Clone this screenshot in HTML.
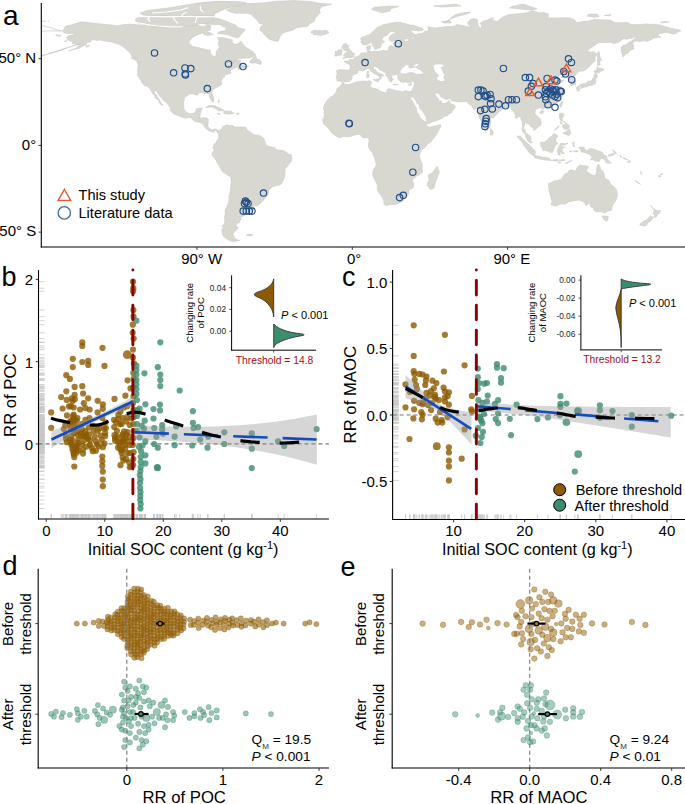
<!DOCTYPE html>
<html><head><meta charset="utf-8"><style>
html,body{margin:0;padding:0;background:#fff;}
svg{display:block;}
text{font-family:"Liberation Sans", sans-serif;}
</style></head><body>
<svg width="685" height="804" viewBox="0 0 685 804">
<rect width="685" height="804" fill="#fff"/>
<defs><clipPath id="mapclip"><rect x="41.5" y="0" width="643.5" height="246.5"/></clipPath></defs>
<g clip-path="url(#mapclip)">
<path d="M62.2,31.7 L65.7,26.0 L70.9,25.1 L81.2,21.8 L89.9,22.7 L96.8,23.6 L108.9,24.8 L117.5,25.8 L122.7,24.8 L129.6,24.1 L138.2,24.8 L145.1,25.6 L153.8,26.2 L162.4,27.2 L169.3,26.2 L177.9,27.9 L183.1,26.2 L186.6,28.4 L188.3,21.5 L190.9,20.6 L196.9,25.0 L203.8,26.7 L207.3,24.4 L210.7,25.8 L210.2,30.2 L203.8,31.0 L201.2,33.6 L196.1,35.4 L191.7,38.3 L189.1,41.4 L189.1,43.5 L192.6,46.6 L199.5,47.8 L205.5,49.6 L210.2,49.9 L210.7,53.6 L213.3,56.5 L215.9,56.2 L216.3,51.0 L219.7,47.5 L218.0,44.0 L219.0,40.9 L217.3,37.4 L221.9,37.6 L228.0,38.8 L232.3,39.7 L232.3,43.2 L235.8,44.5 L238.4,43.5 L240.8,40.9 L243.5,44.9 L246.1,47.5 L250.4,50.1 L253.4,52.3 L256.0,54.9 L253.9,56.3 L249.6,58.1 L243.5,58.2 L237.5,58.8 L233.2,61.9 L230.1,63.8 L234.9,60.7 L237.5,60.1 L241.3,60.7 L240.1,62.2 L240.4,63.9 L242.7,65.7 L246.1,66.2 L248.7,65.9 L247.0,67.1 L242.7,68.1 L238.7,69.7 L238.0,68.1 L240.9,66.9 L236.6,67.2 L234.0,68.6 L231.1,69.7 L230.1,71.7 L231.4,73.0 L228.9,73.7 L224.5,75.0 L224.5,76.9 L222.8,78.2 L221.3,80.4 L221.3,82.1 L221.9,84.2 L220.2,85.3 L217.8,86.7 L215.6,87.9 L212.8,89.6 L211.8,92.5 L213.1,96.0 L214.0,99.0 L213.5,101.7 L212.1,101.7 L211.1,100.0 L209.5,97.0 L209.5,95.1 L208.0,93.6 L206.4,93.4 L204.7,93.9 L203.0,92.7 L199.5,92.7 L197.6,93.1 L198.3,95.0 L196.1,95.0 L193.5,94.1 L190.0,93.9 L187.8,95.3 L184.5,97.4 L184.1,100.3 L183.6,103.8 L183.6,107.3 L184.5,109.9 L186.0,112.1 L188.6,113.3 L191.7,113.5 L194.3,113.3 L195.9,111.3 L196.2,109.0 L200.0,108.1 L202.1,108.1 L201.2,111.1 L200.4,113.5 L199.9,117.3 L198.8,118.0 L201.2,118.0 L205.5,117.7 L208.5,119.4 L208.0,123.7 L207.8,126.3 L209.9,128.9 L212.5,130.0 L215.0,128.8 L218.0,130.3 L218.8,131.0 L217.8,132.9 L216.9,131.4 L215.0,130.0 L213.7,132.4 L211.6,131.5 L209.0,131.0 L206.1,128.4 L204.3,126.7 L204.2,125.8 L201.6,123.2 L198.6,122.2 L194.5,121.3 L191.7,118.4 L189.1,117.3 L185.7,118.2 L182.2,117.2 L177.9,115.4 L173.6,113.7 L170.2,110.4 L170.5,108.0 L168.6,105.0 L165.8,102.1 L163.4,100.7 L161.0,97.2 L158.6,95.1 L156.9,91.3 L154.1,90.3 L154.6,93.1 L156.7,95.3 L157.6,97.4 L159.8,100.3 L161.5,103.5 L163.2,105.2 L161.9,105.2 L158.9,102.6 L158.6,100.3 L155.1,98.1 L155.3,96.2 L152.7,93.8 L150.8,90.6 L150.0,88.7 L147.9,86.5 L144.1,85.4 L141.8,82.5 L140.8,80.2 L138.6,77.1 L137.5,75.4 L137.9,72.6 L137.4,70.9 L138.2,65.3 L137.0,61.7 L139.9,61.3 L139.1,59.6 L135.6,58.2 L132.2,57.0 L131.3,54.4 L127.9,51.0 L126.1,49.2 L122.7,46.6 L118.4,44.0 L115.8,43.2 L110.6,41.8 L105.4,41.2 L100.2,40.0 L96.8,40.4 L92.5,39.3 L90.2,42.3 L87.3,42.3 L86.4,44.4 L82.1,46.6 L78.6,48.4 L73.5,49.6 L68.3,51.0 L70.9,49.9 L75.2,48.7 L78.6,45.8 L81.2,43.7 L77.8,44.0 L72.6,43.8 L72.6,41.6 L68.6,40.4 L66.9,38.8 L66.4,37.4 L68.1,35.9 L73.5,34.8 L74.7,33.4 L70.9,33.4 L67.4,33.6 L65.0,33.1Z" fill="#d9d8d0" stroke="#c4c4c0" stroke-width="0.5" stroke-linejoin="round"/>
<path d="M226.3,9.7 L236.6,6.4 L245.3,3.6 L262.5,2.9 L276.3,1.2 L295.3,0.5 L310.9,1.6 L319.5,3.3 L331.6,4.2 L321.2,6.8 L319.5,10.2 L320.4,12.8 L317.8,15.4 L315.2,18.0 L314.3,21.5 L310.0,23.6 L307.4,26.5 L297.1,27.4 L292.7,30.3 L286.7,31.7 L282.4,33.4 L279.8,36.9 L278.1,41.2 L274.6,41.1 L268.6,39.0 L265.1,35.4 L262.5,31.9 L259.8,30.2 L260.8,26.7 L264.2,24.4 L259.1,23.2 L257.3,20.6 L254.8,18.0 L251.3,14.6 L247.0,13.3 L234.9,13.2 L228.9,11.4Z" fill="#d9d8d0" stroke="#c4c4c0" stroke-width="0.5" stroke-linejoin="round"/>
<path d="M205.5,18.0 L214.2,17.5 L221.1,19.2 L229.7,22.7 L235.8,25.0 L237.5,27.6 L245.3,29.6 L242.7,32.8 L240.1,35.4 L238.4,38.0 L234.0,37.1 L228.0,34.8 L222.8,34.0 L217.6,33.8 L218.5,31.9 L226.3,30.2 L225.4,27.6 L219.4,24.4 L212.5,24.4 L206.4,24.1 L200.4,23.2 L197.3,21.0 L200.4,18.0Z" fill="#d9d8d0" stroke="#c4c4c0" stroke-width="0.5" stroke-linejoin="round"/>
<path d="M146.8,21.5 L150.3,18.9 L158.9,19.1 L167.6,18.0 L171.9,19.8 L177.1,23.2 L174.5,26.2 L167.6,26.7 L157.2,26.9 L150.3,25.5 L147.7,23.4Z" fill="#d9d8d0" stroke="#c4c4c0" stroke-width="0.5" stroke-linejoin="round"/>
<path d="M136.5,20.8 L139.1,17.2 L146.8,16.5 L150.3,18.0 L146.8,20.6 L143.4,21.8 L136.5,21.5Z" fill="#d9d8d0" stroke="#c4c4c0" stroke-width="0.5" stroke-linejoin="round"/>
<path d="M196.9,12.0 L205.5,13.2 L215.9,13.3 L222.8,9.4 L228.0,7.6 L238.4,5.5 L245.3,3.3 L231.4,1.7 L214.2,1.6 L196.9,3.3 L193.5,5.0 L196.9,6.8 L202.1,8.5 L196.9,9.4Z" fill="#d9d8d0" stroke="#c4c4c0" stroke-width="0.5" stroke-linejoin="round"/>
<path d="M193.5,12.8 L200.4,12.8 L209.0,12.8 L214.2,13.2 L214.2,16.3 L205.5,16.3 L193.5,15.8 L190.0,14.6Z" fill="#d9d8d0" stroke="#c4c4c0" stroke-width="0.5" stroke-linejoin="round"/>
<path d="M188.3,5.9 L193.5,4.5 L202.1,6.8 L198.6,10.2 L193.5,9.4 L186.6,7.6Z" fill="#d9d8d0" stroke="#c4c4c0" stroke-width="0.5" stroke-linejoin="round"/>
<path d="M150.3,13.7 L158.9,12.8 L169.3,14.6 L169.3,15.8 L158.9,16.3 L150.3,15.4Z" fill="#d9d8d0" stroke="#c4c4c0" stroke-width="0.5" stroke-linejoin="round"/>
<path d="M177.9,17.2 L184.8,17.5 L184.8,21.5 L177.9,20.6Z" fill="#d9d8d0" stroke="#c4c4c0" stroke-width="0.5" stroke-linejoin="round"/>
<path d="M188.3,17.2 L195.2,17.2 L195.2,20.1 L190.0,20.1Z" fill="#d9d8d0" stroke="#c4c4c0" stroke-width="0.5" stroke-linejoin="round"/>
<path d="M177.9,12.8 L184.8,12.7 L184.8,15.4 L179.7,15.1Z" fill="#d9d8d0" stroke="#c4c4c0" stroke-width="0.5" stroke-linejoin="round"/>
<path d="M202.1,31.9 L207.3,31.5 L213.3,34.5 L207.3,35.4 L203.8,34.5Z" fill="#d9d8d0" stroke="#c4c4c0" stroke-width="0.5" stroke-linejoin="round"/>
<path d="M310.9,31.9 L314.3,30.3 L321.2,30.7 L326.4,30.2 L329.0,32.4 L326.4,34.0 L320.4,35.5 L316.0,34.8 L313.1,34.7 L314.3,33.4 L310.9,32.9Z" fill="#d9d8d0" stroke="#c4c4c0" stroke-width="0.5" stroke-linejoin="round"/>
<path d="M249.9,62.9 L255.6,62.9 L260.8,64.5 L261.3,62.6 L259.9,60.1 L256.5,59.1 L256.0,56.0 L253.4,57.5 L249.7,61.3Z" fill="#d9d8d0" stroke="#c4c4c0" stroke-width="0.5" stroke-linejoin="round"/>
<path d="M205.7,107.4 L209.0,105.5 L214.2,105.4 L218.5,107.6 L221.9,109.0 L224.2,110.4 L218.5,110.9 L217.6,109.5 L211.6,106.9 L207.3,107.4Z" fill="#d9d8d0" stroke="#c4c4c0" stroke-width="0.5" stroke-linejoin="round"/>
<path d="M223.8,111.1 L226.6,110.9 L231.4,111.3 L234.2,113.2 L229.7,114.2 L223.8,113.5Z" fill="#d9d8d0" stroke="#c4c4c0" stroke-width="0.5" stroke-linejoin="round"/>
<path d="M217.1,113.5 L220.6,113.9 L219.7,114.4 L217.3,113.9Z" fill="#d9d8d0" stroke="#c4c4c0" stroke-width="0.5" stroke-linejoin="round"/>
<path d="M130.8,57.4 L136.5,58.2 L139.2,61.5 L136.8,61.2 L133.0,59.1Z" fill="#d9d8d0" stroke="#c4c4c0" stroke-width="0.5" stroke-linejoin="round"/>
<path d="M218.8,130.7 L221.8,128.8 L222.5,126.7 L224.2,126.0 L227.5,124.8 L229.0,125.6 L231.1,125.5 L233.2,125.6 L234.6,127.0 L238.4,127.0 L241.8,127.0 L245.3,127.0 L247.5,130.5 L249.9,131.5 L252.2,133.6 L253.9,135.0 L257.3,135.2 L259.9,135.7 L262.5,137.6 L263.9,138.5 L265.1,142.1 L266.0,144.9 L268.6,146.3 L274.6,147.8 L276.3,149.7 L279.8,150.3 L283.2,150.4 L285.8,152.0 L288.4,153.9 L291.2,154.8 L292.0,158.4 L291.5,161.0 L289.3,163.6 L287.6,166.2 L285.0,168.8 L284.8,175.6 L283.8,179.2 L281.7,183.4 L279.8,185.1 L275.5,185.8 L272.0,187.2 L268.6,190.3 L268.4,194.4 L266.1,197.0 L263.7,200.0 L262.0,201.5 L260.1,203.8 L257.7,205.7 L255.1,205.9 L252.3,205.0 L253.5,206.9 L254.4,208.5 L252.9,211.6 L249.6,212.5 L245.1,212.8 L244.7,215.6 L242.1,216.6 L239.9,216.5 L241.3,218.7 L240.3,219.9 L239.6,222.5 L237.0,223.6 L235.6,225.8 L237.5,227.0 L238.5,228.1 L235.2,231.2 L233.2,232.9 L233.0,234.8 L234.2,236.0 L233.9,236.6 L234.4,238.1 L237.5,240.0 L239.7,240.5 L236.6,240.9 L233.9,241.8 L230.6,240.9 L228.0,239.7 L223.7,236.6 L222.3,233.8 L221.9,229.8 L223.7,226.9 L221.9,226.2 L224.0,224.3 L224.9,220.8 L224.5,217.8 L225.2,213.9 L225.2,210.0 L226.8,206.9 L228.7,202.6 L228.9,198.3 L229.2,195.3 L230.1,192.2 L230.8,186.5 L231.1,180.9 L230.9,177.1 L229.0,175.9 L225.9,174.0 L222.5,171.7 L220.6,168.8 L219.0,165.8 L217.1,162.4 L215.0,158.6 L213.1,156.5 L212.1,155.5 L211.9,152.9 L213.7,151.3 L214.5,149.9 L212.6,148.2 L213.5,146.1 L214.0,144.0 L215.9,143.1 L216.6,141.2 L218.7,138.5 L218.7,134.0 L217.6,132.7 L218.0,131.7Z" fill="#d9d8d0" stroke="#c4c4c0" stroke-width="0.5" stroke-linejoin="round"/>
<path d="M342.1,83.4 L340.4,86.3 L337.5,87.9 L335.7,92.7 L333.3,95.5 L329.9,97.4 L327.3,100.0 L325.0,103.8 L323.1,108.5 L324.3,110.7 L323.8,112.3 L324.5,114.0 L323.8,117.7 L322.6,119.6 L323.1,121.5 L323.5,124.1 L325.5,125.6 L326.9,127.0 L329.3,129.3 L330.7,131.7 L332.6,133.4 L335.9,135.9 L339.2,137.8 L343.7,136.6 L347.3,136.7 L350.6,136.4 L354.0,135.2 L357.0,134.5 L359.9,134.5 L362.0,136.4 L362.8,137.9 L364.4,137.8 L367.0,137.6 L368.7,138.8 L369.2,140.5 L368.5,143.5 L368.4,146.3 L369.6,149.7 L372.2,152.2 L373.4,155.5 L374.7,158.4 L375.4,161.0 L376.0,163.8 L375.8,166.2 L373.9,168.8 L372.7,173.1 L372.7,175.7 L374.4,179.2 L376.3,183.0 L377.3,185.1 L377.3,189.4 L378.5,192.2 L380.8,195.0 L382.5,198.1 L383.9,200.9 L383.9,204.0 L384.2,204.5 L386.3,205.7 L388.6,205.0 L391.3,204.3 L395.1,204.7 L396.7,204.1 L399.8,202.9 L402.4,201.2 L404.6,199.1 L406.3,196.4 L408.2,194.8 L409.1,190.8 L408.6,190.1 L412.7,188.0 L413.6,187.0 L413.4,183.2 L412.2,179.9 L415.0,177.6 L417.0,175.7 L420.3,174.2 L422.4,172.1 L422.2,167.1 L422.1,163.6 L420.2,159.6 L420.0,157.2 L419.3,156.5 L420.0,153.5 L421.7,150.3 L423.9,148.3 L425.8,146.4 L427.9,143.7 L430.9,141.9 L432.6,139.5 L434.8,137.1 L436.9,134.0 L438.3,131.0 L439.5,128.4 L440.7,127.0 L440.9,124.8 L439.0,124.8 L436.6,125.8 L434.3,126.0 L430.9,126.9 L428.6,127.2 L427.2,125.5 L426.2,125.1 L427.1,123.9 L425.8,122.0 L424.3,121.0 L422.9,120.1 L420.7,118.5 L419.6,116.6 L418.8,114.2 L417.0,112.8 L416.5,109.7 L416.4,108.1 L415.7,106.9 L413.8,104.0 L413.1,102.4 L411.9,100.3 L410.7,98.3 L410.1,97.2 L408.8,94.1 L408.4,93.6 L408.6,92.5 L408.9,93.6 L410.3,96.4 L411.5,97.2 L412.6,94.3 L411.3,91.2 L409.6,91.5 L408.1,91.3 L405.8,90.6 L404.1,91.2 L402.4,91.9 L399.8,91.2 L395.6,90.6 L392.4,89.6 L389.4,88.6 L387.0,89.8 L386.8,91.7 L385.3,92.9 L383.7,92.2 L381.7,91.5 L379.6,91.0 L378.5,89.4 L375.1,88.6 L372.2,88.0 L371.1,87.0 L369.6,86.1 L370.9,84.7 L371.5,81.6 L369.9,80.9 L369.0,80.8 L366.8,81.5 L363.2,81.1 L359.2,81.5 L355.8,82.0 L352.3,83.4 L350.1,84.2 L348.5,84.6 L346.1,84.4 L343.3,83.4Z" fill="#d9d8d0" stroke="#c4c4c0" stroke-width="0.5" stroke-linejoin="round"/>
<path d="M437.4,166.2 L439.3,172.3 L437.8,175.7 L436.0,180.9 L433.8,188.4 L430.3,189.6 L427.7,186.1 L427.1,183.4 L429.0,179.9 L428.3,174.9 L432.6,172.6 L435.2,168.8Z" fill="#d9d8d0" stroke="#c4c4c0" stroke-width="0.5" stroke-linejoin="round"/>
<path d="M342.6,83.0 L341.3,81.6 L339.5,80.9 L336.9,81.3 L337.1,79.0 L335.9,78.2 L336.8,75.7 L337.1,72.6 L336.2,70.9 L338.5,69.7 L342.3,69.8 L346.3,70.0 L349.2,70.2 L350.2,68.1 L350.2,65.7 L348.5,63.8 L344.7,62.6 L344.2,61.2 L347.1,60.8 L349.5,61.2 L349.0,59.3 L350.2,59.8 L352.6,59.6 L354.9,58.6 L355.1,57.2 L356.6,56.8 L358.9,56.2 L360.1,54.4 L360.8,53.2 L363.5,52.7 L366.5,52.7 L367.5,51.8 L367.1,49.4 L366.3,47.3 L367.1,46.4 L370.6,45.4 L370.1,47.5 L370.6,48.2 L369.2,50.1 L371.3,51.8 L373.9,51.1 L376.3,51.6 L380.8,51.0 L384.1,50.4 L386.1,51.1 L388.6,50.1 L388.7,47.7 L389.6,45.9 L391.3,45.4 L393.4,46.6 L394.4,45.2 L392.7,43.2 L394.8,42.3 L400.6,42.3 L404.6,41.6 L402.5,41.1 L398.1,40.7 L391.8,41.6 L389.1,40.0 L389.4,37.1 L390.8,35.4 L394.9,32.9 L396.2,32.6 L394.8,31.4 L390.8,31.4 L388.9,33.1 L387.2,35.2 L384.8,35.9 L382.9,37.4 L382.0,39.2 L382.2,40.4 L384.8,41.4 L383.7,42.5 L381.3,43.8 L380.8,46.6 L379.8,48.2 L377.7,48.0 L376.8,49.4 L374.6,49.2 L374.6,47.5 L372.8,45.8 L372.2,43.5 L370.4,41.8 L369.9,43.2 L366.5,44.7 L363.7,44.9 L362.0,43.8 L360.9,42.3 L361.3,40.6 L360.8,38.8 L361.6,37.4 L364.7,36.4 L367.0,35.4 L369.9,34.5 L371.8,32.6 L374.1,31.0 L375.6,28.8 L378.2,26.9 L380.8,26.2 L383.4,24.6 L386.0,24.1 L389.4,23.6 L392.9,22.9 L396.3,22.2 L400.6,22.4 L403.2,23.2 L405.8,23.6 L409.4,25.0 L414.5,25.6 L417.9,26.9 L422.4,28.2 L423.4,29.8 L421.4,30.7 L418.6,31.0 L415.3,30.5 L410.1,30.0 L412.4,32.8 L413.6,33.8 L416.2,34.8 L417.9,33.8 L421.0,33.4 L422.2,33.6 L424.5,31.4 L428.3,31.0 L428.6,27.9 L427.4,26.7 L431.7,27.6 L435.2,27.9 L443.8,27.0 L446.4,26.3 L450.7,26.7 L454.2,26.2 L456.8,24.4 L462.8,25.5 L468.0,26.7 L470.6,27.0 L470.0,25.8 L467.6,24.1 L468.0,22.0 L470.9,19.2 L474.0,18.4 L476.6,19.2 L478.0,20.3 L477.1,22.4 L478.0,23.4 L477.6,25.8 L479.2,26.7 L480.8,28.4 L481.8,25.8 L480.1,23.2 L483.5,21.0 L487.8,19.9 L491.6,17.9 L493.9,18.0 L491.3,20.1 L497.3,21.5 L501.6,17.7 L507.7,14.9 L516.3,13.9 L522.9,13.2 L526.3,12.8 L532.4,10.7 L535.3,11.4 L537.9,12.8 L543.9,12.5 L548.3,14.0 L548.3,17.7 L556.0,18.0 L564.7,17.7 L570.7,18.0 L574.7,19.8 L576.1,22.4 L579.0,22.5 L581.9,21.5 L587.1,21.3 L592.3,20.1 L595.7,19.2 L600.1,19.8 L610.4,20.1 L615.6,22.7 L623.4,22.4 L628.5,22.7 L631.1,24.8 L635.4,24.6 L641.5,24.4 L646.7,23.9 L650.1,24.3 L656.2,24.4 L660.7,25.1 L663.1,26.0 L666.5,26.9 L670.8,28.2 L676.0,29.3 L678.6,29.8 L680.9,30.8 L677.7,31.9 L676.0,33.8 L672.6,34.0 L669.1,33.1 L665.7,32.2 L663.1,32.8 L660.8,33.4 L658.8,33.1 L657.9,35.9 L661.3,37.4 L658.8,37.1 L653.6,38.3 L651.0,39.7 L646.7,41.4 L644.1,40.6 L638.9,41.8 L637.2,40.9 L634.6,41.6 L633.7,42.6 L632.0,44.5 L634.1,45.4 L632.9,47.8 L634.1,48.4 L631.6,49.7 L628.5,51.5 L628.0,53.2 L626.0,53.7 L624.2,55.8 L622.8,57.0 L622.3,54.1 L620.9,50.1 L621.5,47.0 L623.2,45.2 L625.6,44.9 L628.5,42.6 L631.6,40.9 L634.6,38.8 L635.8,37.4 L634.1,37.1 L632.0,38.5 L629.1,38.3 L627.7,39.3 L623.4,38.8 L618.7,42.3 L615.6,43.2 L613.5,43.5 L610.4,42.3 L607.0,42.6 L603.5,42.6 L599.2,42.6 L596.4,43.8 L594.9,45.2 L591.1,47.5 L588.5,50.1 L585.7,50.6 L589.2,51.8 L591.6,52.2 L593.1,51.5 L596.4,53.7 L596.4,54.9 L594.9,57.9 L594.9,61.3 L591.8,63.6 L589.7,66.0 L586.2,69.5 L582.3,71.2 L579.9,70.9 L578.0,72.1 L576.2,74.3 L576.1,74.7 L573.6,76.4 L572.4,77.3 L573.6,78.9 L575.4,80.8 L575.7,83.0 L575.4,84.4 L573.3,84.9 L570.7,85.8 L570.4,84.6 L570.9,82.7 L570.0,80.8 L570.2,79.9 L568.5,80.1 L567.8,78.5 L568.6,76.9 L566.9,76.3 L564.5,76.8 L562.1,78.0 L561.4,77.3 L563.3,75.4 L562.2,74.5 L560.5,75.0 L558.4,76.6 L556.9,77.6 L555.3,78.2 L556.2,79.4 L557.6,80.4 L558.4,80.9 L560.0,80.4 L561.0,79.9 L563.8,80.6 L562.9,81.5 L560.9,82.1 L558.8,83.7 L558.1,85.1 L560.0,86.0 L561.0,88.7 L562.8,90.5 L562.8,91.9 L560.3,92.9 L563.1,93.6 L562.4,96.4 L561.2,97.0 L560.2,99.0 L558.8,99.8 L558.6,101.6 L557.1,102.8 L555.7,103.6 L553.4,105.5 L551.5,105.9 L549.5,106.9 L548.3,106.6 L546.5,107.6 L543.6,108.3 L542.6,110.2 L541.9,108.3 L539.6,107.8 L537.7,108.5 L536.5,109.5 L535.1,111.1 L534.8,113.2 L536.3,115.2 L538.4,117.2 L540.3,118.9 L541.0,122.2 L540.8,125.1 L539.5,126.3 L537.6,127.4 L536.0,128.9 L533.8,130.5 L533.2,129.5 L533.8,128.2 L532.4,127.2 L531.0,127.0 L530.1,125.6 L529.4,124.3 L527.9,123.6 L526.5,123.4 L526.5,122.2 L525.1,122.2 L525.0,124.1 L523.6,127.4 L523.6,129.5 L524.8,129.5 L525.6,132.7 L526.7,133.4 L528.1,134.7 L529.4,135.0 L530.6,136.7 L530.8,138.5 L530.8,140.5 L531.7,141.6 L532.2,143.0 L531.0,143.1 L528.7,141.6 L527.4,140.7 L526.7,139.2 L525.8,136.9 L525.3,134.3 L524.1,132.7 L522.4,131.4 L522.0,129.8 L522.7,127.0 L522.4,124.6 L522.4,122.5 L521.2,119.8 L520.8,117.5 L520.1,116.1 L518.6,116.8 L517.0,118.2 L514.9,117.7 L515.6,115.4 L515.1,113.9 L513.7,111.8 L511.8,109.5 L511.1,108.7 L510.8,106.4 L509.4,106.4 L508.2,107.6 L507.2,107.3 L506.0,107.4 L505.1,108.0 L503.4,107.8 L501.6,110.2 L499.2,111.6 L497.5,113.7 L494.2,116.6 L494.2,117.5 L492.5,117.8 L490.9,117.8 L490.6,119.2 L490.8,122.4 L490.2,124.6 L490.1,127.4 L489.0,127.6 L488.5,128.9 L487.5,130.0 L486.1,131.5 L484.5,130.0 L483.5,127.6 L483.0,125.8 L482.5,125.0 L481.6,123.4 L481.1,121.1 L479.2,117.7 L478.5,114.4 L478.0,112.1 L478.0,110.0 L477.6,108.3 L478.0,107.3 L477.1,106.8 L475.2,109.4 L474.0,109.0 L471.8,107.1 L472.5,106.4 L470.6,105.0 L468.7,104.0 L466.9,101.4 L463.7,101.7 L458.5,101.9 L455.2,101.4 L453.3,101.0 L451.4,100.9 L450.4,98.4 L448.5,98.8 L446.7,99.5 L444.7,99.0 L442.9,97.6 L441.2,97.0 L440.0,95.5 L438.8,93.2 L437.9,93.4 L436.7,92.9 L435.2,93.4 L435.2,94.8 L436.6,96.9 L437.4,97.7 L438.8,99.1 L439.0,101.0 L440.0,102.4 L441.0,100.2 L441.4,101.7 L441.4,103.5 L443.1,103.5 L445.5,103.6 L447.9,101.4 L449.2,100.2 L449.7,102.2 L451.4,104.0 L453.6,104.5 L455.0,106.2 L455.5,106.8 L454.0,108.8 L453.3,110.0 L452.1,110.4 L451.9,112.5 L450.0,113.2 L447.8,114.9 L447.8,115.6 L445.9,115.9 L442.8,117.0 L442.4,118.4 L437.9,119.9 L436.4,121.1 L435.0,121.1 L433.4,121.8 L431.0,122.4 L430.0,123.4 L428.3,123.6 L427.4,123.6 L426.9,122.5 L426.5,121.0 L426.2,118.9 L426.0,117.2 L425.8,116.3 L424.5,114.6 L422.9,111.6 L421.7,110.4 L419.8,108.5 L419.6,106.2 L418.8,104.3 L417.0,103.3 L416.5,101.9 L414.8,99.3 L413.8,97.9 L412.0,96.7 L412.6,94.3 L411.5,91.3 L412.0,90.8 L412.7,88.6 L413.6,86.7 L414.3,84.1 L414.1,82.5 L414.8,82.0 L412.2,81.6 L410.1,82.8 L408.4,82.8 L405.1,81.8 L403.6,82.8 L401.9,81.8 L400.0,81.8 L400.0,80.8 L397.7,79.2 L398.6,77.6 L397.5,76.9 L398.2,75.4 L399.4,75.4 L402.0,75.2 L402.7,74.0 L397.2,74.7 L395.5,74.5 L393.6,75.6 L391.8,75.0 L391.3,76.1 L392.5,77.5 L391.8,78.7 L393.7,79.2 L392.2,79.9 L391.7,82.1 L390.6,81.5 L389.8,81.6 L388.7,79.9 L389.1,78.9 L388.0,78.0 L387.2,76.8 L385.8,75.4 L386.0,73.1 L384.2,71.9 L382.5,70.9 L379.9,70.0 L378.5,68.8 L377.0,67.1 L376.0,67.2 L374.9,66.2 L373.5,66.7 L373.4,68.1 L374.1,69.0 L375.8,70.0 L376.5,71.4 L378.4,72.8 L379.9,73.5 L382.5,74.7 L384.2,75.9 L383.2,76.1 L381.5,75.4 L381.0,76.8 L382.0,77.8 L381.0,78.2 L380.1,79.5 L379.4,79.7 L379.8,78.3 L379.4,76.1 L378.2,75.7 L376.6,74.7 L374.6,73.8 L373.2,72.8 L371.6,71.7 L370.4,71.1 L369.9,69.3 L367.7,68.5 L365.4,69.5 L363.5,70.7 L360.2,70.2 L357.7,70.7 L357.8,71.9 L357.8,72.8 L355.9,74.0 L353.7,74.3 L352.3,76.3 L351.8,77.3 L352.5,78.3 L351.3,79.2 L351.1,80.2 L349.9,80.6 L348.7,81.8 L346.4,81.8 L344.7,81.8 L343.7,82.5Z" fill="#d9d8d0" stroke="#c4c4c0" stroke-width="0.5" stroke-linejoin="round"/>
<path d="M342.5,58.6 L347.1,57.7 L352.3,57.4 L354.7,56.7 L353.2,55.6 L355.2,54.1 L352.6,52.7 L351.4,51.0 L349.7,49.2 L348.8,48.4 L347.8,47.8 L349.2,45.8 L346.3,45.4 L347.1,43.8 L343.7,43.8 L342.3,45.8 L342.8,47.8 L341.6,47.8 L343.7,49.6 L344.2,50.4 L346.8,50.3 L346.3,51.3 L347.1,52.0 L346.9,53.0 L344.4,53.0 L345.0,53.7 L345.2,54.8 L343.1,55.6 L345.4,56.0 L346.8,56.3 L345.0,56.7Z" fill="#d9d8d0" stroke="#c4c4c0" stroke-width="0.5" stroke-linejoin="round"/>
<path d="M341.9,54.9 L341.6,52.0 L342.6,51.0 L341.6,49.7 L339.7,49.6 L338.0,49.9 L337.5,51.3 L335.0,51.5 L335.2,53.0 L335.9,54.2 L334.3,55.5 L335.7,56.2 L338.5,55.6 L341.3,55.1Z" fill="#d9d8d0" stroke="#c4c4c0" stroke-width="0.5" stroke-linejoin="round"/>
<path d="M578.3,86.5 L580.9,84.1 L586.2,83.5 L588.3,80.8 L589.3,81.6 L591.4,80.6 L594.0,76.9 L594.0,75.2 L594.5,73.8 L596.6,73.7 L597.5,76.9 L595.7,79.0 L595.6,81.5 L595.4,83.5 L593.7,84.7 L591.9,85.3 L588.8,85.4 L587.1,87.2 L585.6,86.7 L585.4,85.4 L581.9,86.0 L578.5,86.7Z" fill="#d9d8d0" stroke="#c4c4c0" stroke-width="0.5" stroke-linejoin="round"/>
<path d="M594.0,71.7 L594.9,70.4 L596.6,70.4 L597.1,66.9 L599.2,68.3 L603.2,68.6 L603.5,70.4 L600.9,71.1 L599.7,72.6 L595.7,73.0Z" fill="#d9d8d0" stroke="#c4c4c0" stroke-width="0.5" stroke-linejoin="round"/>
<path d="M576.2,87.7 L577.1,86.7 L578.5,86.7 L580.0,88.2 L579.2,90.8 L577.6,91.5 L577.1,89.8 L576.1,88.7Z" fill="#d9d8d0" stroke="#c4c4c0" stroke-width="0.5" stroke-linejoin="round"/>
<path d="M580.7,87.5 L581.9,86.3 L584.7,86.1 L584.7,87.2 L582.4,87.7 L581.2,88.6Z" fill="#d9d8d0" stroke="#c4c4c0" stroke-width="0.5" stroke-linejoin="round"/>
<path d="M597.5,65.7 L600.1,64.8 L599.7,60.0 L601.6,60.5 L599.5,55.6 L599.5,52.7 L598.7,51.3 L598.0,52.7 L596.9,54.6 L597.8,57.0 L597.3,60.8 L597.6,63.6Z" fill="#d9d8d0" stroke="#c4c4c0" stroke-width="0.5" stroke-linejoin="round"/>
<path d="M559.7,105.5 L561.2,101.7 L562.8,102.1 L562.1,104.7 L560.9,107.4Z" fill="#d9d8d0" stroke="#c4c4c0" stroke-width="0.5" stroke-linejoin="round"/>
<path d="M539.8,112.1 L541.9,110.6 L543.9,111.4 L542.4,113.7 L540.0,113.3Z" fill="#d9d8d0" stroke="#c4c4c0" stroke-width="0.5" stroke-linejoin="round"/>
<path d="M490.1,131.5 L490.6,128.4 L492.5,130.7 L493.5,132.7 L492.7,134.7 L490.4,135.0Z" fill="#d9d8d0" stroke="#c4c4c0" stroke-width="0.5" stroke-linejoin="round"/>
<path d="M516.8,135.9 L520.6,136.4 L525.5,141.6 L531.3,146.8 L532.7,148.5 L535.3,150.9 L535.0,155.5 L532.9,155.6 L529.3,152.7 L526.7,149.2 L523.6,145.1 L522.5,142.5 L520.1,140.0 L517.9,137.6Z" fill="#d9d8d0" stroke="#c4c4c0" stroke-width="0.5" stroke-linejoin="round"/>
<path d="M533.9,157.2 L535.5,155.6 L538.8,156.3 L543.1,157.2 L546.7,157.4 L550.0,158.7 L550.0,160.5 L542.2,159.6 L536.2,158.2Z" fill="#d9d8d0" stroke="#c4c4c0" stroke-width="0.5" stroke-linejoin="round"/>
<path d="M540.5,142.8 L541.5,141.9 L543.9,142.6 L547.4,139.9 L549.5,137.4 L551.7,136.2 L553.8,133.4 L555.5,134.3 L558.1,136.2 L556.5,137.4 L555.9,138.3 L556.0,141.4 L557.8,143.8 L555.2,145.2 L554.8,147.1 L553.4,149.7 L552.6,152.2 L550.2,152.5 L547.4,150.9 L544.8,150.6 L542.6,150.4 L542.4,148.0 L540.7,146.3 L540.5,144.5Z" fill="#d9d8d0" stroke="#c4c4c0" stroke-width="0.5" stroke-linejoin="round"/>
<path d="M558.6,154.9 L560.2,154.9 L560.3,150.6 L562.1,153.7 L564.3,153.4 L561.7,150.3 L563.8,147.1 L565.2,147.0 L561.2,146.8 L559.7,144.5 L561.2,143.1 L564.7,143.8 L567.8,142.8 L568.1,143.1 L565.5,144.7 L560.5,145.4 L559.1,145.6 L557.4,150.3 L558.3,154.9Z" fill="#d9d8d0" stroke="#c4c4c0" stroke-width="0.5" stroke-linejoin="round"/>
<path d="M578.5,147.5 L583.7,147.0 L586.2,151.1 L590.6,148.2 L595.7,149.9 L601.8,152.0 L604.0,154.9 L607.0,156.0 L606.6,158.2 L609.2,161.0 L611.3,163.2 L606.4,163.1 L604.4,159.3 L601.4,158.6 L599.7,160.1 L599.7,161.2 L598.3,161.5 L595.7,161.2 L592.3,159.4 L590.6,160.0 L591.9,157.5 L590.6,154.9 L586.8,153.2 L583.3,152.2 L581.6,152.3 L580.2,150.3 L582.8,149.6 L580.5,149.2Z" fill="#d9d8d0" stroke="#c4c4c0" stroke-width="0.5" stroke-linejoin="round"/>
<path d="M559.5,113.3 L560.5,113.3 L563.3,113.3 L563.8,115.9 L562.9,117.3 L562.2,118.0 L562.4,120.8 L566.4,123.6 L565.2,122.0 L563.8,121.3 L560.5,120.6 L559.5,117.7Z" fill="#d9d8d0" stroke="#c4c4c0" stroke-width="0.5" stroke-linejoin="round"/>
<path d="M562.9,133.3 L565.5,131.9 L566.9,130.7 L569.0,128.4 L570.9,132.7 L569.8,134.7 L568.6,135.7 L566.4,134.5 L563.1,133.4Z" fill="#d9d8d0" stroke="#c4c4c0" stroke-width="0.5" stroke-linejoin="round"/>
<path d="M562.9,125.0 L567.2,123.7 L569.8,126.3 L568.1,128.4 L564.7,129.5 L562.8,127.2Z" fill="#d9d8d0" stroke="#c4c4c0" stroke-width="0.5" stroke-linejoin="round"/>
<path d="M548.3,183.5 L549.1,190.5 L550.8,197.4 L552.1,201.7 L550.8,204.8 L556.0,206.1 L559.5,204.3 L565.5,204.1 L568.1,202.1 L573.3,200.9 L578.5,200.0 L583.7,201.7 L586.2,205.7 L589.7,202.6 L590.6,206.9 L593.1,207.6 L593.7,210.0 L596.6,211.9 L600.9,211.6 L604.9,213.0 L607.8,210.9 L611.3,210.4 L612.1,206.9 L613.5,203.5 L615.8,200.9 L617.5,194.8 L616.5,189.6 L613.0,186.0 L610.4,184.0 L609.2,180.6 L604.9,178.2 L604.0,174.0 L603.2,171.4 L600.6,169.7 L600.1,167.1 L598.3,163.9 L596.8,167.6 L596.6,172.3 L595.0,175.7 L592.3,175.2 L588.8,172.8 L586.2,171.0 L588.5,166.7 L587.1,166.0 L581.9,165.5 L580.2,165.0 L577.3,167.2 L575.9,171.0 L572.9,170.2 L569.8,169.8 L566.9,173.6 L564.7,174.0 L563.3,176.4 L561.2,179.2 L556.9,180.6 L553.8,181.1 L550.2,183.2Z" fill="#d9d8d0" stroke="#c4c4c0" stroke-width="0.5" stroke-linejoin="round"/>
<path d="M602.1,215.9 L608.3,216.3 L607.8,220.3 L605.9,221.0 L603.2,218.7Z" fill="#d9d8d0" stroke="#c4c4c0" stroke-width="0.5" stroke-linejoin="round"/>
<path d="M650.5,205.0 L653.6,209.2 L656.0,210.4 L660.5,210.7 L659.4,213.3 L657.7,213.9 L656.2,217.0 L654.8,217.5 L653.7,216.8 L654.8,215.1 L653.1,213.9 L653.9,211.4 L653.1,209.0Z" fill="#d9d8d0" stroke="#c4c4c0" stroke-width="0.5" stroke-linejoin="round"/>
<path d="M650.5,215.6 L653.2,217.7 L651.3,219.9 L650.5,221.3 L648.0,222.2 L646.8,224.9 L644.1,226.2 L639.8,225.1 L640.6,223.4 L643.0,221.7 L647.2,219.4 L649.3,217.1Z" fill="#d9d8d0" stroke="#c4c4c0" stroke-width="0.5" stroke-linejoin="round"/>
<path d="M441.2,21.5 L443.8,22.9 L448.1,22.9 L451.6,23.1 L449.0,19.8 L451.6,17.2 L455.9,14.6 L462.8,12.8 L470.6,12.1 L468.0,13.7 L457.6,16.3 L453.3,18.0 L449.8,19.2 L447.3,20.6 L443.8,21.5Z" fill="#d9d8d0" stroke="#c4c4c0" stroke-width="0.5" stroke-linejoin="round"/>
<path d="M371.3,9.4 L374.7,7.1 L381.7,6.8 L388.6,5.9 L398.9,6.4 L390.3,8.8 L390.3,11.1 L381.7,12.8 L376.5,11.1Z" fill="#d9d8d0" stroke="#c4c4c0" stroke-width="0.5" stroke-linejoin="round"/>
<path d="M509.4,8.0 L512.9,6.2 L516.3,5.4 L520.6,4.5 L525.0,4.5 L529.3,6.2 L533.6,7.6 L537.0,8.8 L532.7,10.2 L526.7,9.7 L523.2,9.4 L518.0,8.8Z" fill="#d9d8d0" stroke="#c4c4c0" stroke-width="0.5" stroke-linejoin="round"/>
<path d="M587.1,16.3 L594.0,17.2 L599.2,16.8 L597.5,14.2 L590.6,14.0 L588.0,14.6Z" fill="#d9d8d0" stroke="#c4c4c0" stroke-width="0.5" stroke-linejoin="round"/>
<path d="M604.4,15.4 L611.3,14.6 L609.5,15.9Z" fill="#d9d8d0" stroke="#c4c4c0" stroke-width="0.5" stroke-linejoin="round"/>
<path d="M660.7,22.2 L664.8,21.5 L669.1,22.0 L666.5,22.5 L661.3,22.7Z" fill="#d9d8d0" stroke="#c4c4c0" stroke-width="0.5" stroke-linejoin="round"/>
<path d="M433.4,5.9 L455.9,4.2 L461.1,5.9 L442.1,7.1Z" fill="#d9d8d0" stroke="#c4c4c0" stroke-width="0.5" stroke-linejoin="round"/>
<path d="M373.7,79.4 L379.2,79.0 L378.4,81.8 L373.9,80.2Z" fill="#d9d8d0" stroke="#c4c4c0" stroke-width="0.5" stroke-linejoin="round"/>
<path d="M366.8,77.6 L366.5,74.5 L368.7,74.0 L369.2,75.7 L368.9,77.5Z" fill="#d9d8d0" stroke="#c4c4c0" stroke-width="0.5" stroke-linejoin="round"/>
<path d="M367.1,73.7 L367.1,71.7 L368.5,70.9 L368.7,72.6Z" fill="#d9d8d0" stroke="#c4c4c0" stroke-width="0.5" stroke-linejoin="round"/>
<path d="M392.9,84.2 L397.7,84.2 L397.5,84.7 L394.6,84.9Z" fill="#d9d8d0" stroke="#c4c4c0" stroke-width="0.5" stroke-linejoin="round"/>
<path d="M408.1,84.7 L411.9,83.5 L411.0,85.4 L408.4,85.3Z" fill="#d9d8d0" stroke="#c4c4c0" stroke-width="0.5" stroke-linejoin="round"/>
<path d="M139.9,13.2 L146.8,10.6 L157.2,9.2 L171.0,7.6 L183.1,5.4 L193.5,3.8 L205.5,2.4 L222.8,1.4 L240.1,1.7 L246.1,2.9 L238.4,5.5 L228.0,7.6 L222.8,9.4 L217.6,11.4 L214.2,13.2 L214.2,15.9 L193.5,15.8 L179.7,15.6 L162.4,15.8 L150.3,16.1 L143.4,15.1Z" fill="#d9d8d0" stroke="#c4c4c0" stroke-width="0.5" stroke-linejoin="round"/>
<path d="M135.6,19.1 L138.2,16.8 L148.6,16.8 L162.4,17.5 L176.2,17.5 L188.3,17.5 L196.9,17.5 L205.5,17.9 L212.5,17.5 L214.2,19.8 L207.3,23.2 L200.4,23.2 L196.9,25.0 L188.3,26.7 L179.7,27.2 L165.8,26.7 L153.8,25.8 L145.1,24.4 L138.2,23.6 L135.6,21.0Z" fill="#d9d8d0" stroke="#c4c4c0" stroke-width="0.5" stroke-linejoin="round"/>
<path d="M550.8,159.8 L552.1,160.0 L551.9,160.7 L551.0,160.5Z" fill="#d9d8d0" stroke="#c4c4c0" stroke-width="0.5" stroke-linejoin="round"/>
<path d="M552.6,160.0 L553.8,159.8 L553.6,160.8 L552.7,160.8Z" fill="#d9d8d0" stroke="#c4c4c0" stroke-width="0.5" stroke-linejoin="round"/>
<path d="M554.0,159.8 L558.1,159.4 L558.1,160.7 L554.0,161.0Z" fill="#d9d8d0" stroke="#c4c4c0" stroke-width="0.5" stroke-linejoin="round"/>
<path d="M559.1,160.0 L564.7,159.4 L564.7,160.5 L559.1,160.8Z" fill="#d9d8d0" stroke="#c4c4c0" stroke-width="0.5" stroke-linejoin="round"/>
<path d="M565.5,163.2 L572.1,160.0 L571.6,160.7 L566.4,163.4Z" fill="#d9d8d0" stroke="#c4c4c0" stroke-width="0.5" stroke-linejoin="round"/>
<path d="M557.8,161.9 L560.9,162.6 L560.3,163.2 L557.8,162.4Z" fill="#d9d8d0" stroke="#c4c4c0" stroke-width="0.5" stroke-linejoin="round"/>
<path d="M572.4,142.8 L574.2,141.9 L573.6,144.5 L574.8,146.3 L573.3,146.8 L572.8,144.5Z" fill="#d9d8d0" stroke="#c4c4c0" stroke-width="0.5" stroke-linejoin="round"/>
<path d="M573.3,150.9 L578.1,150.8 L577.6,152.0 L573.6,151.6Z" fill="#d9d8d0" stroke="#c4c4c0" stroke-width="0.5" stroke-linejoin="round"/>
<path d="M569.8,150.9 L571.9,150.9 L571.6,152.0 L569.8,151.8Z" fill="#d9d8d0" stroke="#c4c4c0" stroke-width="0.5" stroke-linejoin="round"/>
<path d="M608.3,154.9 L611.3,154.1 L613.9,152.9 L615.1,152.9 L614.4,154.1 L612.1,155.8 L608.7,156.1Z" fill="#d9d8d0" stroke="#c4c4c0" stroke-width="0.5" stroke-linejoin="round"/>
<path d="M612.7,149.9 L615.6,152.0 L616.5,153.4 L615.8,153.4 L613.0,150.9Z" fill="#d9d8d0" stroke="#c4c4c0" stroke-width="0.5" stroke-linejoin="round"/>
<path d="M619.9,154.9 L621.6,156.7 L621.6,157.5 L619.9,156.1Z" fill="#d9d8d0" stroke="#c4c4c0" stroke-width="0.5" stroke-linejoin="round"/>
<path d="M623.4,157.5 L627.7,159.6 L627.7,160.1 L623.4,158.4Z" fill="#d9d8d0" stroke="#c4c4c0" stroke-width="0.5" stroke-linejoin="round"/>
<path d="M627.7,161.3 L629.9,161.9 L629.4,162.6 L627.8,162.2Z" fill="#d9d8d0" stroke="#c4c4c0" stroke-width="0.5" stroke-linejoin="round"/>
<path d="M629.4,160.1 L630.8,161.3 L630.3,161.9 L629.4,161.0Z" fill="#d9d8d0" stroke="#c4c4c0" stroke-width="0.5" stroke-linejoin="round"/>
<path d="M640.6,171.4 L641.1,172.3 L642.0,174.0 L641.5,174.3 L640.1,172.3Z" fill="#d9d8d0" stroke="#c4c4c0" stroke-width="0.5" stroke-linejoin="round"/>
<path d="M635.4,180.4 L640.6,184.0 L640.3,184.4 L635.4,181.1Z" fill="#d9d8d0" stroke="#c4c4c0" stroke-width="0.5" stroke-linejoin="round"/>
<path d="M658.4,175.7 L660.5,175.4 L660.7,176.9 L658.4,176.6Z" fill="#d9d8d0" stroke="#c4c4c0" stroke-width="0.5" stroke-linejoin="round"/>
<path d="M661.0,173.6 L663.1,174.0 L662.2,174.7 L660.5,174.5Z" fill="#d9d8d0" stroke="#c4c4c0" stroke-width="0.5" stroke-linejoin="round"/>
<path d="M554.6,130.8 L558.6,127.2 L559.0,125.6 L558.1,126.3 L554.6,130.0Z" fill="#d9d8d0" stroke="#c4c4c0" stroke-width="0.5" stroke-linejoin="round"/>
<path d="M560.0,122.0 L562.1,122.5 L561.6,124.1 L560.3,123.6Z" fill="#d9d8d0" stroke="#c4c4c0" stroke-width="0.5" stroke-linejoin="round"/>
<path d="M246.5,234.5 L252.2,234.3 L252.7,235.2 L250.4,235.9 L247.0,235.3Z" fill="#d9d8d0" stroke="#c4c4c0" stroke-width="0.5" stroke-linejoin="round"/>
<path d="M85.6,46.6 L89.0,44.9 L89.4,45.8 L86.4,47.3Z" fill="#d9d8d0" stroke="#c4c4c0" stroke-width="0.5" stroke-linejoin="round"/>
<path d="M218.5,102.9 L218.0,101.7 L219.0,99.5 L219.4,101.2Z" fill="#d9d8d0" stroke="#c4c4c0" stroke-width="0.5" stroke-linejoin="round"/>
<path d="M236.3,113.3 L239.0,113.3 L239.0,114.2 L236.3,114.2Z" fill="#d9d8d0" stroke="#c4c4c0" stroke-width="0.5" stroke-linejoin="round"/>
<path d="M55.7,34.8 L61.0,35.7 L59.7,36.4 L56.2,35.7Z" fill="#d9d8d0" stroke="#c4c4c0" stroke-width="0.5" stroke-linejoin="round"/>
<path d="M64.8,40.7 L66.9,40.6 L66.6,41.8 L64.7,41.6Z" fill="#d9d8d0" stroke="#c4c4c0" stroke-width="0.5" stroke-linejoin="round"/>
<path d="M399.8,71.7 L400.6,70.0 L401.7,68.6 L403.6,66.9 L405.5,64.8 L407.5,64.8 L410.3,65.7 L408.4,66.7 L410.1,68.3 L412.7,67.4 L415.3,66.9 L417.9,68.6 L420.5,70.0 L423.9,73.3 L423.8,73.8 L420.5,74.3 L416.2,74.2 L412.7,72.6 L409.3,72.6 L405.8,74.0 L402.4,74.0 L400.6,73.3Z" fill="#fff" stroke="#c4c4c0" stroke-width="0.5"/>
<path d="M412.7,66.7 L413.6,65.2 L416.7,63.8 L420.0,63.6 L417.9,65.3 L417.0,66.7Z" fill="#fff" stroke="#c4c4c0" stroke-width="0.5"/>
<path d="M433.4,67.8 L433.1,65.7 L435.2,64.3 L438.6,63.9 L441.2,63.9 L443.8,64.5 L444.1,66.5 L441.2,67.4 L441.2,68.6 L443.3,71.6 L443.3,73.5 L445.2,74.7 L443.8,77.3 L445.4,80.8 L441.2,81.6 L438.3,80.6 L436.7,78.7 L437.4,75.7 L439.1,75.6 L437.4,74.3 L436.0,73.0 L434.3,71.1 L434.3,70.0Z" fill="#fff" stroke="#c4c4c0" stroke-width="0.5"/>
<path d="M404.1,39.3 L406.7,38.8 L408.9,39.3 L408.9,40.6 L405.8,41.4 L404.1,40.6Z" fill="#fff" stroke="#c4c4c0" stroke-width="0.5"/>
<path d="M411.9,37.1 L414.8,37.4 L413.6,39.3 L412.2,38.8Z" fill="#fff" stroke="#c4c4c0" stroke-width="0.5"/>
<polyline points="134.8,16.6 162.4,16.6 188.3,16.6 210.7,16.8 215.9,17.0" fill="none" stroke="#fff" stroke-width="1.1"/>
<polyline points="134.8,22.5 143.4,23.7 150.3,25.1 158.9,26.0 171.0,26.9 183.1,26.7" fill="none" stroke="#fff" stroke-width="1.1"/>
<polyline points="172.7,16.8 175.3,20.6 177.9,23.7" fill="none" stroke="#fff" stroke-width="1.1"/>
<polyline points="196.9,16.8 196.1,20.3 195.2,23.2" fill="none" stroke="#fff" stroke-width="1.1"/>
<polyline points="188.3,7.6 179.7,10.2 165.8,12.0 152.0,13.0" fill="none" stroke="#fff" stroke-width="1.1"/>
<polyline points="200.4,5.9 200.4,9.7 203.8,12.0" fill="none" stroke="#fff" stroke-width="1.1"/>
<polyline points="181.4,16.5 183.1,14.0 186.6,12.3" fill="none" stroke="#fff" stroke-width="1.1"/>
<polyline points="150.3,16.1 147.7,18.9 150.3,21.5" fill="none" stroke="#fff" stroke-width="1.1"/>
<polyline points="80,43.6 74,45.5 68,47.5 62,49.6 56,51.6 50,53.3 44,55.2 41.5,55.8" fill="none" stroke="#cbcbc6" stroke-width="1.2" stroke-linecap="round"/>
<path d="M41.9,25.3 L50,27.6 L59,30.4 L61.6,31 L50,30.8 L41.9,31.2" fill="none" stroke="#cbcbc6" stroke-width="0.8"/>
<path d="M42,21 L46,21.3 M48,21.2 L49,21.3" fill="none" stroke="#d0d0cc" stroke-width="1"/>
</g>
<circle cx="154.5" cy="52.9" r="3.2" fill="none" stroke="#1f4e8a" stroke-width="1.15"/>
<circle cx="173.6" cy="72.8" r="3.2" fill="none" stroke="#1f4e8a" stroke-width="1.15"/>
<circle cx="185.0" cy="67.9" r="3.2" fill="none" stroke="#1f4e8a" stroke-width="1.15"/>
<circle cx="190.8" cy="68.6" r="3.2" fill="none" stroke="#1f4e8a" stroke-width="1.15"/>
<circle cx="185.2" cy="73.9" r="3.2" fill="none" stroke="#1f4e8a" stroke-width="1.15"/>
<circle cx="185.5" cy="74.9" r="3.2" fill="none" stroke="#1f4e8a" stroke-width="1.15"/>
<circle cx="228.5" cy="63.9" r="3.2" fill="none" stroke="#1f4e8a" stroke-width="1.15"/>
<circle cx="243.0" cy="66.5" r="3.2" fill="none" stroke="#1f4e8a" stroke-width="1.15"/>
<circle cx="207.3" cy="88.6" r="3.2" fill="none" stroke="#1f4e8a" stroke-width="1.15"/>
<circle cx="398.3" cy="43.7" r="3.2" fill="none" stroke="#1f4e8a" stroke-width="1.15"/>
<circle cx="365.1" cy="62.6" r="3.2" fill="none" stroke="#1f4e8a" stroke-width="1.15"/>
<circle cx="349.3" cy="123.7" r="3.2" fill="none" stroke="#1f4e8a" stroke-width="1.15"/>
<circle cx="349.0" cy="123.3" r="3.2" fill="none" stroke="#1f4e8a" stroke-width="1.15"/>
<circle cx="478.3" cy="90.1" r="3.2" fill="none" stroke="#1f4e8a" stroke-width="1.15"/>
<circle cx="480.9" cy="90.1" r="3.2" fill="none" stroke="#1f4e8a" stroke-width="1.15"/>
<circle cx="483.1" cy="90.9" r="3.2" fill="none" stroke="#1f4e8a" stroke-width="1.15"/>
<circle cx="478.3" cy="96.6" r="3.2" fill="none" stroke="#1f4e8a" stroke-width="1.15"/>
<circle cx="484.4" cy="95.8" r="3.2" fill="none" stroke="#1f4e8a" stroke-width="1.15"/>
<circle cx="487.1" cy="95.3" r="3.2" fill="none" stroke="#1f4e8a" stroke-width="1.15"/>
<circle cx="490.1" cy="94.4" r="3.2" fill="none" stroke="#1f4e8a" stroke-width="1.15"/>
<circle cx="485.8" cy="96.6" r="3.2" fill="none" stroke="#1f4e8a" stroke-width="1.15"/>
<circle cx="491" cy="98.8" r="3.2" fill="none" stroke="#1f4e8a" stroke-width="1.15"/>
<circle cx="490.6" cy="103.6" r="3.2" fill="none" stroke="#1f4e8a" stroke-width="1.15"/>
<circle cx="480.5" cy="110.6" r="3.2" fill="none" stroke="#1f4e8a" stroke-width="1.15"/>
<circle cx="484.9" cy="109.3" r="3.2" fill="none" stroke="#1f4e8a" stroke-width="1.15"/>
<circle cx="492.3" cy="108.9" r="3.2" fill="none" stroke="#1f4e8a" stroke-width="1.15"/>
<circle cx="498.9" cy="104.1" r="3.2" fill="none" stroke="#1f4e8a" stroke-width="1.15"/>
<circle cx="505.5" cy="105.8" r="3.2" fill="none" stroke="#1f4e8a" stroke-width="1.15"/>
<circle cx="508.5" cy="99.7" r="3.2" fill="none" stroke="#1f4e8a" stroke-width="1.15"/>
<circle cx="512" cy="99.7" r="3.2" fill="none" stroke="#1f4e8a" stroke-width="1.15"/>
<circle cx="516.4" cy="99.7" r="3.2" fill="none" stroke="#1f4e8a" stroke-width="1.15"/>
<circle cx="486.2" cy="118.5" r="3.2" fill="none" stroke="#1f4e8a" stroke-width="1.15"/>
<circle cx="485.8" cy="121.2" r="3.2" fill="none" stroke="#1f4e8a" stroke-width="1.15"/>
<circle cx="485.3" cy="123.8" r="3.2" fill="none" stroke="#1f4e8a" stroke-width="1.15"/>
<circle cx="484.9" cy="126.4" r="3.2" fill="none" stroke="#1f4e8a" stroke-width="1.15"/>
<circle cx="525.3" cy="77.5" r="3.2" fill="none" stroke="#1f4e8a" stroke-width="1.15"/>
<circle cx="529.6" cy="77.5" r="3.2" fill="none" stroke="#1f4e8a" stroke-width="1.15"/>
<circle cx="533.1" cy="83.6" r="3.2" fill="none" stroke="#1f4e8a" stroke-width="1.15"/>
<circle cx="531.4" cy="86.3" r="3.2" fill="none" stroke="#1f4e8a" stroke-width="1.15"/>
<circle cx="528.3" cy="91.1" r="3.2" fill="none" stroke="#1f4e8a" stroke-width="1.15"/>
<circle cx="538.4" cy="95" r="3.2" fill="none" stroke="#1f4e8a" stroke-width="1.15"/>
<circle cx="547.1" cy="78.4" r="3.2" fill="none" stroke="#1f4e8a" stroke-width="1.15"/>
<circle cx="555" cy="80.1" r="3.2" fill="none" stroke="#1f4e8a" stroke-width="1.15"/>
<circle cx="556.8" cy="81" r="3.2" fill="none" stroke="#1f4e8a" stroke-width="1.15"/>
<circle cx="546.3" cy="86.3" r="3.2" fill="none" stroke="#1f4e8a" stroke-width="1.15"/>
<circle cx="545.4" cy="89.8" r="3.2" fill="none" stroke="#1f4e8a" stroke-width="1.15"/>
<circle cx="546.3" cy="93.3" r="3.2" fill="none" stroke="#1f4e8a" stroke-width="1.15"/>
<circle cx="545.4" cy="96.8" r="3.2" fill="none" stroke="#1f4e8a" stroke-width="1.15"/>
<circle cx="545.8" cy="99.8" r="3.2" fill="none" stroke="#1f4e8a" stroke-width="1.15"/>
<circle cx="550.6" cy="88.9" r="3.2" fill="none" stroke="#1f4e8a" stroke-width="1.15"/>
<circle cx="553.3" cy="91.5" r="3.2" fill="none" stroke="#1f4e8a" stroke-width="1.15"/>
<circle cx="552.4" cy="95" r="3.2" fill="none" stroke="#1f4e8a" stroke-width="1.15"/>
<circle cx="556.8" cy="94.2" r="3.2" fill="none" stroke="#1f4e8a" stroke-width="1.15"/>
<circle cx="560.3" cy="91.1" r="3.2" fill="none" stroke="#1f4e8a" stroke-width="1.15"/>
<circle cx="561.2" cy="91.5" r="3.2" fill="none" stroke="#1f4e8a" stroke-width="1.15"/>
<circle cx="557.7" cy="97.7" r="3.2" fill="none" stroke="#1f4e8a" stroke-width="1.15"/>
<circle cx="555.9" cy="89.8" r="3.2" fill="none" stroke="#1f4e8a" stroke-width="1.15"/>
<circle cx="548" cy="104.7" r="3.2" fill="none" stroke="#1f4e8a" stroke-width="1.15"/>
<circle cx="555" cy="107.3" r="3.2" fill="none" stroke="#1f4e8a" stroke-width="1.15"/>
<circle cx="563.8" cy="71.4" r="3.2" fill="none" stroke="#1f4e8a" stroke-width="1.15"/>
<circle cx="565.5" cy="74" r="3.2" fill="none" stroke="#1f4e8a" stroke-width="1.15"/>
<circle cx="571.7" cy="79.7" r="3.2" fill="none" stroke="#1f4e8a" stroke-width="1.15"/>
<circle cx="568.5" cy="58.8" r="3.2" fill="none" stroke="#1f4e8a" stroke-width="1.15"/>
<circle cx="571.4" cy="62.4" r="3.2" fill="none" stroke="#1f4e8a" stroke-width="1.15"/>
<circle cx="553" cy="90" r="3.2" fill="none" stroke="#1f4e8a" stroke-width="1.15"/>
<circle cx="550" cy="93" r="3.2" fill="none" stroke="#1f4e8a" stroke-width="1.15"/>
<circle cx="555" cy="96.5" r="3.2" fill="none" stroke="#1f4e8a" stroke-width="1.15"/>
<circle cx="548" cy="91.5" r="3.2" fill="none" stroke="#1f4e8a" stroke-width="1.15"/>
<circle cx="503.4" cy="68.4" r="3.2" fill="none" stroke="#1f4e8a" stroke-width="1.15"/>
<circle cx="263.5" cy="193" r="3.2" fill="none" stroke="#1f4e8a" stroke-width="1.15"/>
<circle cx="245.4" cy="201" r="3.2" fill="none" stroke="#1f4e8a" stroke-width="1.15"/>
<circle cx="246.3" cy="202.3" r="3.2" fill="none" stroke="#1f4e8a" stroke-width="1.15"/>
<circle cx="244.5" cy="203.6" r="3.2" fill="none" stroke="#1f4e8a" stroke-width="1.15"/>
<circle cx="248" cy="203.6" r="3.2" fill="none" stroke="#1f4e8a" stroke-width="1.15"/>
<circle cx="243.2" cy="211.1" r="3.2" fill="none" stroke="#1f4e8a" stroke-width="1.15"/>
<circle cx="246.3" cy="211.1" r="3.2" fill="none" stroke="#1f4e8a" stroke-width="1.15"/>
<circle cx="249.3" cy="211.1" r="3.2" fill="none" stroke="#1f4e8a" stroke-width="1.15"/>
<circle cx="252" cy="211.1" r="3.2" fill="none" stroke="#1f4e8a" stroke-width="1.15"/>
<circle cx="415.6" cy="147.4" r="3.2" fill="none" stroke="#1f4e8a" stroke-width="1.15"/>
<circle cx="412.8" cy="172.2" r="3.2" fill="none" stroke="#1f4e8a" stroke-width="1.15"/>
<circle cx="403.3" cy="195.3" r="3.2" fill="none" stroke="#1f4e8a" stroke-width="1.15"/>
<circle cx="399.6" cy="197.6" r="3.2" fill="none" stroke="#1f4e8a" stroke-width="1.15"/>
<path d="M538.40,78.23 L542.80,85.85 L534.00,85.85Z" fill="none" stroke="#ee5a24" stroke-width="1.5" stroke-linejoin="miter"/>
<path d="M530.10,87.83 L534.50,95.45 L525.70,95.45Z" fill="none" stroke="#ee5a24" stroke-width="1.5" stroke-linejoin="miter"/>
<path d="M551.10,76.03 L555.50,83.65 L546.70,83.65Z" fill="none" stroke="#ee5a24" stroke-width="1.5" stroke-linejoin="miter"/>
<path d="M566.40,64.23 L570.80,71.85 L562.00,71.85Z" fill="none" stroke="#ee5a24" stroke-width="1.5" stroke-linejoin="miter"/>
<line x1="41.30" y1="3.00" x2="41.30" y2="247.50" stroke="#000" stroke-width="1.1" />
<line x1="40.80" y1="247.00" x2="685.00" y2="247.00" stroke="#000" stroke-width="1.1" />
<line x1="38.60" y1="58.70" x2="41.30" y2="58.70" stroke="#333" stroke-width="1" />
<line x1="38.60" y1="145.40" x2="41.30" y2="145.40" stroke="#333" stroke-width="1" />
<line x1="38.60" y1="232.10" x2="41.30" y2="232.10" stroke="#333" stroke-width="1" />
<line x1="196.90" y1="247.00" x2="196.90" y2="249.80" stroke="#333" stroke-width="1" />
<line x1="352.30" y1="247.00" x2="352.30" y2="249.80" stroke="#333" stroke-width="1" />
<line x1="507.60" y1="247.00" x2="507.60" y2="249.80" stroke="#333" stroke-width="1" />
<text x="36.2" y="62.9" font-size="15" text-anchor="end" fill="#000" >50° N</text>
<text x="36.2" y="149.6" font-size="15" text-anchor="end" fill="#000" >0°</text>
<text x="36.2" y="236.3" font-size="15" text-anchor="end" fill="#000" >50° S</text>
<text x="181.2" y="263.6" font-size="15" text-anchor="start" fill="#000" >90° W</text>
<text x="347.0" y="263.6" font-size="15" text-anchor="start" fill="#000" >0°</text>
<text x="493.4" y="263.6" font-size="15" text-anchor="start" fill="#000" >90° E</text>
<text x="3.0" y="24.6" font-size="28" text-anchor="start" fill="#000" >a</text>
<path d="M64.40,189.50 L70.65,200.33 L58.15,200.33Z" fill="none" stroke="#ee5a24" stroke-width="1.4" stroke-linejoin="miter"/>
<circle cx="64.3" cy="212.9" r="6.2" fill="none" stroke="#3d6a9f" stroke-width="1.3"/>
<text x="78.5" y="200.4" font-size="14.6" text-anchor="start" fill="#000" >This study</text>
<text x="78.5" y="218.2" font-size="14.6" text-anchor="start" fill="#000" >Literature data</text>
<line x1="39.00" y1="342.30" x2="44.50" y2="342.30" stroke="#c8c8c8" stroke-width="0.8" />
<line x1="39.00" y1="345.90" x2="44.50" y2="345.90" stroke="#c8c8c8" stroke-width="0.8" />
<line x1="39.00" y1="347.80" x2="44.50" y2="347.80" stroke="#c8c8c8" stroke-width="0.8" />
<line x1="39.00" y1="358.80" x2="44.50" y2="358.80" stroke="#c8c8c8" stroke-width="0.8" />
<line x1="39.00" y1="362.00" x2="44.50" y2="362.00" stroke="#c8c8c8" stroke-width="0.8" />
<line x1="39.00" y1="360.80" x2="44.50" y2="360.80" stroke="#c8c8c8" stroke-width="0.8" />
<line x1="39.00" y1="364.90" x2="44.50" y2="364.90" stroke="#c8c8c8" stroke-width="0.8" />
<line x1="39.00" y1="367.10" x2="44.50" y2="367.10" stroke="#c8c8c8" stroke-width="0.8" />
<line x1="39.00" y1="365.90" x2="44.50" y2="365.90" stroke="#c8c8c8" stroke-width="0.8" />
<line x1="39.00" y1="375.20" x2="44.50" y2="375.20" stroke="#c8c8c8" stroke-width="0.8" />
<line x1="39.00" y1="378.90" x2="44.50" y2="378.90" stroke="#c8c8c8" stroke-width="0.8" />
<line x1="39.00" y1="380.30" x2="44.50" y2="380.30" stroke="#c8c8c8" stroke-width="0.8" />
<line x1="39.00" y1="386.90" x2="44.50" y2="386.90" stroke="#c8c8c8" stroke-width="0.8" />
<line x1="39.00" y1="386.20" x2="44.50" y2="386.20" stroke="#c8c8c8" stroke-width="0.8" />
<line x1="39.00" y1="391.30" x2="44.50" y2="391.30" stroke="#c8c8c8" stroke-width="0.8" />
<line x1="39.00" y1="393.50" x2="44.50" y2="393.50" stroke="#c8c8c8" stroke-width="0.8" />
<line x1="39.00" y1="388.40" x2="44.50" y2="388.40" stroke="#c8c8c8" stroke-width="0.8" />
<line x1="39.00" y1="397.10" x2="44.50" y2="397.10" stroke="#c8c8c8" stroke-width="0.8" />
<line x1="39.00" y1="394.90" x2="44.50" y2="394.90" stroke="#c8c8c8" stroke-width="0.8" />
<line x1="39.00" y1="398.30" x2="44.50" y2="398.30" stroke="#c8c8c8" stroke-width="0.8" />
<line x1="39.00" y1="398.90" x2="44.50" y2="398.90" stroke="#c8c8c8" stroke-width="0.8" />
<line x1="39.00" y1="395.70" x2="44.50" y2="395.70" stroke="#c8c8c8" stroke-width="0.8" />
<line x1="39.00" y1="400.80" x2="44.50" y2="400.80" stroke="#c8c8c8" stroke-width="0.8" />
<line x1="39.00" y1="404.40" x2="44.50" y2="404.40" stroke="#c8c8c8" stroke-width="0.8" />
<line x1="39.00" y1="412.40" x2="44.50" y2="412.40" stroke="#c8c8c8" stroke-width="0.8" />
<line x1="39.00" y1="427.80" x2="44.50" y2="427.80" stroke="#c8c8c8" stroke-width="0.8" />
<line x1="39.00" y1="408.50" x2="44.50" y2="408.50" stroke="#c8c8c8" stroke-width="0.8" />
<line x1="39.00" y1="415.40" x2="44.50" y2="415.40" stroke="#c8c8c8" stroke-width="0.8" />
<line x1="39.00" y1="403.20" x2="44.50" y2="403.20" stroke="#c8c8c8" stroke-width="0.8" />
<line x1="39.00" y1="409.50" x2="44.50" y2="409.50" stroke="#c8c8c8" stroke-width="0.8" />
<line x1="39.00" y1="409.50" x2="44.50" y2="409.50" stroke="#c8c8c8" stroke-width="0.8" />
<line x1="39.00" y1="412.40" x2="44.50" y2="412.40" stroke="#c8c8c8" stroke-width="0.8" />
<line x1="39.00" y1="408.80" x2="44.50" y2="408.80" stroke="#c8c8c8" stroke-width="0.8" />
<line x1="39.00" y1="399.90" x2="44.50" y2="399.90" stroke="#c8c8c8" stroke-width="0.8" />
<line x1="39.00" y1="401.10" x2="44.50" y2="401.10" stroke="#c8c8c8" stroke-width="0.8" />
<line x1="39.00" y1="399.30" x2="44.50" y2="399.30" stroke="#c8c8c8" stroke-width="0.8" />
<line x1="39.00" y1="406.40" x2="44.50" y2="406.40" stroke="#c8c8c8" stroke-width="0.8" />
<line x1="39.00" y1="407.50" x2="44.50" y2="407.50" stroke="#c8c8c8" stroke-width="0.8" />
<line x1="39.00" y1="408.10" x2="44.50" y2="408.10" stroke="#c8c8c8" stroke-width="0.8" />
<line x1="39.00" y1="411.60" x2="44.50" y2="411.60" stroke="#c8c8c8" stroke-width="0.8" />
<line x1="39.00" y1="407.50" x2="44.50" y2="407.50" stroke="#c8c8c8" stroke-width="0.8" />
<line x1="39.00" y1="414.50" x2="44.50" y2="414.50" stroke="#c8c8c8" stroke-width="0.8" />
<line x1="39.00" y1="419.20" x2="44.50" y2="419.20" stroke="#c8c8c8" stroke-width="0.8" />
<line x1="39.00" y1="419.80" x2="44.50" y2="419.80" stroke="#c8c8c8" stroke-width="0.8" />
<line x1="39.00" y1="418.00" x2="44.50" y2="418.00" stroke="#c8c8c8" stroke-width="0.8" />
<line x1="39.00" y1="418.00" x2="44.50" y2="418.00" stroke="#c8c8c8" stroke-width="0.8" />
<line x1="39.00" y1="419.80" x2="44.50" y2="419.80" stroke="#c8c8c8" stroke-width="0.8" />
<line x1="39.00" y1="419.20" x2="44.50" y2="419.20" stroke="#c8c8c8" stroke-width="0.8" />
<line x1="39.00" y1="418.00" x2="44.50" y2="418.00" stroke="#c8c8c8" stroke-width="0.8" />
<line x1="39.00" y1="416.90" x2="44.50" y2="416.90" stroke="#c8c8c8" stroke-width="0.8" />
<line x1="39.00" y1="429.10" x2="44.50" y2="429.10" stroke="#c8c8c8" stroke-width="0.8" />
<line x1="39.00" y1="425.00" x2="44.50" y2="425.00" stroke="#c8c8c8" stroke-width="0.8" />
<line x1="39.00" y1="425.00" x2="44.50" y2="425.00" stroke="#c8c8c8" stroke-width="0.8" />
<line x1="39.00" y1="423.90" x2="44.50" y2="423.90" stroke="#c8c8c8" stroke-width="0.8" />
<line x1="39.00" y1="429.70" x2="44.50" y2="429.70" stroke="#c8c8c8" stroke-width="0.8" />
<line x1="39.00" y1="429.70" x2="44.50" y2="429.70" stroke="#c8c8c8" stroke-width="0.8" />
<line x1="39.00" y1="427.40" x2="44.50" y2="427.40" stroke="#c8c8c8" stroke-width="0.8" />
<line x1="39.00" y1="430.90" x2="44.50" y2="430.90" stroke="#c8c8c8" stroke-width="0.8" />
<line x1="39.00" y1="428.50" x2="44.50" y2="428.50" stroke="#c8c8c8" stroke-width="0.8" />
<line x1="39.00" y1="428.50" x2="44.50" y2="428.50" stroke="#c8c8c8" stroke-width="0.8" />
<line x1="39.00" y1="430.90" x2="44.50" y2="430.90" stroke="#c8c8c8" stroke-width="0.8" />
<line x1="39.00" y1="423.90" x2="44.50" y2="423.90" stroke="#c8c8c8" stroke-width="0.8" />
<line x1="39.00" y1="421.50" x2="44.50" y2="421.50" stroke="#c8c8c8" stroke-width="0.8" />
<line x1="39.00" y1="425.00" x2="44.50" y2="425.00" stroke="#c8c8c8" stroke-width="0.8" />
<line x1="39.00" y1="435.50" x2="44.50" y2="435.50" stroke="#c8c8c8" stroke-width="0.8" />
<line x1="39.00" y1="434.40" x2="44.50" y2="434.40" stroke="#c8c8c8" stroke-width="0.8" />
<line x1="39.00" y1="435.50" x2="44.50" y2="435.50" stroke="#c8c8c8" stroke-width="0.8" />
<line x1="39.00" y1="434.40" x2="44.50" y2="434.40" stroke="#c8c8c8" stroke-width="0.8" />
<line x1="39.00" y1="436.70" x2="44.50" y2="436.70" stroke="#c8c8c8" stroke-width="0.8" />
<line x1="39.00" y1="435.50" x2="44.50" y2="435.50" stroke="#c8c8c8" stroke-width="0.8" />
<line x1="39.00" y1="436.10" x2="44.50" y2="436.10" stroke="#c8c8c8" stroke-width="0.8" />
<line x1="39.00" y1="436.70" x2="44.50" y2="436.70" stroke="#c8c8c8" stroke-width="0.8" />
<line x1="39.00" y1="434.40" x2="44.50" y2="434.40" stroke="#c8c8c8" stroke-width="0.8" />
<line x1="39.00" y1="432.00" x2="44.50" y2="432.00" stroke="#c8c8c8" stroke-width="0.8" />
<line x1="39.00" y1="436.70" x2="44.50" y2="436.70" stroke="#c8c8c8" stroke-width="0.8" />
<line x1="39.00" y1="440.20" x2="44.50" y2="440.20" stroke="#c8c8c8" stroke-width="0.8" />
<line x1="39.00" y1="439.60" x2="44.50" y2="439.60" stroke="#c8c8c8" stroke-width="0.8" />
<line x1="39.00" y1="440.20" x2="44.50" y2="440.20" stroke="#c8c8c8" stroke-width="0.8" />
<line x1="39.00" y1="440.20" x2="44.50" y2="440.20" stroke="#c8c8c8" stroke-width="0.8" />
<line x1="39.00" y1="441.40" x2="44.50" y2="441.40" stroke="#c8c8c8" stroke-width="0.8" />
<line x1="39.00" y1="440.20" x2="44.50" y2="440.20" stroke="#c8c8c8" stroke-width="0.8" />
<line x1="39.00" y1="441.40" x2="44.50" y2="441.40" stroke="#c8c8c8" stroke-width="0.8" />
<line x1="39.00" y1="440.20" x2="44.50" y2="440.20" stroke="#c8c8c8" stroke-width="0.8" />
<line x1="39.00" y1="441.40" x2="44.50" y2="441.40" stroke="#c8c8c8" stroke-width="0.8" />
<line x1="39.00" y1="444.90" x2="44.50" y2="444.90" stroke="#c8c8c8" stroke-width="0.8" />
<line x1="39.00" y1="444.30" x2="44.50" y2="444.30" stroke="#c8c8c8" stroke-width="0.8" />
<line x1="39.00" y1="444.90" x2="44.50" y2="444.90" stroke="#c8c8c8" stroke-width="0.8" />
<line x1="39.00" y1="444.30" x2="44.50" y2="444.30" stroke="#c8c8c8" stroke-width="0.8" />
<line x1="39.00" y1="447.20" x2="44.50" y2="447.20" stroke="#c8c8c8" stroke-width="0.8" />
<line x1="39.00" y1="445.50" x2="44.50" y2="445.50" stroke="#c8c8c8" stroke-width="0.8" />
<line x1="39.00" y1="444.90" x2="44.50" y2="444.90" stroke="#c8c8c8" stroke-width="0.8" />
<line x1="39.00" y1="444.90" x2="44.50" y2="444.90" stroke="#c8c8c8" stroke-width="0.8" />
<line x1="39.00" y1="449.60" x2="44.50" y2="449.60" stroke="#c8c8c8" stroke-width="0.8" />
<line x1="39.00" y1="449.60" x2="44.50" y2="449.60" stroke="#c8c8c8" stroke-width="0.8" />
<line x1="39.00" y1="447.80" x2="44.50" y2="447.80" stroke="#c8c8c8" stroke-width="0.8" />
<line x1="39.00" y1="450.70" x2="44.50" y2="450.70" stroke="#c8c8c8" stroke-width="0.8" />
<line x1="39.00" y1="449.60" x2="44.50" y2="449.60" stroke="#c8c8c8" stroke-width="0.8" />
<line x1="39.00" y1="448.40" x2="44.50" y2="448.40" stroke="#c8c8c8" stroke-width="0.8" />
<line x1="39.00" y1="454.20" x2="44.50" y2="454.20" stroke="#c8c8c8" stroke-width="0.8" />
<line x1="39.00" y1="453.60" x2="44.50" y2="453.60" stroke="#c8c8c8" stroke-width="0.8" />
<line x1="39.00" y1="453.10" x2="44.50" y2="453.10" stroke="#c8c8c8" stroke-width="0.8" />
<line x1="39.00" y1="453.10" x2="44.50" y2="453.10" stroke="#c8c8c8" stroke-width="0.8" />
<line x1="39.00" y1="457.20" x2="44.50" y2="457.20" stroke="#c8c8c8" stroke-width="0.8" />
<line x1="39.00" y1="456.60" x2="44.50" y2="456.60" stroke="#c8c8c8" stroke-width="0.8" />
<line x1="39.00" y1="458.90" x2="44.50" y2="458.90" stroke="#c8c8c8" stroke-width="0.8" />
<line x1="39.00" y1="462.40" x2="44.50" y2="462.40" stroke="#c8c8c8" stroke-width="0.8" />
<line x1="39.00" y1="461.20" x2="44.50" y2="461.20" stroke="#c8c8c8" stroke-width="0.8" />
<line x1="39.00" y1="466.50" x2="44.50" y2="466.50" stroke="#c8c8c8" stroke-width="0.8" />
<line x1="39.00" y1="465.90" x2="44.50" y2="465.90" stroke="#c8c8c8" stroke-width="0.8" />
<line x1="39.00" y1="452.60" x2="44.50" y2="452.60" stroke="#c8c8c8" stroke-width="0.8" />
<line x1="39.00" y1="471.60" x2="44.50" y2="471.60" stroke="#c8c8c8" stroke-width="0.8" />
<line x1="39.00" y1="479.60" x2="44.50" y2="479.60" stroke="#c8c8c8" stroke-width="0.8" />
<line x1="39.00" y1="486.20" x2="44.50" y2="486.20" stroke="#c8c8c8" stroke-width="0.8" />
<line x1="39.00" y1="467.20" x2="44.50" y2="467.20" stroke="#c8c8c8" stroke-width="0.8" />
<line x1="39.00" y1="281.70" x2="44.50" y2="281.70" stroke="#c8c8c8" stroke-width="0.8" />
<line x1="39.00" y1="288.20" x2="44.50" y2="288.20" stroke="#c8c8c8" stroke-width="0.8" />
<line x1="39.00" y1="291.20" x2="44.50" y2="291.20" stroke="#c8c8c8" stroke-width="0.8" />
<line x1="39.00" y1="310.10" x2="44.50" y2="310.10" stroke="#c8c8c8" stroke-width="0.8" />
<line x1="39.00" y1="316.70" x2="44.50" y2="316.70" stroke="#c8c8c8" stroke-width="0.8" />
<line x1="39.00" y1="324.70" x2="44.50" y2="324.70" stroke="#c8c8c8" stroke-width="0.8" />
<line x1="39.00" y1="332.80" x2="44.50" y2="332.80" stroke="#c8c8c8" stroke-width="0.8" />
<line x1="39.00" y1="338.60" x2="44.50" y2="338.60" stroke="#c8c8c8" stroke-width="0.8" />
<line x1="39.00" y1="349.60" x2="44.50" y2="349.60" stroke="#c8c8c8" stroke-width="0.8" />
<line x1="39.00" y1="357.60" x2="44.50" y2="357.60" stroke="#c8c8c8" stroke-width="0.8" />
<line x1="39.00" y1="363.40" x2="44.50" y2="363.40" stroke="#c8c8c8" stroke-width="0.8" />
<line x1="39.00" y1="373.00" x2="44.50" y2="373.00" stroke="#c8c8c8" stroke-width="0.8" />
<line x1="39.00" y1="378.80" x2="44.50" y2="378.80" stroke="#c8c8c8" stroke-width="0.8" />
<line x1="39.00" y1="387.60" x2="44.50" y2="387.60" stroke="#c8c8c8" stroke-width="0.8" />
<line x1="39.00" y1="396.40" x2="44.50" y2="396.40" stroke="#c8c8c8" stroke-width="0.8" />
<line x1="39.00" y1="403.00" x2="44.50" y2="403.00" stroke="#c8c8c8" stroke-width="0.8" />
<line x1="39.00" y1="410.00" x2="44.50" y2="410.00" stroke="#c8c8c8" stroke-width="0.8" />
<line x1="39.00" y1="417.00" x2="44.50" y2="417.00" stroke="#c8c8c8" stroke-width="0.8" />
<line x1="39.00" y1="424.00" x2="44.50" y2="424.00" stroke="#c8c8c8" stroke-width="0.8" />
<line x1="39.00" y1="431.00" x2="44.50" y2="431.00" stroke="#c8c8c8" stroke-width="0.8" />
<line x1="39.00" y1="438.00" x2="44.50" y2="438.00" stroke="#c8c8c8" stroke-width="0.8" />
<line x1="39.00" y1="445.00" x2="44.50" y2="445.00" stroke="#c8c8c8" stroke-width="0.8" />
<line x1="39.00" y1="452.00" x2="44.50" y2="452.00" stroke="#c8c8c8" stroke-width="0.8" />
<line x1="39.00" y1="459.00" x2="44.50" y2="459.00" stroke="#c8c8c8" stroke-width="0.8" />
<line x1="39.00" y1="465.00" x2="44.50" y2="465.00" stroke="#c8c8c8" stroke-width="0.8" />
<line x1="39.00" y1="439.81" x2="44.50" y2="439.81" stroke="#c8c8c8" stroke-width="0.8" />
<line x1="39.00" y1="433.07" x2="44.50" y2="433.07" stroke="#c8c8c8" stroke-width="0.8" />
<line x1="39.00" y1="418.17" x2="44.50" y2="418.17" stroke="#c8c8c8" stroke-width="0.8" />
<line x1="39.00" y1="420.45" x2="44.50" y2="420.45" stroke="#c8c8c8" stroke-width="0.8" />
<line x1="39.00" y1="406.25" x2="44.50" y2="406.25" stroke="#c8c8c8" stroke-width="0.8" />
<line x1="39.00" y1="423.33" x2="44.50" y2="423.33" stroke="#c8c8c8" stroke-width="0.8" />
<line x1="39.00" y1="416.14" x2="44.50" y2="416.14" stroke="#c8c8c8" stroke-width="0.8" />
<line x1="39.00" y1="426.88" x2="44.50" y2="426.88" stroke="#c8c8c8" stroke-width="0.8" />
<line x1="39.00" y1="431.37" x2="44.50" y2="431.37" stroke="#c8c8c8" stroke-width="0.8" />
<line x1="39.00" y1="442.38" x2="44.50" y2="442.38" stroke="#c8c8c8" stroke-width="0.8" />
<line x1="39.00" y1="443.52" x2="44.50" y2="443.52" stroke="#c8c8c8" stroke-width="0.8" />
<line x1="39.00" y1="438.56" x2="44.50" y2="438.56" stroke="#c8c8c8" stroke-width="0.8" />
<line x1="39.00" y1="442.20" x2="44.50" y2="442.20" stroke="#c8c8c8" stroke-width="0.8" />
<line x1="39.00" y1="422.30" x2="44.50" y2="422.30" stroke="#c8c8c8" stroke-width="0.8" />
<line x1="39.00" y1="430.67" x2="44.50" y2="430.67" stroke="#c8c8c8" stroke-width="0.8" />
<line x1="39.00" y1="427.64" x2="44.50" y2="427.64" stroke="#c8c8c8" stroke-width="0.8" />
<line x1="39.00" y1="435.98" x2="44.50" y2="435.98" stroke="#c8c8c8" stroke-width="0.8" />
<line x1="39.00" y1="438.68" x2="44.50" y2="438.68" stroke="#c8c8c8" stroke-width="0.8" />
<line x1="39.00" y1="442.90" x2="44.50" y2="442.90" stroke="#c8c8c8" stroke-width="0.8" />
<line x1="39.00" y1="433.14" x2="44.50" y2="433.14" stroke="#c8c8c8" stroke-width="0.8" />
<line x1="39.00" y1="428.05" x2="44.50" y2="428.05" stroke="#c8c8c8" stroke-width="0.8" />
<line x1="39.00" y1="425.13" x2="44.50" y2="425.13" stroke="#c8c8c8" stroke-width="0.8" />
<line x1="39.00" y1="435.87" x2="44.50" y2="435.87" stroke="#c8c8c8" stroke-width="0.8" />
<line x1="39.00" y1="421.10" x2="44.50" y2="421.10" stroke="#c8c8c8" stroke-width="0.8" />
<line x1="39.00" y1="431.97" x2="44.50" y2="431.97" stroke="#c8c8c8" stroke-width="0.8" />
<line x1="39.00" y1="436.74" x2="44.50" y2="436.74" stroke="#c8c8c8" stroke-width="0.8" />
<line x1="39.00" y1="431.21" x2="44.50" y2="431.21" stroke="#c8c8c8" stroke-width="0.8" />
<line x1="39.00" y1="426.18" x2="44.50" y2="426.18" stroke="#c8c8c8" stroke-width="0.8" />
<line x1="39.00" y1="445.42" x2="44.50" y2="445.42" stroke="#c8c8c8" stroke-width="0.8" />
<line x1="39.00" y1="434.26" x2="44.50" y2="434.26" stroke="#c8c8c8" stroke-width="0.8" />
<line x1="39.00" y1="427.01" x2="44.50" y2="427.01" stroke="#c8c8c8" stroke-width="0.8" />
<line x1="39.00" y1="438.51" x2="44.50" y2="438.51" stroke="#c8c8c8" stroke-width="0.8" />
<line x1="39.00" y1="438.25" x2="44.50" y2="438.25" stroke="#c8c8c8" stroke-width="0.8" />
<line x1="39.00" y1="441.00" x2="44.50" y2="441.00" stroke="#c8c8c8" stroke-width="0.8" />
<line x1="39.00" y1="442.47" x2="44.50" y2="442.47" stroke="#c8c8c8" stroke-width="0.8" />
<line x1="39.00" y1="406.18" x2="44.50" y2="406.18" stroke="#c8c8c8" stroke-width="0.8" />
<line x1="39.00" y1="440.83" x2="44.50" y2="440.83" stroke="#c8c8c8" stroke-width="0.8" />
<line x1="39.00" y1="418.31" x2="44.50" y2="418.31" stroke="#c8c8c8" stroke-width="0.8" />
<line x1="39.00" y1="436.41" x2="44.50" y2="436.41" stroke="#c8c8c8" stroke-width="0.8" />
<line x1="39.00" y1="424.29" x2="44.50" y2="424.29" stroke="#c8c8c8" stroke-width="0.8" />
<line x1="39.00" y1="435.17" x2="44.50" y2="435.17" stroke="#c8c8c8" stroke-width="0.8" />
<line x1="39.00" y1="447.60" x2="44.50" y2="447.60" stroke="#c8c8c8" stroke-width="0.8" />
<line x1="39.00" y1="414.93" x2="44.50" y2="414.93" stroke="#c8c8c8" stroke-width="0.8" />
<line x1="39.00" y1="422.06" x2="44.50" y2="422.06" stroke="#c8c8c8" stroke-width="0.8" />
<line x1="39.00" y1="450.34" x2="44.50" y2="450.34" stroke="#c8c8c8" stroke-width="0.8" />
<line x1="39.00" y1="447.36" x2="44.50" y2="447.36" stroke="#c8c8c8" stroke-width="0.8" />
<line x1="39.00" y1="451.19" x2="44.50" y2="451.19" stroke="#c8c8c8" stroke-width="0.8" />
<line x1="39.00" y1="446.58" x2="44.50" y2="446.58" stroke="#c8c8c8" stroke-width="0.8" />
<line x1="39.00" y1="448.71" x2="44.50" y2="448.71" stroke="#c8c8c8" stroke-width="0.8" />
<line x1="39.00" y1="450.65" x2="44.50" y2="450.65" stroke="#c8c8c8" stroke-width="0.8" />
<line x1="39.00" y1="446.29" x2="44.50" y2="446.29" stroke="#c8c8c8" stroke-width="0.8" />
<line x1="39.00" y1="447.22" x2="44.50" y2="447.22" stroke="#c8c8c8" stroke-width="0.8" />
<line x1="39.00" y1="419.47" x2="44.50" y2="419.47" stroke="#c8c8c8" stroke-width="0.8" />
<line x1="39.00" y1="398.29" x2="44.50" y2="398.29" stroke="#c8c8c8" stroke-width="0.8" />
<line x1="39.00" y1="452.56" x2="44.50" y2="452.56" stroke="#c8c8c8" stroke-width="0.8" />
<line x1="39.00" y1="466.37" x2="44.50" y2="466.37" stroke="#c8c8c8" stroke-width="0.8" />
<line x1="39.00" y1="457.28" x2="44.50" y2="457.28" stroke="#c8c8c8" stroke-width="0.8" />
<line x1="39.00" y1="453.15" x2="44.50" y2="453.15" stroke="#c8c8c8" stroke-width="0.8" />
<line x1="39.00" y1="434.45" x2="44.50" y2="434.45" stroke="#c8c8c8" stroke-width="0.8" />
<line x1="39.00" y1="431.37" x2="44.50" y2="431.37" stroke="#c8c8c8" stroke-width="0.8" />
<line x1="39.00" y1="460.51" x2="44.50" y2="460.51" stroke="#c8c8c8" stroke-width="0.8" />
<line x1="39.00" y1="465.18" x2="44.50" y2="465.18" stroke="#c8c8c8" stroke-width="0.8" />
<line x1="39.00" y1="320.70" x2="44.50" y2="320.70" stroke="#c8c8c8" stroke-width="0.8" />
<line x1="39.00" y1="342.30" x2="44.50" y2="342.30" stroke="#c8c8c8" stroke-width="0.8" />
<line x1="39.00" y1="367.20" x2="44.50" y2="367.20" stroke="#c8c8c8" stroke-width="0.8" />
<line x1="39.00" y1="373.30" x2="44.50" y2="373.30" stroke="#c8c8c8" stroke-width="0.8" />
<line x1="39.00" y1="374.50" x2="44.50" y2="374.50" stroke="#c8c8c8" stroke-width="0.8" />
<line x1="39.00" y1="380.00" x2="44.50" y2="380.00" stroke="#c8c8c8" stroke-width="0.8" />
<line x1="39.00" y1="386.10" x2="44.50" y2="386.10" stroke="#c8c8c8" stroke-width="0.8" />
<line x1="39.00" y1="390.50" x2="44.50" y2="390.50" stroke="#c8c8c8" stroke-width="0.8" />
<line x1="39.00" y1="365.70" x2="44.50" y2="365.70" stroke="#c8c8c8" stroke-width="0.8" />
<line x1="39.00" y1="370.00" x2="44.50" y2="370.00" stroke="#c8c8c8" stroke-width="0.8" />
<line x1="39.00" y1="374.50" x2="44.50" y2="374.50" stroke="#c8c8c8" stroke-width="0.8" />
<line x1="39.00" y1="380.00" x2="44.50" y2="380.00" stroke="#c8c8c8" stroke-width="0.8" />
<line x1="39.00" y1="384.50" x2="44.50" y2="384.50" stroke="#c8c8c8" stroke-width="0.8" />
<line x1="39.00" y1="389.00" x2="44.50" y2="389.00" stroke="#c8c8c8" stroke-width="0.8" />
<line x1="39.00" y1="394.10" x2="44.50" y2="394.10" stroke="#c8c8c8" stroke-width="0.8" />
<line x1="39.00" y1="404.30" x2="44.50" y2="404.30" stroke="#c8c8c8" stroke-width="0.8" />
<line x1="39.00" y1="408.70" x2="44.50" y2="408.70" stroke="#c8c8c8" stroke-width="0.8" />
<line x1="39.00" y1="409.00" x2="44.50" y2="409.00" stroke="#c8c8c8" stroke-width="0.8" />
<line x1="39.00" y1="404.60" x2="44.50" y2="404.60" stroke="#c8c8c8" stroke-width="0.8" />
<line x1="39.00" y1="410.40" x2="44.50" y2="410.40" stroke="#c8c8c8" stroke-width="0.8" />
<line x1="39.00" y1="411.20" x2="44.50" y2="411.20" stroke="#c8c8c8" stroke-width="0.8" />
<line x1="39.00" y1="420.70" x2="44.50" y2="420.70" stroke="#c8c8c8" stroke-width="0.8" />
<line x1="39.00" y1="418.50" x2="44.50" y2="418.50" stroke="#c8c8c8" stroke-width="0.8" />
<line x1="39.00" y1="425.00" x2="44.50" y2="425.00" stroke="#c8c8c8" stroke-width="0.8" />
<line x1="39.00" y1="425.80" x2="44.50" y2="425.80" stroke="#c8c8c8" stroke-width="0.8" />
<line x1="39.00" y1="428.70" x2="44.50" y2="428.70" stroke="#c8c8c8" stroke-width="0.8" />
<line x1="39.00" y1="428.00" x2="44.50" y2="428.00" stroke="#c8c8c8" stroke-width="0.8" />
<line x1="39.00" y1="429.40" x2="44.50" y2="429.40" stroke="#c8c8c8" stroke-width="0.8" />
<line x1="39.00" y1="433.80" x2="44.50" y2="433.80" stroke="#c8c8c8" stroke-width="0.8" />
<line x1="39.00" y1="426.50" x2="44.50" y2="426.50" stroke="#c8c8c8" stroke-width="0.8" />
<line x1="39.00" y1="422.80" x2="44.50" y2="422.80" stroke="#c8c8c8" stroke-width="0.8" />
<line x1="39.00" y1="428.00" x2="44.50" y2="428.00" stroke="#c8c8c8" stroke-width="0.8" />
<line x1="39.00" y1="427.20" x2="44.50" y2="427.20" stroke="#c8c8c8" stroke-width="0.8" />
<line x1="39.00" y1="437.40" x2="44.50" y2="437.40" stroke="#c8c8c8" stroke-width="0.8" />
<line x1="39.00" y1="436.70" x2="44.50" y2="436.70" stroke="#c8c8c8" stroke-width="0.8" />
<line x1="39.00" y1="436.70" x2="44.50" y2="436.70" stroke="#c8c8c8" stroke-width="0.8" />
<line x1="39.00" y1="439.60" x2="44.50" y2="439.60" stroke="#c8c8c8" stroke-width="0.8" />
<line x1="39.00" y1="441.10" x2="44.50" y2="441.10" stroke="#c8c8c8" stroke-width="0.8" />
<line x1="39.00" y1="445.50" x2="44.50" y2="445.50" stroke="#c8c8c8" stroke-width="0.8" />
<line x1="39.00" y1="444.00" x2="44.50" y2="444.00" stroke="#c8c8c8" stroke-width="0.8" />
<line x1="39.00" y1="447.70" x2="44.50" y2="447.70" stroke="#c8c8c8" stroke-width="0.8" />
<line x1="39.00" y1="445.20" x2="44.50" y2="445.20" stroke="#c8c8c8" stroke-width="0.8" />
<line x1="39.00" y1="445.50" x2="44.50" y2="445.50" stroke="#c8c8c8" stroke-width="0.8" />
<line x1="39.00" y1="447.70" x2="44.50" y2="447.70" stroke="#c8c8c8" stroke-width="0.8" />
<line x1="39.00" y1="451.30" x2="44.50" y2="451.30" stroke="#c8c8c8" stroke-width="0.8" />
<line x1="39.00" y1="432.30" x2="44.50" y2="432.30" stroke="#c8c8c8" stroke-width="0.8" />
<line x1="39.00" y1="444.00" x2="44.50" y2="444.00" stroke="#c8c8c8" stroke-width="0.8" />
<line x1="39.00" y1="436.70" x2="44.50" y2="436.70" stroke="#c8c8c8" stroke-width="0.8" />
<line x1="39.00" y1="455.30" x2="44.50" y2="455.30" stroke="#c8c8c8" stroke-width="0.8" />
<line x1="39.00" y1="463.40" x2="44.50" y2="463.40" stroke="#c8c8c8" stroke-width="0.8" />
<line x1="39.00" y1="467.70" x2="44.50" y2="467.70" stroke="#c8c8c8" stroke-width="0.8" />
<line x1="39.00" y1="433.40" x2="44.50" y2="433.40" stroke="#c8c8c8" stroke-width="0.8" />
<line x1="39.00" y1="448.70" x2="44.50" y2="448.70" stroke="#c8c8c8" stroke-width="0.8" />
<line x1="39.00" y1="468.10" x2="44.50" y2="468.10" stroke="#c8c8c8" stroke-width="0.8" />
<line x1="39.00" y1="441.30" x2="44.50" y2="441.30" stroke="#c8c8c8" stroke-width="0.8" />
<line x1="39.00" y1="446.00" x2="44.50" y2="446.00" stroke="#c8c8c8" stroke-width="0.8" />
<line x1="39.00" y1="429.10" x2="44.50" y2="429.10" stroke="#c8c8c8" stroke-width="0.8" />
<line x1="39.00" y1="400.00" x2="44.50" y2="400.00" stroke="#c8c8c8" stroke-width="0.8" />
<line x1="39.00" y1="410.00" x2="44.50" y2="410.00" stroke="#c8c8c8" stroke-width="0.8" />
<line x1="39.00" y1="416.00" x2="44.50" y2="416.00" stroke="#c8c8c8" stroke-width="0.8" />
<line x1="39.00" y1="424.00" x2="44.50" y2="424.00" stroke="#c8c8c8" stroke-width="0.8" />
<line x1="39.00" y1="431.00" x2="44.50" y2="431.00" stroke="#c8c8c8" stroke-width="0.8" />
<line x1="39.00" y1="447.00" x2="44.50" y2="447.00" stroke="#c8c8c8" stroke-width="0.8" />
<line x1="39.00" y1="457.00" x2="44.50" y2="457.00" stroke="#c8c8c8" stroke-width="0.8" />
<line x1="39.00" y1="462.00" x2="44.50" y2="462.00" stroke="#c8c8c8" stroke-width="0.8" />
<line x1="39.00" y1="467.00" x2="44.50" y2="467.00" stroke="#c8c8c8" stroke-width="0.8" />
<line x1="39.00" y1="471.00" x2="44.50" y2="471.00" stroke="#c8c8c8" stroke-width="0.8" />
<line x1="39.00" y1="475.00" x2="44.50" y2="475.00" stroke="#c8c8c8" stroke-width="0.8" />
<line x1="39.00" y1="479.00" x2="44.50" y2="479.00" stroke="#c8c8c8" stroke-width="0.8" />
<line x1="39.00" y1="483.00" x2="44.50" y2="483.00" stroke="#c8c8c8" stroke-width="0.8" />
<line x1="39.00" y1="488.00" x2="44.50" y2="488.00" stroke="#c8c8c8" stroke-width="0.8" />
<line x1="39.00" y1="492.00" x2="44.50" y2="492.00" stroke="#c8c8c8" stroke-width="0.8" />
<line x1="39.00" y1="496.00" x2="44.50" y2="496.00" stroke="#c8c8c8" stroke-width="0.8" />
<line x1="39.00" y1="500.00" x2="44.50" y2="500.00" stroke="#c8c8c8" stroke-width="0.8" />
<line x1="39.00" y1="504.00" x2="44.50" y2="504.00" stroke="#c8c8c8" stroke-width="0.8" />
<line x1="39.00" y1="508.50" x2="44.50" y2="508.50" stroke="#c8c8c8" stroke-width="0.8" />
<line x1="39.00" y1="354.70" x2="44.50" y2="354.70" stroke="#c8c8c8" stroke-width="0.8" />
<line x1="39.00" y1="467.70" x2="44.50" y2="467.70" stroke="#c8c8c8" stroke-width="0.8" />
<line x1="82.30" y1="518.50" x2="82.30" y2="514.00" stroke="#c8c8c8" stroke-width="0.8" />
<line x1="82.30" y1="518.50" x2="82.30" y2="514.00" stroke="#c8c8c8" stroke-width="0.8" />
<line x1="102.50" y1="518.50" x2="102.50" y2="514.00" stroke="#c8c8c8" stroke-width="0.8" />
<line x1="72.80" y1="518.50" x2="72.80" y2="514.00" stroke="#c8c8c8" stroke-width="0.8" />
<line x1="82.30" y1="518.50" x2="82.30" y2="514.00" stroke="#c8c8c8" stroke-width="0.8" />
<line x1="88.20" y1="518.50" x2="88.20" y2="514.00" stroke="#c8c8c8" stroke-width="0.8" />
<line x1="88.20" y1="518.50" x2="88.20" y2="514.00" stroke="#c8c8c8" stroke-width="0.8" />
<line x1="72.80" y1="518.50" x2="72.80" y2="514.00" stroke="#c8c8c8" stroke-width="0.8" />
<line x1="104.50" y1="518.50" x2="104.50" y2="514.00" stroke="#c8c8c8" stroke-width="0.8" />
<line x1="66.30" y1="518.50" x2="66.30" y2="514.00" stroke="#c8c8c8" stroke-width="0.8" />
<line x1="69.90" y1="518.50" x2="69.90" y2="514.00" stroke="#c8c8c8" stroke-width="0.8" />
<line x1="127.60" y1="518.50" x2="127.60" y2="514.00" stroke="#c8c8c8" stroke-width="0.8" />
<line x1="74.60" y1="518.50" x2="74.60" y2="514.00" stroke="#c8c8c8" stroke-width="0.8" />
<line x1="82.30" y1="518.50" x2="82.30" y2="514.00" stroke="#c8c8c8" stroke-width="0.8" />
<line x1="66.30" y1="518.50" x2="66.30" y2="514.00" stroke="#c8c8c8" stroke-width="0.8" />
<line x1="83.10" y1="518.50" x2="83.10" y2="514.00" stroke="#c8c8c8" stroke-width="0.8" />
<line x1="130.50" y1="518.50" x2="130.50" y2="514.00" stroke="#c8c8c8" stroke-width="0.8" />
<line x1="61.20" y1="518.50" x2="61.20" y2="514.00" stroke="#c8c8c8" stroke-width="0.8" />
<line x1="74.60" y1="518.50" x2="74.60" y2="514.00" stroke="#c8c8c8" stroke-width="0.8" />
<line x1="88.20" y1="518.50" x2="88.20" y2="514.00" stroke="#c8c8c8" stroke-width="0.8" />
<line x1="114.50" y1="518.50" x2="114.50" y2="514.00" stroke="#c8c8c8" stroke-width="0.8" />
<line x1="125.40" y1="518.50" x2="125.40" y2="514.00" stroke="#c8c8c8" stroke-width="0.8" />
<line x1="97.70" y1="518.50" x2="97.70" y2="514.00" stroke="#c8c8c8" stroke-width="0.8" />
<line x1="102.80" y1="518.50" x2="102.80" y2="514.00" stroke="#c8c8c8" stroke-width="0.8" />
<line x1="51.20" y1="518.50" x2="51.20" y2="514.00" stroke="#c8c8c8" stroke-width="0.8" />
<line x1="51.20" y1="518.50" x2="51.20" y2="514.00" stroke="#c8c8c8" stroke-width="0.8" />
<line x1="62.60" y1="518.50" x2="62.60" y2="514.00" stroke="#c8c8c8" stroke-width="0.8" />
<line x1="67.00" y1="518.50" x2="67.00" y2="514.00" stroke="#c8c8c8" stroke-width="0.8" />
<line x1="83.80" y1="518.50" x2="83.80" y2="514.00" stroke="#c8c8c8" stroke-width="0.8" />
<line x1="80.10" y1="518.50" x2="80.10" y2="514.00" stroke="#c8c8c8" stroke-width="0.8" />
<line x1="89.60" y1="518.50" x2="89.60" y2="514.00" stroke="#c8c8c8" stroke-width="0.8" />
<line x1="97.70" y1="518.50" x2="97.70" y2="514.00" stroke="#c8c8c8" stroke-width="0.8" />
<line x1="102.80" y1="518.50" x2="102.80" y2="514.00" stroke="#c8c8c8" stroke-width="0.8" />
<line x1="66.70" y1="518.50" x2="66.70" y2="514.00" stroke="#c8c8c8" stroke-width="0.8" />
<line x1="72.50" y1="518.50" x2="72.50" y2="514.00" stroke="#c8c8c8" stroke-width="0.8" />
<line x1="74.90" y1="518.50" x2="74.90" y2="514.00" stroke="#c8c8c8" stroke-width="0.8" />
<line x1="69.00" y1="518.50" x2="69.00" y2="514.00" stroke="#c8c8c8" stroke-width="0.8" />
<line x1="73.70" y1="518.50" x2="73.70" y2="514.00" stroke="#c8c8c8" stroke-width="0.8" />
<line x1="85.40" y1="518.50" x2="85.40" y2="514.00" stroke="#c8c8c8" stroke-width="0.8" />
<line x1="120.40" y1="518.50" x2="120.40" y2="514.00" stroke="#c8c8c8" stroke-width="0.8" />
<line x1="123.90" y1="518.50" x2="123.90" y2="514.00" stroke="#c8c8c8" stroke-width="0.8" />
<line x1="73.70" y1="518.50" x2="73.70" y2="514.00" stroke="#c8c8c8" stroke-width="0.8" />
<line x1="74.30" y1="518.50" x2="74.30" y2="514.00" stroke="#c8c8c8" stroke-width="0.8" />
<line x1="85.40" y1="518.50" x2="85.40" y2="514.00" stroke="#c8c8c8" stroke-width="0.8" />
<line x1="89.50" y1="518.50" x2="89.50" y2="514.00" stroke="#c8c8c8" stroke-width="0.8" />
<line x1="102.30" y1="518.50" x2="102.30" y2="514.00" stroke="#c8c8c8" stroke-width="0.8" />
<line x1="114.00" y1="518.50" x2="114.00" y2="514.00" stroke="#c8c8c8" stroke-width="0.8" />
<line x1="118.10" y1="518.50" x2="118.10" y2="514.00" stroke="#c8c8c8" stroke-width="0.8" />
<line x1="122.70" y1="518.50" x2="122.70" y2="514.00" stroke="#c8c8c8" stroke-width="0.8" />
<line x1="127.40" y1="518.50" x2="127.40" y2="514.00" stroke="#c8c8c8" stroke-width="0.8" />
<line x1="63.80" y1="518.50" x2="63.80" y2="514.00" stroke="#c8c8c8" stroke-width="0.8" />
<line x1="70.20" y1="518.50" x2="70.20" y2="514.00" stroke="#c8c8c8" stroke-width="0.8" />
<line x1="76.00" y1="518.50" x2="76.00" y2="514.00" stroke="#c8c8c8" stroke-width="0.8" />
<line x1="81.90" y1="518.50" x2="81.90" y2="514.00" stroke="#c8c8c8" stroke-width="0.8" />
<line x1="73.70" y1="518.50" x2="73.70" y2="514.00" stroke="#c8c8c8" stroke-width="0.8" />
<line x1="81.90" y1="518.50" x2="81.90" y2="514.00" stroke="#c8c8c8" stroke-width="0.8" />
<line x1="88.90" y1="518.50" x2="88.90" y2="514.00" stroke="#c8c8c8" stroke-width="0.8" />
<line x1="93.50" y1="518.50" x2="93.50" y2="514.00" stroke="#c8c8c8" stroke-width="0.8" />
<line x1="99.40" y1="518.50" x2="99.40" y2="514.00" stroke="#c8c8c8" stroke-width="0.8" />
<line x1="104.00" y1="518.50" x2="104.00" y2="514.00" stroke="#c8c8c8" stroke-width="0.8" />
<line x1="116.90" y1="518.50" x2="116.90" y2="514.00" stroke="#c8c8c8" stroke-width="0.8" />
<line x1="121.60" y1="518.50" x2="121.60" y2="514.00" stroke="#c8c8c8" stroke-width="0.8" />
<line x1="126.20" y1="518.50" x2="126.20" y2="514.00" stroke="#c8c8c8" stroke-width="0.8" />
<line x1="129.70" y1="518.50" x2="129.70" y2="514.00" stroke="#c8c8c8" stroke-width="0.8" />
<line x1="71.40" y1="518.50" x2="71.40" y2="514.00" stroke="#c8c8c8" stroke-width="0.8" />
<line x1="77.20" y1="518.50" x2="77.20" y2="514.00" stroke="#c8c8c8" stroke-width="0.8" />
<line x1="83.00" y1="518.50" x2="83.00" y2="514.00" stroke="#c8c8c8" stroke-width="0.8" />
<line x1="88.90" y1="518.50" x2="88.90" y2="514.00" stroke="#c8c8c8" stroke-width="0.8" />
<line x1="94.70" y1="518.50" x2="94.70" y2="514.00" stroke="#c8c8c8" stroke-width="0.8" />
<line x1="100.50" y1="518.50" x2="100.50" y2="514.00" stroke="#c8c8c8" stroke-width="0.8" />
<line x1="105.20" y1="518.50" x2="105.20" y2="514.00" stroke="#c8c8c8" stroke-width="0.8" />
<line x1="116.90" y1="518.50" x2="116.90" y2="514.00" stroke="#c8c8c8" stroke-width="0.8" />
<line x1="122.70" y1="518.50" x2="122.70" y2="514.00" stroke="#c8c8c8" stroke-width="0.8" />
<line x1="127.40" y1="518.50" x2="127.40" y2="514.00" stroke="#c8c8c8" stroke-width="0.8" />
<line x1="129.70" y1="518.50" x2="129.70" y2="514.00" stroke="#c8c8c8" stroke-width="0.8" />
<line x1="72.50" y1="518.50" x2="72.50" y2="514.00" stroke="#c8c8c8" stroke-width="0.8" />
<line x1="78.40" y1="518.50" x2="78.40" y2="514.00" stroke="#c8c8c8" stroke-width="0.8" />
<line x1="84.20" y1="518.50" x2="84.20" y2="514.00" stroke="#c8c8c8" stroke-width="0.8" />
<line x1="90.00" y1="518.50" x2="90.00" y2="514.00" stroke="#c8c8c8" stroke-width="0.8" />
<line x1="95.90" y1="518.50" x2="95.90" y2="514.00" stroke="#c8c8c8" stroke-width="0.8" />
<line x1="101.70" y1="518.50" x2="101.70" y2="514.00" stroke="#c8c8c8" stroke-width="0.8" />
<line x1="118.10" y1="518.50" x2="118.10" y2="514.00" stroke="#c8c8c8" stroke-width="0.8" />
<line x1="123.90" y1="518.50" x2="123.90" y2="514.00" stroke="#c8c8c8" stroke-width="0.8" />
<line x1="128.60" y1="518.50" x2="128.60" y2="514.00" stroke="#c8c8c8" stroke-width="0.8" />
<line x1="71.40" y1="518.50" x2="71.40" y2="514.00" stroke="#c8c8c8" stroke-width="0.8" />
<line x1="81.90" y1="518.50" x2="81.90" y2="514.00" stroke="#c8c8c8" stroke-width="0.8" />
<line x1="90.00" y1="518.50" x2="90.00" y2="514.00" stroke="#c8c8c8" stroke-width="0.8" />
<line x1="97.00" y1="518.50" x2="97.00" y2="514.00" stroke="#c8c8c8" stroke-width="0.8" />
<line x1="102.90" y1="518.50" x2="102.90" y2="514.00" stroke="#c8c8c8" stroke-width="0.8" />
<line x1="119.80" y1="518.50" x2="119.80" y2="514.00" stroke="#c8c8c8" stroke-width="0.8" />
<line x1="125.10" y1="518.50" x2="125.10" y2="514.00" stroke="#c8c8c8" stroke-width="0.8" />
<line x1="129.70" y1="518.50" x2="129.70" y2="514.00" stroke="#c8c8c8" stroke-width="0.8" />
<line x1="72.50" y1="518.50" x2="72.50" y2="514.00" stroke="#c8c8c8" stroke-width="0.8" />
<line x1="83.00" y1="518.50" x2="83.00" y2="514.00" stroke="#c8c8c8" stroke-width="0.8" />
<line x1="91.80" y1="518.50" x2="91.80" y2="514.00" stroke="#c8c8c8" stroke-width="0.8" />
<line x1="95.90" y1="518.50" x2="95.90" y2="514.00" stroke="#c8c8c8" stroke-width="0.8" />
<line x1="120.40" y1="518.50" x2="120.40" y2="514.00" stroke="#c8c8c8" stroke-width="0.8" />
<line x1="125.10" y1="518.50" x2="125.10" y2="514.00" stroke="#c8c8c8" stroke-width="0.8" />
<line x1="73.70" y1="518.50" x2="73.70" y2="514.00" stroke="#c8c8c8" stroke-width="0.8" />
<line x1="83.00" y1="518.50" x2="83.00" y2="514.00" stroke="#c8c8c8" stroke-width="0.8" />
<line x1="121.60" y1="518.50" x2="121.60" y2="514.00" stroke="#c8c8c8" stroke-width="0.8" />
<line x1="127.40" y1="518.50" x2="127.40" y2="514.00" stroke="#c8c8c8" stroke-width="0.8" />
<line x1="74.30" y1="518.50" x2="74.30" y2="514.00" stroke="#c8c8c8" stroke-width="0.8" />
<line x1="102.30" y1="518.50" x2="102.30" y2="514.00" stroke="#c8c8c8" stroke-width="0.8" />
<line x1="126.20" y1="518.50" x2="126.20" y2="514.00" stroke="#c8c8c8" stroke-width="0.8" />
<line x1="129.20" y1="518.50" x2="129.20" y2="514.00" stroke="#c8c8c8" stroke-width="0.8" />
<line x1="102.30" y1="518.50" x2="102.30" y2="514.00" stroke="#c8c8c8" stroke-width="0.8" />
<line x1="74.30" y1="518.50" x2="74.30" y2="514.00" stroke="#c8c8c8" stroke-width="0.8" />
<line x1="102.30" y1="518.50" x2="102.30" y2="514.00" stroke="#c8c8c8" stroke-width="0.8" />
<line x1="73.60" y1="518.50" x2="73.60" y2="514.00" stroke="#c8c8c8" stroke-width="0.8" />
<line x1="102.80" y1="518.50" x2="102.80" y2="514.00" stroke="#c8c8c8" stroke-width="0.8" />
<line x1="102.80" y1="518.50" x2="102.80" y2="514.00" stroke="#c8c8c8" stroke-width="0.8" />
<line x1="102.80" y1="518.50" x2="102.80" y2="514.00" stroke="#c8c8c8" stroke-width="0.8" />
<line x1="129.80" y1="518.50" x2="129.80" y2="514.00" stroke="#c8c8c8" stroke-width="0.8" />
<line x1="132.99" y1="518.50" x2="132.99" y2="514.00" stroke="#c8c8c8" stroke-width="0.8" />
<line x1="133.35" y1="518.50" x2="133.35" y2="514.00" stroke="#c8c8c8" stroke-width="0.8" />
<line x1="133.14" y1="518.50" x2="133.14" y2="514.00" stroke="#c8c8c8" stroke-width="0.8" />
<line x1="133.42" y1="518.50" x2="133.42" y2="514.00" stroke="#c8c8c8" stroke-width="0.8" />
<line x1="133.45" y1="518.50" x2="133.45" y2="514.00" stroke="#c8c8c8" stroke-width="0.8" />
<line x1="132.78" y1="518.50" x2="132.78" y2="514.00" stroke="#c8c8c8" stroke-width="0.8" />
<line x1="132.72" y1="518.50" x2="132.72" y2="514.00" stroke="#c8c8c8" stroke-width="0.8" />
<line x1="133.70" y1="518.50" x2="133.70" y2="514.00" stroke="#c8c8c8" stroke-width="0.8" />
<line x1="133.01" y1="518.50" x2="133.01" y2="514.00" stroke="#c8c8c8" stroke-width="0.8" />
<line x1="132.98" y1="518.50" x2="132.98" y2="514.00" stroke="#c8c8c8" stroke-width="0.8" />
<line x1="133.89" y1="518.50" x2="133.89" y2="514.00" stroke="#c8c8c8" stroke-width="0.8" />
<line x1="133.26" y1="518.50" x2="133.26" y2="514.00" stroke="#c8c8c8" stroke-width="0.8" />
<line x1="133.70" y1="518.50" x2="133.70" y2="514.00" stroke="#c8c8c8" stroke-width="0.8" />
<line x1="133.27" y1="518.50" x2="133.27" y2="514.00" stroke="#c8c8c8" stroke-width="0.8" />
<line x1="133.47" y1="518.50" x2="133.47" y2="514.00" stroke="#c8c8c8" stroke-width="0.8" />
<line x1="132.88" y1="518.50" x2="132.88" y2="514.00" stroke="#c8c8c8" stroke-width="0.8" />
<line x1="133.46" y1="518.50" x2="133.46" y2="514.00" stroke="#c8c8c8" stroke-width="0.8" />
<line x1="133.74" y1="518.50" x2="133.74" y2="514.00" stroke="#c8c8c8" stroke-width="0.8" />
<line x1="133.33" y1="518.50" x2="133.33" y2="514.00" stroke="#c8c8c8" stroke-width="0.8" />
<line x1="133.59" y1="518.50" x2="133.59" y2="514.00" stroke="#c8c8c8" stroke-width="0.8" />
<line x1="133.51" y1="518.50" x2="133.51" y2="514.00" stroke="#c8c8c8" stroke-width="0.8" />
<line x1="132.78" y1="518.50" x2="132.78" y2="514.00" stroke="#c8c8c8" stroke-width="0.8" />
<line x1="133.61" y1="518.50" x2="133.61" y2="514.00" stroke="#c8c8c8" stroke-width="0.8" />
<line x1="133.41" y1="518.50" x2="133.41" y2="514.00" stroke="#c8c8c8" stroke-width="0.8" />
<line x1="133.06" y1="518.50" x2="133.06" y2="514.00" stroke="#c8c8c8" stroke-width="0.8" />
<line x1="70.25" y1="518.50" x2="70.25" y2="514.00" stroke="#c8c8c8" stroke-width="0.8" />
<line x1="73.78" y1="518.50" x2="73.78" y2="514.00" stroke="#c8c8c8" stroke-width="0.8" />
<line x1="77.37" y1="518.50" x2="77.37" y2="514.00" stroke="#c8c8c8" stroke-width="0.8" />
<line x1="76.41" y1="518.50" x2="76.41" y2="514.00" stroke="#c8c8c8" stroke-width="0.8" />
<line x1="70.78" y1="518.50" x2="70.78" y2="514.00" stroke="#c8c8c8" stroke-width="0.8" />
<line x1="72.41" y1="518.50" x2="72.41" y2="514.00" stroke="#c8c8c8" stroke-width="0.8" />
<line x1="73.09" y1="518.50" x2="73.09" y2="514.00" stroke="#c8c8c8" stroke-width="0.8" />
<line x1="74.68" y1="518.50" x2="74.68" y2="514.00" stroke="#c8c8c8" stroke-width="0.8" />
<line x1="77.23" y1="518.50" x2="77.23" y2="514.00" stroke="#c8c8c8" stroke-width="0.8" />
<line x1="70.85" y1="518.50" x2="70.85" y2="514.00" stroke="#c8c8c8" stroke-width="0.8" />
<line x1="104.51" y1="518.50" x2="104.51" y2="514.00" stroke="#c8c8c8" stroke-width="0.8" />
<line x1="87.90" y1="518.50" x2="87.90" y2="514.00" stroke="#c8c8c8" stroke-width="0.8" />
<line x1="66.67" y1="518.50" x2="66.67" y2="514.00" stroke="#c8c8c8" stroke-width="0.8" />
<line x1="105.57" y1="518.50" x2="105.57" y2="514.00" stroke="#c8c8c8" stroke-width="0.8" />
<line x1="97.63" y1="518.50" x2="97.63" y2="514.00" stroke="#c8c8c8" stroke-width="0.8" />
<line x1="70.33" y1="518.50" x2="70.33" y2="514.00" stroke="#c8c8c8" stroke-width="0.8" />
<line x1="65.86" y1="518.50" x2="65.86" y2="514.00" stroke="#c8c8c8" stroke-width="0.8" />
<line x1="65.89" y1="518.50" x2="65.89" y2="514.00" stroke="#c8c8c8" stroke-width="0.8" />
<line x1="77.90" y1="518.50" x2="77.90" y2="514.00" stroke="#c8c8c8" stroke-width="0.8" />
<line x1="105.19" y1="518.50" x2="105.19" y2="514.00" stroke="#c8c8c8" stroke-width="0.8" />
<line x1="105.94" y1="518.50" x2="105.94" y2="514.00" stroke="#c8c8c8" stroke-width="0.8" />
<line x1="65.32" y1="518.50" x2="65.32" y2="514.00" stroke="#c8c8c8" stroke-width="0.8" />
<line x1="81.13" y1="518.50" x2="81.13" y2="514.00" stroke="#c8c8c8" stroke-width="0.8" />
<line x1="70.56" y1="518.50" x2="70.56" y2="514.00" stroke="#c8c8c8" stroke-width="0.8" />
<line x1="79.87" y1="518.50" x2="79.87" y2="514.00" stroke="#c8c8c8" stroke-width="0.8" />
<line x1="85.84" y1="518.50" x2="85.84" y2="514.00" stroke="#c8c8c8" stroke-width="0.8" />
<line x1="85.30" y1="518.50" x2="85.30" y2="514.00" stroke="#c8c8c8" stroke-width="0.8" />
<line x1="94.25" y1="518.50" x2="94.25" y2="514.00" stroke="#c8c8c8" stroke-width="0.8" />
<line x1="76.65" y1="518.50" x2="76.65" y2="514.00" stroke="#c8c8c8" stroke-width="0.8" />
<line x1="85.89" y1="518.50" x2="85.89" y2="514.00" stroke="#c8c8c8" stroke-width="0.8" />
<line x1="114.21" y1="518.50" x2="114.21" y2="514.00" stroke="#c8c8c8" stroke-width="0.8" />
<line x1="125.08" y1="518.50" x2="125.08" y2="514.00" stroke="#c8c8c8" stroke-width="0.8" />
<line x1="115.08" y1="518.50" x2="115.08" y2="514.00" stroke="#c8c8c8" stroke-width="0.8" />
<line x1="122.39" y1="518.50" x2="122.39" y2="514.00" stroke="#c8c8c8" stroke-width="0.8" />
<line x1="120.35" y1="518.50" x2="120.35" y2="514.00" stroke="#c8c8c8" stroke-width="0.8" />
<line x1="127.28" y1="518.50" x2="127.28" y2="514.00" stroke="#c8c8c8" stroke-width="0.8" />
<line x1="115.09" y1="518.50" x2="115.09" y2="514.00" stroke="#c8c8c8" stroke-width="0.8" />
<line x1="131.34" y1="518.50" x2="131.34" y2="514.00" stroke="#c8c8c8" stroke-width="0.8" />
<line x1="122.21" y1="518.50" x2="122.21" y2="514.00" stroke="#c8c8c8" stroke-width="0.8" />
<line x1="119.76" y1="518.50" x2="119.76" y2="514.00" stroke="#c8c8c8" stroke-width="0.8" />
<line x1="114.48" y1="518.50" x2="114.48" y2="514.00" stroke="#c8c8c8" stroke-width="0.8" />
<line x1="118.01" y1="518.50" x2="118.01" y2="514.00" stroke="#c8c8c8" stroke-width="0.8" />
<line x1="118.30" y1="518.50" x2="118.30" y2="514.00" stroke="#c8c8c8" stroke-width="0.8" />
<line x1="115.83" y1="518.50" x2="115.83" y2="514.00" stroke="#c8c8c8" stroke-width="0.8" />
<line x1="121.89" y1="518.50" x2="121.89" y2="514.00" stroke="#c8c8c8" stroke-width="0.8" />
<line x1="77.42" y1="518.50" x2="77.42" y2="514.00" stroke="#c8c8c8" stroke-width="0.8" />
<line x1="92.81" y1="518.50" x2="92.81" y2="514.00" stroke="#c8c8c8" stroke-width="0.8" />
<line x1="86.44" y1="518.50" x2="86.44" y2="514.00" stroke="#c8c8c8" stroke-width="0.8" />
<line x1="75.87" y1="518.50" x2="75.87" y2="514.00" stroke="#c8c8c8" stroke-width="0.8" />
<line x1="78.11" y1="518.50" x2="78.11" y2="514.00" stroke="#c8c8c8" stroke-width="0.8" />
<line x1="98.83" y1="518.50" x2="98.83" y2="514.00" stroke="#c8c8c8" stroke-width="0.8" />
<line x1="72.75" y1="518.50" x2="72.75" y2="514.00" stroke="#c8c8c8" stroke-width="0.8" />
<line x1="72.63" y1="518.50" x2="72.63" y2="514.00" stroke="#c8c8c8" stroke-width="0.8" />
<line x1="71.94" y1="518.50" x2="71.94" y2="514.00" stroke="#c8c8c8" stroke-width="0.8" />
<line x1="76.66" y1="518.50" x2="76.66" y2="514.00" stroke="#c8c8c8" stroke-width="0.8" />
<line x1="131.40" y1="518.50" x2="131.40" y2="514.00" stroke="#c8c8c8" stroke-width="0.8" />
<line x1="122.67" y1="518.50" x2="122.67" y2="514.00" stroke="#c8c8c8" stroke-width="0.8" />
<line x1="130.04" y1="518.50" x2="130.04" y2="514.00" stroke="#c8c8c8" stroke-width="0.8" />
<line x1="126.23" y1="518.50" x2="126.23" y2="514.00" stroke="#c8c8c8" stroke-width="0.8" />
<line x1="124.09" y1="518.50" x2="124.09" y2="514.00" stroke="#c8c8c8" stroke-width="0.8" />
<line x1="123.44" y1="518.50" x2="123.44" y2="514.00" stroke="#c8c8c8" stroke-width="0.8" />
<line x1="120.54" y1="518.50" x2="120.54" y2="514.00" stroke="#c8c8c8" stroke-width="0.8" />
<line x1="136.40" y1="518.50" x2="136.40" y2="514.00" stroke="#c8c8c8" stroke-width="0.8" />
<line x1="160.30" y1="518.50" x2="160.30" y2="514.00" stroke="#c8c8c8" stroke-width="0.8" />
<line x1="157.80" y1="518.50" x2="157.80" y2="514.00" stroke="#c8c8c8" stroke-width="0.8" />
<line x1="144.40" y1="518.50" x2="144.40" y2="514.00" stroke="#c8c8c8" stroke-width="0.8" />
<line x1="160.30" y1="518.50" x2="160.30" y2="514.00" stroke="#c8c8c8" stroke-width="0.8" />
<line x1="160.30" y1="518.50" x2="160.30" y2="514.00" stroke="#c8c8c8" stroke-width="0.8" />
<line x1="160.30" y1="518.50" x2="160.30" y2="514.00" stroke="#c8c8c8" stroke-width="0.8" />
<line x1="179.70" y1="518.50" x2="179.70" y2="514.00" stroke="#c8c8c8" stroke-width="0.8" />
<line x1="136.40" y1="518.50" x2="136.40" y2="514.00" stroke="#c8c8c8" stroke-width="0.8" />
<line x1="136.40" y1="518.50" x2="136.40" y2="514.00" stroke="#c8c8c8" stroke-width="0.8" />
<line x1="136.40" y1="518.50" x2="136.40" y2="514.00" stroke="#c8c8c8" stroke-width="0.8" />
<line x1="136.40" y1="518.50" x2="136.40" y2="514.00" stroke="#c8c8c8" stroke-width="0.8" />
<line x1="136.40" y1="518.50" x2="136.40" y2="514.00" stroke="#c8c8c8" stroke-width="0.8" />
<line x1="136.40" y1="518.50" x2="136.40" y2="514.00" stroke="#c8c8c8" stroke-width="0.8" />
<line x1="136.40" y1="518.50" x2="136.40" y2="514.00" stroke="#c8c8c8" stroke-width="0.8" />
<line x1="145.40" y1="518.50" x2="145.40" y2="514.00" stroke="#c8c8c8" stroke-width="0.8" />
<line x1="139.60" y1="518.50" x2="139.60" y2="514.00" stroke="#c8c8c8" stroke-width="0.8" />
<line x1="153.50" y1="518.50" x2="153.50" y2="514.00" stroke="#c8c8c8" stroke-width="0.8" />
<line x1="160.00" y1="518.50" x2="160.00" y2="514.00" stroke="#c8c8c8" stroke-width="0.8" />
<line x1="160.00" y1="518.50" x2="160.00" y2="514.00" stroke="#c8c8c8" stroke-width="0.8" />
<line x1="192.90" y1="518.50" x2="192.90" y2="514.00" stroke="#c8c8c8" stroke-width="0.8" />
<line x1="144.70" y1="518.50" x2="144.70" y2="514.00" stroke="#c8c8c8" stroke-width="0.8" />
<line x1="153.50" y1="518.50" x2="153.50" y2="514.00" stroke="#c8c8c8" stroke-width="0.8" />
<line x1="162.20" y1="518.50" x2="162.20" y2="514.00" stroke="#c8c8c8" stroke-width="0.8" />
<line x1="141.80" y1="518.50" x2="141.80" y2="514.00" stroke="#c8c8c8" stroke-width="0.8" />
<line x1="144.00" y1="518.50" x2="144.00" y2="514.00" stroke="#c8c8c8" stroke-width="0.8" />
<line x1="154.20" y1="518.50" x2="154.20" y2="514.00" stroke="#c8c8c8" stroke-width="0.8" />
<line x1="162.20" y1="518.50" x2="162.20" y2="514.00" stroke="#c8c8c8" stroke-width="0.8" />
<line x1="163.00" y1="518.50" x2="163.00" y2="514.00" stroke="#c8c8c8" stroke-width="0.8" />
<line x1="176.10" y1="518.50" x2="176.10" y2="514.00" stroke="#c8c8c8" stroke-width="0.8" />
<line x1="192.90" y1="518.50" x2="192.90" y2="514.00" stroke="#c8c8c8" stroke-width="0.8" />
<line x1="193.60" y1="518.50" x2="193.60" y2="514.00" stroke="#c8c8c8" stroke-width="0.8" />
<line x1="198.00" y1="518.50" x2="198.00" y2="514.00" stroke="#c8c8c8" stroke-width="0.8" />
<line x1="139.60" y1="518.50" x2="139.60" y2="514.00" stroke="#c8c8c8" stroke-width="0.8" />
<line x1="156.40" y1="518.50" x2="156.40" y2="514.00" stroke="#c8c8c8" stroke-width="0.8" />
<line x1="174.60" y1="518.50" x2="174.60" y2="514.00" stroke="#c8c8c8" stroke-width="0.8" />
<line x1="200.20" y1="518.50" x2="200.20" y2="514.00" stroke="#c8c8c8" stroke-width="0.8" />
<line x1="145.40" y1="518.50" x2="145.40" y2="514.00" stroke="#c8c8c8" stroke-width="0.8" />
<line x1="142.50" y1="518.50" x2="142.50" y2="514.00" stroke="#c8c8c8" stroke-width="0.8" />
<line x1="154.20" y1="518.50" x2="154.20" y2="514.00" stroke="#c8c8c8" stroke-width="0.8" />
<line x1="157.80" y1="518.50" x2="157.80" y2="514.00" stroke="#c8c8c8" stroke-width="0.8" />
<line x1="174.60" y1="518.50" x2="174.60" y2="514.00" stroke="#c8c8c8" stroke-width="0.8" />
<line x1="192.20" y1="518.50" x2="192.20" y2="514.00" stroke="#c8c8c8" stroke-width="0.8" />
<line x1="207.50" y1="518.50" x2="207.50" y2="514.00" stroke="#c8c8c8" stroke-width="0.8" />
<line x1="141.10" y1="518.50" x2="141.10" y2="514.00" stroke="#c8c8c8" stroke-width="0.8" />
<line x1="224.30" y1="518.50" x2="224.30" y2="514.00" stroke="#c8c8c8" stroke-width="0.8" />
<line x1="224.30" y1="518.50" x2="224.30" y2="514.00" stroke="#c8c8c8" stroke-width="0.8" />
<line x1="208.20" y1="518.50" x2="208.20" y2="514.00" stroke="#c8c8c8" stroke-width="0.8" />
<line x1="145.40" y1="518.50" x2="145.40" y2="514.00" stroke="#c8c8c8" stroke-width="0.8" />
<line x1="145.40" y1="518.50" x2="145.40" y2="514.00" stroke="#c8c8c8" stroke-width="0.8" />
<line x1="157.40" y1="518.50" x2="157.40" y2="514.00" stroke="#c8c8c8" stroke-width="0.8" />
<line x1="251.80" y1="518.50" x2="251.80" y2="514.00" stroke="#c8c8c8" stroke-width="0.8" />
<line x1="251.80" y1="518.50" x2="251.80" y2="514.00" stroke="#c8c8c8" stroke-width="0.8" />
<line x1="251.80" y1="518.50" x2="251.80" y2="514.00" stroke="#c8c8c8" stroke-width="0.8" />
<line x1="278.10" y1="518.50" x2="278.10" y2="514.00" stroke="#c8c8c8" stroke-width="0.8" />
<line x1="284.20" y1="518.50" x2="284.20" y2="514.00" stroke="#c8c8c8" stroke-width="0.8" />
<line x1="316.60" y1="518.50" x2="316.60" y2="514.00" stroke="#c8c8c8" stroke-width="0.8" />
<line x1="137.00" y1="518.50" x2="137.00" y2="514.00" stroke="#c8c8c8" stroke-width="0.8" />
<line x1="137.00" y1="518.50" x2="137.00" y2="514.00" stroke="#c8c8c8" stroke-width="0.8" />
<line x1="137.00" y1="518.50" x2="137.00" y2="514.00" stroke="#c8c8c8" stroke-width="0.8" />
<line x1="137.00" y1="518.50" x2="137.00" y2="514.00" stroke="#c8c8c8" stroke-width="0.8" />
<line x1="137.00" y1="518.50" x2="137.00" y2="514.00" stroke="#c8c8c8" stroke-width="0.8" />
<line x1="139.00" y1="518.50" x2="139.00" y2="514.00" stroke="#c8c8c8" stroke-width="0.8" />
<line x1="140.72" y1="518.50" x2="140.72" y2="514.00" stroke="#c8c8c8" stroke-width="0.8" />
<line x1="140.70" y1="518.50" x2="140.70" y2="514.00" stroke="#c8c8c8" stroke-width="0.8" />
<line x1="140.70" y1="518.50" x2="140.70" y2="514.00" stroke="#c8c8c8" stroke-width="0.8" />
<line x1="140.38" y1="518.50" x2="140.38" y2="514.00" stroke="#c8c8c8" stroke-width="0.8" />
<line x1="139.81" y1="518.50" x2="139.81" y2="514.00" stroke="#c8c8c8" stroke-width="0.8" />
<line x1="140.55" y1="518.50" x2="140.55" y2="514.00" stroke="#c8c8c8" stroke-width="0.8" />
<line x1="139.97" y1="518.50" x2="139.97" y2="514.00" stroke="#c8c8c8" stroke-width="0.8" />
<line x1="140.10" y1="518.50" x2="140.10" y2="514.00" stroke="#c8c8c8" stroke-width="0.8" />
<line x1="140.46" y1="518.50" x2="140.46" y2="514.00" stroke="#c8c8c8" stroke-width="0.8" />
<line x1="140.32" y1="518.50" x2="140.32" y2="514.00" stroke="#c8c8c8" stroke-width="0.8" />
<line x1="140.21" y1="518.50" x2="140.21" y2="514.00" stroke="#c8c8c8" stroke-width="0.8" />
<line x1="140.74" y1="518.50" x2="140.74" y2="514.00" stroke="#c8c8c8" stroke-width="0.8" />
<line x1="140.41" y1="518.50" x2="140.41" y2="514.00" stroke="#c8c8c8" stroke-width="0.8" />
<line x1="127.30" y1="518.50" x2="127.30" y2="514.00" stroke="#c8c8c8" stroke-width="0.8" />
<line x1="157.40" y1="518.50" x2="157.40" y2="514.00" stroke="#c8c8c8" stroke-width="0.8" />
<line x1="38.50" y1="443.90" x2="328.90" y2="443.90" stroke="#777" stroke-width="1.1" stroke-dasharray="4,3"/>
<circle cx="82.3" cy="342.3" r="3.1" fill="#8c5a00" fill-opacity="0.8"/>
<circle cx="82.3" cy="345.9" r="3.1" fill="#8c5a00" fill-opacity="0.8"/>
<circle cx="102.5" cy="347.8" r="3.1" fill="#8c5a00" fill-opacity="0.8"/>
<circle cx="72.8" cy="358.8" r="3.1" fill="#8c5a00" fill-opacity="0.8"/>
<circle cx="82.3" cy="362.0" r="3.1" fill="#8c5a00" fill-opacity="0.8"/>
<circle cx="88.2" cy="360.8" r="3.1" fill="#8c5a00" fill-opacity="0.8"/>
<circle cx="88.2" cy="364.9" r="3.1" fill="#8c5a00" fill-opacity="0.8"/>
<circle cx="72.8" cy="367.1" r="3.1" fill="#8c5a00" fill-opacity="0.8"/>
<circle cx="104.5" cy="365.9" r="3.1" fill="#8c5a00" fill-opacity="0.8"/>
<circle cx="66.3" cy="375.2" r="3.1" fill="#8c5a00" fill-opacity="0.8"/>
<circle cx="69.9" cy="378.9" r="3.1" fill="#8c5a00" fill-opacity="0.8"/>
<circle cx="127.6" cy="380.3" r="3.1" fill="#8c5a00" fill-opacity="0.8"/>
<circle cx="74.6" cy="386.9" r="3.1" fill="#8c5a00" fill-opacity="0.8"/>
<circle cx="82.3" cy="386.2" r="3.1" fill="#8c5a00" fill-opacity="0.8"/>
<circle cx="66.3" cy="391.3" r="3.1" fill="#8c5a00" fill-opacity="0.8"/>
<circle cx="83.1" cy="393.5" r="3.1" fill="#8c5a00" fill-opacity="0.8"/>
<circle cx="130.5" cy="388.4" r="3.1" fill="#8c5a00" fill-opacity="0.8"/>
<circle cx="61.2" cy="397.1" r="3.1" fill="#8c5a00" fill-opacity="0.8"/>
<circle cx="74.6" cy="394.9" r="3.1" fill="#8c5a00" fill-opacity="0.8"/>
<circle cx="88.2" cy="398.3" r="3.1" fill="#8c5a00" fill-opacity="0.8"/>
<circle cx="114.5" cy="398.9" r="3.1" fill="#8c5a00" fill-opacity="0.8"/>
<circle cx="125.4" cy="395.7" r="3.1" fill="#8c5a00" fill-opacity="0.8"/>
<circle cx="97.7" cy="400.8" r="3.1" fill="#8c5a00" fill-opacity="0.8"/>
<circle cx="102.8" cy="404.4" r="3.1" fill="#8c5a00" fill-opacity="0.8"/>
<circle cx="51.2" cy="412.4" r="3.1" fill="#8c5a00" fill-opacity="0.8"/>
<circle cx="51.2" cy="427.8" r="3.1" fill="#8c5a00" fill-opacity="0.8"/>
<circle cx="62.6" cy="408.5" r="3.1" fill="#8c5a00" fill-opacity="0.8"/>
<circle cx="67.0" cy="415.4" r="3.1" fill="#8c5a00" fill-opacity="0.8"/>
<circle cx="83.8" cy="403.2" r="3.1" fill="#8c5a00" fill-opacity="0.8"/>
<circle cx="80.1" cy="409.5" r="3.1" fill="#8c5a00" fill-opacity="0.8"/>
<circle cx="89.6" cy="409.5" r="3.1" fill="#8c5a00" fill-opacity="0.8"/>
<circle cx="97.7" cy="412.4" r="3.1" fill="#8c5a00" fill-opacity="0.8"/>
<circle cx="102.8" cy="408.8" r="3.1" fill="#8c5a00" fill-opacity="0.8"/>
<circle cx="66.7" cy="399.9" r="3.1" fill="#8c5a00" fill-opacity="0.8"/>
<circle cx="72.5" cy="401.1" r="3.1" fill="#8c5a00" fill-opacity="0.8"/>
<circle cx="74.9" cy="399.3" r="3.1" fill="#8c5a00" fill-opacity="0.8"/>
<circle cx="69.0" cy="406.4" r="3.1" fill="#8c5a00" fill-opacity="0.8"/>
<circle cx="73.7" cy="407.5" r="3.1" fill="#8c5a00" fill-opacity="0.8"/>
<circle cx="85.4" cy="408.1" r="3.1" fill="#8c5a00" fill-opacity="0.8"/>
<circle cx="120.4" cy="411.6" r="3.1" fill="#8c5a00" fill-opacity="0.8"/>
<circle cx="123.9" cy="407.5" r="3.1" fill="#8c5a00" fill-opacity="0.8"/>
<circle cx="73.7" cy="414.5" r="3.1" fill="#8c5a00" fill-opacity="0.8"/>
<circle cx="74.3" cy="419.2" r="3.1" fill="#8c5a00" fill-opacity="0.8"/>
<circle cx="85.4" cy="419.8" r="3.1" fill="#8c5a00" fill-opacity="0.8"/>
<circle cx="89.5" cy="418.0" r="3.1" fill="#8c5a00" fill-opacity="0.8"/>
<circle cx="102.3" cy="418.0" r="3.1" fill="#8c5a00" fill-opacity="0.8"/>
<circle cx="114.0" cy="419.8" r="3.1" fill="#8c5a00" fill-opacity="0.8"/>
<circle cx="118.1" cy="419.2" r="3.1" fill="#8c5a00" fill-opacity="0.8"/>
<circle cx="122.7" cy="418.0" r="3.1" fill="#8c5a00" fill-opacity="0.8"/>
<circle cx="127.4" cy="416.9" r="3.1" fill="#8c5a00" fill-opacity="0.8"/>
<circle cx="63.8" cy="429.1" r="3.1" fill="#8c5a00" fill-opacity="0.8"/>
<circle cx="70.2" cy="425.0" r="3.1" fill="#8c5a00" fill-opacity="0.8"/>
<circle cx="76.0" cy="425.0" r="3.1" fill="#8c5a00" fill-opacity="0.8"/>
<circle cx="81.9" cy="423.9" r="3.1" fill="#8c5a00" fill-opacity="0.8"/>
<circle cx="73.7" cy="429.7" r="3.1" fill="#8c5a00" fill-opacity="0.8"/>
<circle cx="81.9" cy="429.7" r="3.1" fill="#8c5a00" fill-opacity="0.8"/>
<circle cx="88.9" cy="427.4" r="3.1" fill="#8c5a00" fill-opacity="0.8"/>
<circle cx="93.5" cy="430.9" r="3.1" fill="#8c5a00" fill-opacity="0.8"/>
<circle cx="99.4" cy="428.5" r="3.1" fill="#8c5a00" fill-opacity="0.8"/>
<circle cx="104.0" cy="428.5" r="3.1" fill="#8c5a00" fill-opacity="0.8"/>
<circle cx="116.9" cy="430.9" r="3.1" fill="#8c5a00" fill-opacity="0.8"/>
<circle cx="121.6" cy="423.9" r="3.1" fill="#8c5a00" fill-opacity="0.8"/>
<circle cx="126.2" cy="421.5" r="3.1" fill="#8c5a00" fill-opacity="0.8"/>
<circle cx="129.7" cy="425.0" r="3.1" fill="#8c5a00" fill-opacity="0.8"/>
<circle cx="71.4" cy="435.5" r="3.1" fill="#8c5a00" fill-opacity="0.8"/>
<circle cx="77.2" cy="434.4" r="3.1" fill="#8c5a00" fill-opacity="0.8"/>
<circle cx="83.0" cy="435.5" r="3.1" fill="#8c5a00" fill-opacity="0.8"/>
<circle cx="88.9" cy="434.4" r="3.1" fill="#8c5a00" fill-opacity="0.8"/>
<circle cx="94.7" cy="436.7" r="3.1" fill="#8c5a00" fill-opacity="0.8"/>
<circle cx="100.5" cy="435.5" r="3.1" fill="#8c5a00" fill-opacity="0.8"/>
<circle cx="105.2" cy="436.1" r="3.1" fill="#8c5a00" fill-opacity="0.8"/>
<circle cx="116.9" cy="436.7" r="3.1" fill="#8c5a00" fill-opacity="0.8"/>
<circle cx="122.7" cy="434.4" r="3.1" fill="#8c5a00" fill-opacity="0.8"/>
<circle cx="127.4" cy="432.0" r="3.1" fill="#8c5a00" fill-opacity="0.8"/>
<circle cx="129.7" cy="436.7" r="3.1" fill="#8c5a00" fill-opacity="0.8"/>
<circle cx="72.5" cy="440.2" r="3.1" fill="#8c5a00" fill-opacity="0.8"/>
<circle cx="78.4" cy="439.6" r="3.1" fill="#8c5a00" fill-opacity="0.8"/>
<circle cx="84.2" cy="440.2" r="3.1" fill="#8c5a00" fill-opacity="0.8"/>
<circle cx="90.0" cy="440.2" r="3.1" fill="#8c5a00" fill-opacity="0.8"/>
<circle cx="95.9" cy="441.4" r="3.1" fill="#8c5a00" fill-opacity="0.8"/>
<circle cx="101.7" cy="440.2" r="3.1" fill="#8c5a00" fill-opacity="0.8"/>
<circle cx="118.1" cy="441.4" r="3.1" fill="#8c5a00" fill-opacity="0.8"/>
<circle cx="123.9" cy="440.2" r="3.1" fill="#8c5a00" fill-opacity="0.8"/>
<circle cx="128.6" cy="441.4" r="3.1" fill="#8c5a00" fill-opacity="0.8"/>
<circle cx="71.4" cy="444.9" r="3.1" fill="#8c5a00" fill-opacity="0.8"/>
<circle cx="81.9" cy="444.3" r="3.1" fill="#8c5a00" fill-opacity="0.8"/>
<circle cx="90.0" cy="444.9" r="3.1" fill="#8c5a00" fill-opacity="0.8"/>
<circle cx="97.0" cy="444.3" r="3.1" fill="#8c5a00" fill-opacity="0.8"/>
<circle cx="102.9" cy="447.2" r="3.1" fill="#8c5a00" fill-opacity="0.8"/>
<circle cx="119.8" cy="445.5" r="3.1" fill="#8c5a00" fill-opacity="0.8"/>
<circle cx="125.1" cy="444.9" r="3.1" fill="#8c5a00" fill-opacity="0.8"/>
<circle cx="129.7" cy="444.9" r="3.1" fill="#8c5a00" fill-opacity="0.8"/>
<circle cx="72.5" cy="449.6" r="3.1" fill="#8c5a00" fill-opacity="0.8"/>
<circle cx="83.0" cy="449.6" r="3.1" fill="#8c5a00" fill-opacity="0.8"/>
<circle cx="91.8" cy="447.8" r="3.1" fill="#8c5a00" fill-opacity="0.8"/>
<circle cx="95.9" cy="450.7" r="3.1" fill="#8c5a00" fill-opacity="0.8"/>
<circle cx="120.4" cy="449.6" r="3.1" fill="#8c5a00" fill-opacity="0.8"/>
<circle cx="125.1" cy="448.4" r="3.1" fill="#8c5a00" fill-opacity="0.8"/>
<circle cx="73.7" cy="454.2" r="3.1" fill="#8c5a00" fill-opacity="0.8"/>
<circle cx="83.0" cy="453.6" r="3.1" fill="#8c5a00" fill-opacity="0.8"/>
<circle cx="121.6" cy="453.1" r="3.1" fill="#8c5a00" fill-opacity="0.8"/>
<circle cx="127.4" cy="453.1" r="3.1" fill="#8c5a00" fill-opacity="0.8"/>
<circle cx="74.3" cy="457.2" r="3.1" fill="#8c5a00" fill-opacity="0.8"/>
<circle cx="102.3" cy="456.6" r="3.1" fill="#8c5a00" fill-opacity="0.8"/>
<circle cx="126.2" cy="458.9" r="3.1" fill="#8c5a00" fill-opacity="0.8"/>
<circle cx="129.2" cy="462.4" r="3.1" fill="#8c5a00" fill-opacity="0.8"/>
<circle cx="102.3" cy="461.2" r="3.1" fill="#8c5a00" fill-opacity="0.8"/>
<circle cx="74.3" cy="466.5" r="3.1" fill="#8c5a00" fill-opacity="0.8"/>
<circle cx="102.3" cy="465.9" r="3.1" fill="#8c5a00" fill-opacity="0.8"/>
<circle cx="73.6" cy="452.6" r="3.1" fill="#8c5a00" fill-opacity="0.8"/>
<circle cx="102.8" cy="471.6" r="3.1" fill="#8c5a00" fill-opacity="0.8"/>
<circle cx="102.8" cy="479.6" r="3.1" fill="#8c5a00" fill-opacity="0.8"/>
<circle cx="102.8" cy="486.2" r="3.1" fill="#8c5a00" fill-opacity="0.8"/>
<circle cx="129.8" cy="467.2" r="3.1" fill="#8c5a00" fill-opacity="0.8"/>
<circle cx="133.0" cy="281.7" r="3.1" fill="#8c5a00" fill-opacity="0.8"/>
<circle cx="133.4" cy="288.2" r="3.1" fill="#8c5a00" fill-opacity="0.8"/>
<circle cx="133.1" cy="291.2" r="3.1" fill="#8c5a00" fill-opacity="0.8"/>
<circle cx="133.4" cy="310.1" r="3.1" fill="#8c5a00" fill-opacity="0.8"/>
<circle cx="133.5" cy="316.7" r="3.1" fill="#8c5a00" fill-opacity="0.8"/>
<circle cx="132.8" cy="324.7" r="3.1" fill="#8c5a00" fill-opacity="0.8"/>
<circle cx="132.7" cy="332.8" r="3.1" fill="#8c5a00" fill-opacity="0.8"/>
<circle cx="133.7" cy="338.6" r="3.1" fill="#8c5a00" fill-opacity="0.8"/>
<circle cx="133.0" cy="349.6" r="3.1" fill="#8c5a00" fill-opacity="0.8"/>
<circle cx="133.0" cy="357.6" r="3.1" fill="#8c5a00" fill-opacity="0.8"/>
<circle cx="133.9" cy="363.4" r="3.1" fill="#8c5a00" fill-opacity="0.8"/>
<circle cx="133.3" cy="373.0" r="3.1" fill="#8c5a00" fill-opacity="0.8"/>
<circle cx="133.7" cy="378.8" r="3.1" fill="#8c5a00" fill-opacity="0.8"/>
<circle cx="133.3" cy="387.6" r="3.1" fill="#8c5a00" fill-opacity="0.8"/>
<circle cx="133.5" cy="396.4" r="3.1" fill="#8c5a00" fill-opacity="0.8"/>
<circle cx="132.9" cy="403.0" r="3.1" fill="#8c5a00" fill-opacity="0.8"/>
<circle cx="133.5" cy="410.0" r="3.1" fill="#8c5a00" fill-opacity="0.8"/>
<circle cx="133.7" cy="417.0" r="3.1" fill="#8c5a00" fill-opacity="0.8"/>
<circle cx="133.3" cy="424.0" r="3.1" fill="#8c5a00" fill-opacity="0.8"/>
<circle cx="133.6" cy="431.0" r="3.1" fill="#8c5a00" fill-opacity="0.8"/>
<circle cx="133.5" cy="438.0" r="3.1" fill="#8c5a00" fill-opacity="0.8"/>
<circle cx="132.8" cy="445.0" r="3.1" fill="#8c5a00" fill-opacity="0.8"/>
<circle cx="133.6" cy="452.0" r="3.1" fill="#8c5a00" fill-opacity="0.8"/>
<circle cx="133.4" cy="459.0" r="3.1" fill="#8c5a00" fill-opacity="0.8"/>
<circle cx="133.1" cy="465.0" r="3.1" fill="#8c5a00" fill-opacity="0.8"/>
<circle cx="70.2" cy="439.8" r="3.1" fill="#8c5a00" fill-opacity="0.8"/>
<circle cx="73.8" cy="433.1" r="3.1" fill="#8c5a00" fill-opacity="0.8"/>
<circle cx="77.4" cy="418.2" r="3.1" fill="#8c5a00" fill-opacity="0.8"/>
<circle cx="76.4" cy="420.5" r="3.1" fill="#8c5a00" fill-opacity="0.8"/>
<circle cx="70.8" cy="406.3" r="3.1" fill="#8c5a00" fill-opacity="0.8"/>
<circle cx="72.4" cy="423.3" r="3.1" fill="#8c5a00" fill-opacity="0.8"/>
<circle cx="73.1" cy="416.1" r="3.1" fill="#8c5a00" fill-opacity="0.8"/>
<circle cx="74.7" cy="426.9" r="3.1" fill="#8c5a00" fill-opacity="0.8"/>
<circle cx="77.2" cy="431.4" r="3.1" fill="#8c5a00" fill-opacity="0.8"/>
<circle cx="70.9" cy="442.4" r="3.1" fill="#8c5a00" fill-opacity="0.8"/>
<circle cx="104.5" cy="443.5" r="3.1" fill="#8c5a00" fill-opacity="0.8"/>
<circle cx="87.9" cy="438.6" r="3.1" fill="#8c5a00" fill-opacity="0.8"/>
<circle cx="66.7" cy="442.2" r="3.1" fill="#8c5a00" fill-opacity="0.8"/>
<circle cx="105.6" cy="422.3" r="3.1" fill="#8c5a00" fill-opacity="0.8"/>
<circle cx="97.6" cy="430.7" r="3.1" fill="#8c5a00" fill-opacity="0.8"/>
<circle cx="70.3" cy="427.6" r="3.1" fill="#8c5a00" fill-opacity="0.8"/>
<circle cx="65.9" cy="436.0" r="3.1" fill="#8c5a00" fill-opacity="0.8"/>
<circle cx="65.9" cy="438.7" r="3.1" fill="#8c5a00" fill-opacity="0.8"/>
<circle cx="77.9" cy="442.9" r="3.1" fill="#8c5a00" fill-opacity="0.8"/>
<circle cx="105.2" cy="433.1" r="3.1" fill="#8c5a00" fill-opacity="0.8"/>
<circle cx="105.9" cy="428.1" r="3.1" fill="#8c5a00" fill-opacity="0.8"/>
<circle cx="65.3" cy="425.1" r="3.1" fill="#8c5a00" fill-opacity="0.8"/>
<circle cx="81.1" cy="435.9" r="3.1" fill="#8c5a00" fill-opacity="0.8"/>
<circle cx="70.6" cy="421.1" r="3.1" fill="#8c5a00" fill-opacity="0.8"/>
<circle cx="79.9" cy="432.0" r="3.1" fill="#8c5a00" fill-opacity="0.8"/>
<circle cx="85.8" cy="436.7" r="3.1" fill="#8c5a00" fill-opacity="0.8"/>
<circle cx="85.3" cy="431.2" r="3.1" fill="#8c5a00" fill-opacity="0.8"/>
<circle cx="94.3" cy="426.2" r="3.1" fill="#8c5a00" fill-opacity="0.8"/>
<circle cx="76.6" cy="445.4" r="3.1" fill="#8c5a00" fill-opacity="0.8"/>
<circle cx="85.9" cy="434.3" r="3.1" fill="#8c5a00" fill-opacity="0.8"/>
<circle cx="114.2" cy="427.0" r="3.1" fill="#8c5a00" fill-opacity="0.8"/>
<circle cx="125.1" cy="438.5" r="3.1" fill="#8c5a00" fill-opacity="0.8"/>
<circle cx="115.1" cy="438.2" r="3.1" fill="#8c5a00" fill-opacity="0.8"/>
<circle cx="122.4" cy="441.0" r="3.1" fill="#8c5a00" fill-opacity="0.8"/>
<circle cx="120.3" cy="442.5" r="3.1" fill="#8c5a00" fill-opacity="0.8"/>
<circle cx="127.3" cy="406.2" r="3.1" fill="#8c5a00" fill-opacity="0.8"/>
<circle cx="115.1" cy="440.8" r="3.1" fill="#8c5a00" fill-opacity="0.8"/>
<circle cx="131.3" cy="418.3" r="3.1" fill="#8c5a00" fill-opacity="0.8"/>
<circle cx="122.2" cy="436.4" r="3.1" fill="#8c5a00" fill-opacity="0.8"/>
<circle cx="119.8" cy="424.3" r="3.1" fill="#8c5a00" fill-opacity="0.8"/>
<circle cx="114.5" cy="435.2" r="3.1" fill="#8c5a00" fill-opacity="0.8"/>
<circle cx="118.0" cy="447.6" r="3.1" fill="#8c5a00" fill-opacity="0.8"/>
<circle cx="118.3" cy="414.9" r="3.1" fill="#8c5a00" fill-opacity="0.8"/>
<circle cx="115.8" cy="422.1" r="3.1" fill="#8c5a00" fill-opacity="0.8"/>
<circle cx="121.9" cy="450.3" r="3.1" fill="#8c5a00" fill-opacity="0.8"/>
<circle cx="77.4" cy="447.4" r="3.1" fill="#8c5a00" fill-opacity="0.8"/>
<circle cx="92.8" cy="451.2" r="3.1" fill="#8c5a00" fill-opacity="0.8"/>
<circle cx="86.4" cy="446.6" r="3.1" fill="#8c5a00" fill-opacity="0.8"/>
<circle cx="75.9" cy="448.7" r="3.1" fill="#8c5a00" fill-opacity="0.8"/>
<circle cx="78.1" cy="450.6" r="3.1" fill="#8c5a00" fill-opacity="0.8"/>
<circle cx="98.8" cy="446.3" r="3.1" fill="#8c5a00" fill-opacity="0.8"/>
<circle cx="72.8" cy="447.2" r="3.1" fill="#8c5a00" fill-opacity="0.8"/>
<circle cx="72.6" cy="419.5" r="3.1" fill="#8c5a00" fill-opacity="0.8"/>
<circle cx="71.9" cy="398.3" r="3.1" fill="#8c5a00" fill-opacity="0.8"/>
<circle cx="76.7" cy="452.6" r="3.1" fill="#8c5a00" fill-opacity="0.8"/>
<circle cx="131.4" cy="466.4" r="3.1" fill="#8c5a00" fill-opacity="0.8"/>
<circle cx="122.7" cy="457.3" r="3.1" fill="#8c5a00" fill-opacity="0.8"/>
<circle cx="130.0" cy="453.1" r="3.1" fill="#8c5a00" fill-opacity="0.8"/>
<circle cx="126.2" cy="434.5" r="3.1" fill="#8c5a00" fill-opacity="0.8"/>
<circle cx="124.1" cy="431.4" r="3.1" fill="#8c5a00" fill-opacity="0.8"/>
<circle cx="123.4" cy="460.5" r="3.1" fill="#8c5a00" fill-opacity="0.8"/>
<circle cx="120.5" cy="465.2" r="3.1" fill="#8c5a00" fill-opacity="0.8"/>
<circle cx="136.4" cy="320.7" r="3.1" fill="#3c8c6e" fill-opacity="0.8"/>
<circle cx="160.3" cy="342.3" r="3.1" fill="#3c8c6e" fill-opacity="0.8"/>
<circle cx="157.8" cy="367.2" r="3.1" fill="#3c8c6e" fill-opacity="0.8"/>
<circle cx="144.4" cy="373.3" r="3.1" fill="#3c8c6e" fill-opacity="0.8"/>
<circle cx="160.3" cy="374.5" r="3.1" fill="#3c8c6e" fill-opacity="0.8"/>
<circle cx="160.3" cy="380.0" r="3.1" fill="#3c8c6e" fill-opacity="0.8"/>
<circle cx="160.3" cy="386.1" r="3.1" fill="#3c8c6e" fill-opacity="0.8"/>
<circle cx="179.7" cy="390.5" r="3.1" fill="#3c8c6e" fill-opacity="0.8"/>
<circle cx="136.4" cy="365.7" r="3.1" fill="#3c8c6e" fill-opacity="0.8"/>
<circle cx="136.4" cy="370.0" r="3.1" fill="#3c8c6e" fill-opacity="0.8"/>
<circle cx="136.4" cy="374.5" r="3.1" fill="#3c8c6e" fill-opacity="0.8"/>
<circle cx="136.4" cy="380.0" r="3.1" fill="#3c8c6e" fill-opacity="0.8"/>
<circle cx="136.4" cy="384.5" r="3.1" fill="#3c8c6e" fill-opacity="0.8"/>
<circle cx="136.4" cy="389.0" r="3.1" fill="#3c8c6e" fill-opacity="0.8"/>
<circle cx="136.4" cy="394.1" r="3.1" fill="#3c8c6e" fill-opacity="0.8"/>
<circle cx="145.4" cy="404.3" r="3.1" fill="#3c8c6e" fill-opacity="0.8"/>
<circle cx="139.6" cy="408.7" r="3.1" fill="#3c8c6e" fill-opacity="0.8"/>
<circle cx="153.5" cy="409.0" r="3.1" fill="#3c8c6e" fill-opacity="0.8"/>
<circle cx="160.0" cy="404.6" r="3.1" fill="#3c8c6e" fill-opacity="0.8"/>
<circle cx="160.0" cy="410.4" r="3.1" fill="#3c8c6e" fill-opacity="0.8"/>
<circle cx="192.9" cy="411.2" r="3.1" fill="#3c8c6e" fill-opacity="0.8"/>
<circle cx="144.7" cy="420.7" r="3.1" fill="#3c8c6e" fill-opacity="0.8"/>
<circle cx="153.5" cy="418.5" r="3.1" fill="#3c8c6e" fill-opacity="0.8"/>
<circle cx="162.2" cy="425.0" r="3.1" fill="#3c8c6e" fill-opacity="0.8"/>
<circle cx="141.8" cy="425.8" r="3.1" fill="#3c8c6e" fill-opacity="0.8"/>
<circle cx="144.0" cy="428.7" r="3.1" fill="#3c8c6e" fill-opacity="0.8"/>
<circle cx="154.2" cy="428.0" r="3.1" fill="#3c8c6e" fill-opacity="0.8"/>
<circle cx="162.2" cy="429.4" r="3.1" fill="#3c8c6e" fill-opacity="0.8"/>
<circle cx="163.0" cy="433.8" r="3.1" fill="#3c8c6e" fill-opacity="0.8"/>
<circle cx="176.1" cy="426.5" r="3.1" fill="#3c8c6e" fill-opacity="0.8"/>
<circle cx="192.9" cy="422.8" r="3.1" fill="#3c8c6e" fill-opacity="0.8"/>
<circle cx="193.6" cy="428.0" r="3.1" fill="#3c8c6e" fill-opacity="0.8"/>
<circle cx="198.0" cy="427.2" r="3.1" fill="#3c8c6e" fill-opacity="0.8"/>
<circle cx="139.6" cy="437.4" r="3.1" fill="#3c8c6e" fill-opacity="0.8"/>
<circle cx="156.4" cy="436.7" r="3.1" fill="#3c8c6e" fill-opacity="0.8"/>
<circle cx="174.6" cy="436.7" r="3.1" fill="#3c8c6e" fill-opacity="0.8"/>
<circle cx="200.2" cy="439.6" r="3.1" fill="#3c8c6e" fill-opacity="0.8"/>
<circle cx="145.4" cy="441.1" r="3.1" fill="#3c8c6e" fill-opacity="0.8"/>
<circle cx="142.5" cy="445.5" r="3.1" fill="#3c8c6e" fill-opacity="0.8"/>
<circle cx="154.2" cy="444.0" r="3.1" fill="#3c8c6e" fill-opacity="0.8"/>
<circle cx="157.8" cy="447.7" r="3.1" fill="#3c8c6e" fill-opacity="0.8"/>
<circle cx="174.6" cy="445.2" r="3.1" fill="#3c8c6e" fill-opacity="0.8"/>
<circle cx="192.2" cy="445.5" r="3.1" fill="#3c8c6e" fill-opacity="0.8"/>
<circle cx="207.5" cy="447.7" r="3.1" fill="#3c8c6e" fill-opacity="0.8"/>
<circle cx="141.1" cy="451.3" r="3.1" fill="#3c8c6e" fill-opacity="0.8"/>
<circle cx="224.3" cy="432.3" r="3.1" fill="#3c8c6e" fill-opacity="0.8"/>
<circle cx="224.3" cy="444.0" r="3.1" fill="#3c8c6e" fill-opacity="0.8"/>
<circle cx="208.2" cy="436.7" r="3.1" fill="#3c8c6e" fill-opacity="0.8"/>
<circle cx="145.4" cy="455.3" r="3.1" fill="#3c8c6e" fill-opacity="0.8"/>
<circle cx="145.4" cy="463.4" r="3.1" fill="#3c8c6e" fill-opacity="0.8"/>
<circle cx="157.4" cy="467.7" r="3.1" fill="#3c8c6e" fill-opacity="0.8"/>
<circle cx="251.8" cy="433.4" r="3.1" fill="#3c8c6e" fill-opacity="0.8"/>
<circle cx="251.8" cy="448.7" r="3.1" fill="#3c8c6e" fill-opacity="0.8"/>
<circle cx="251.8" cy="468.1" r="3.1" fill="#3c8c6e" fill-opacity="0.8"/>
<circle cx="278.1" cy="441.3" r="3.1" fill="#3c8c6e" fill-opacity="0.8"/>
<circle cx="284.2" cy="446.0" r="3.1" fill="#3c8c6e" fill-opacity="0.8"/>
<circle cx="316.6" cy="429.1" r="3.1" fill="#3c8c6e" fill-opacity="0.8"/>
<circle cx="137.0" cy="400.0" r="3.1" fill="#3c8c6e" fill-opacity="0.8"/>
<circle cx="137.0" cy="410.0" r="3.1" fill="#3c8c6e" fill-opacity="0.8"/>
<circle cx="137.0" cy="416.0" r="3.1" fill="#3c8c6e" fill-opacity="0.8"/>
<circle cx="137.0" cy="424.0" r="3.1" fill="#3c8c6e" fill-opacity="0.8"/>
<circle cx="137.0" cy="431.0" r="3.1" fill="#3c8c6e" fill-opacity="0.8"/>
<circle cx="139.0" cy="447.0" r="3.1" fill="#3c8c6e" fill-opacity="0.8"/>
<circle cx="140.7" cy="457.0" r="3.1" fill="#3c8c6e" fill-opacity="0.8"/>
<circle cx="140.7" cy="462.0" r="3.1" fill="#3c8c6e" fill-opacity="0.8"/>
<circle cx="140.7" cy="467.0" r="3.1" fill="#3c8c6e" fill-opacity="0.8"/>
<circle cx="140.4" cy="471.0" r="3.1" fill="#3c8c6e" fill-opacity="0.8"/>
<circle cx="139.8" cy="475.0" r="3.1" fill="#3c8c6e" fill-opacity="0.8"/>
<circle cx="140.5" cy="479.0" r="3.1" fill="#3c8c6e" fill-opacity="0.8"/>
<circle cx="140.0" cy="483.0" r="3.1" fill="#3c8c6e" fill-opacity="0.8"/>
<circle cx="140.1" cy="488.0" r="3.1" fill="#3c8c6e" fill-opacity="0.8"/>
<circle cx="140.5" cy="492.0" r="3.1" fill="#3c8c6e" fill-opacity="0.8"/>
<circle cx="140.3" cy="496.0" r="3.1" fill="#3c8c6e" fill-opacity="0.8"/>
<circle cx="140.2" cy="500.0" r="3.1" fill="#3c8c6e" fill-opacity="0.8"/>
<circle cx="140.7" cy="504.0" r="3.1" fill="#3c8c6e" fill-opacity="0.8"/>
<circle cx="140.4" cy="508.5" r="3.1" fill="#3c8c6e" fill-opacity="0.8"/>
<circle cx="127.3" cy="354.7" r="4.4" fill="#8c5a00" fill-opacity="0.8"/>
<circle cx="157.4" cy="467.7" r="3.6" fill="#3c8c6e" fill-opacity="0.8"/>
<path d="M51.4,430.7 L54.8,429.7 L58.2,428.7 L61.6,427.6 L65.0,426.6 L68.4,425.5 L71.8,424.4 L75.2,423.3 L78.6,422.2 L82.0,421.1 L85.4,419.9 L88.8,418.7 L92.2,417.4 L95.5,416.0 L98.9,414.5 L102.3,412.9 L105.7,411.3 L109.1,409.6 L112.5,407.8 L115.9,406.0 L119.3,404.2 L122.7,402.3 L126.1,400.5 L129.5,398.6 L132.9,396.7 L132.9,406.3 L129.5,407.6 L126.1,408.9 L122.7,410.2 L119.3,411.5 L115.9,412.8 L112.5,414.2 L109.1,415.6 L105.7,417.0 L102.3,418.6 L98.9,420.1 L95.5,421.8 L92.2,423.6 L88.8,425.5 L85.4,427.4 L82.0,429.4 L78.6,431.4 L75.2,433.5 L71.8,435.6 L68.4,437.7 L65.0,439.8 L61.6,441.9 L58.2,444.0 L54.8,446.1 L51.4,448.3Z M133.5,425.3 L138.1,425.5 L142.7,425.7 L147.2,425.8 L151.8,426.0 L156.4,426.1 L161.0,426.3 L165.6,426.4 L170.2,426.5 L174.7,426.6 L179.3,426.7 L183.9,426.7 L188.5,426.7 L193.1,426.7 L197.7,426.7 L202.2,426.7 L206.8,426.6 L211.4,426.5 L216.0,426.4 L220.6,426.2 L225.2,426.0 L229.7,425.8 L234.3,425.5 L238.9,425.3 L243.5,424.9 L248.1,424.6 L252.6,424.2 L257.2,423.8 L261.8,423.3 L266.4,422.8 L271.0,422.2 L275.6,421.7 L280.1,421.0 L284.7,420.4 L289.3,419.6 L293.9,418.9 L298.5,418.1 L303.1,417.2 L307.6,416.3 L312.2,415.4 L316.8,414.4 L316.8,464.8 L312.2,463.4 L307.6,462.1 L303.1,460.9 L298.5,459.7 L293.9,458.5 L289.3,457.4 L284.7,456.3 L280.1,455.2 L275.6,454.3 L271.0,453.3 L266.4,452.4 L261.8,451.5 L257.2,450.7 L252.6,449.9 L248.1,449.1 L243.5,448.4 L238.9,447.7 L234.3,447.1 L229.7,446.5 L225.2,445.9 L220.6,445.3 L216.0,444.8 L211.4,444.3 L206.8,443.9 L202.2,443.4 L197.7,443.0 L193.1,442.6 L188.5,442.3 L183.9,441.9 L179.3,441.6 L174.7,441.3 L170.2,441.0 L165.6,440.8 L161.0,440.5 L156.4,440.3 L151.8,440.1 L147.2,439.9 L142.7,439.7 L138.1,439.5 L133.5,439.3Z" fill="#999" fill-opacity="0.4"/>
<path d="M51.4,439.5 L132.9,401.5" fill="none" stroke="#144bbe" stroke-width="2.6"/>
<path d="M134.5,432.3 L316.6,439.5" fill="none" stroke="#144bbe" stroke-width="2.6" stroke-dasharray="34.4,15"/>
<path d="M51.0,418.2 C52.5,418.6 56.7,419.9 60.0,420.6 C63.3,421.4 67.4,422.1 70.7,422.7 C74.0,423.3 76.7,423.9 80.0,424.3 C83.3,424.7 87.6,424.9 90.4,425.0 C93.2,425.1 94.9,425.4 97.0,425.2 C99.1,425.0 101.1,424.5 103.0,423.8 C104.9,423.1 106.1,422.4 108.6,421.2 C111.1,420.0 114.7,417.8 118.0,416.5 C121.3,415.2 125.5,413.9 128.3,413.2 C131.1,412.5 133.1,412.4 135.0,412.3 C136.9,412.2 138.0,412.2 140.0,412.6 C142.0,413.0 144.2,413.8 147.0,414.6 C149.8,415.4 153.7,416.6 157.0,417.6 C160.3,418.6 163.5,419.7 166.6,420.7 C169.7,421.7 172.4,422.6 175.5,423.6 C178.6,424.6 181.7,425.4 184.9,426.5 C188.1,427.6 191.2,428.8 194.5,429.9 C197.8,431.0 201.4,432.2 204.6,433.1 C207.8,434.0 210.5,434.8 213.5,435.5 C216.5,436.2 219.6,436.8 222.8,437.4 C226.1,438.0 229.6,438.7 233.0,439.3 C236.4,439.9 239.8,440.6 243.0,441.0 C246.2,441.4 249.3,441.8 252.5,442.0 C255.7,442.2 258.9,442.4 262.3,442.5 C265.7,442.6 269.5,442.8 273.0,442.9 C276.5,443.0 280.1,443.1 283.3,443.0 C286.6,442.9 289.4,442.8 292.5,442.6 C295.6,442.4 300.2,442.1 301.7,442.0" fill="none" stroke="#000" stroke-width="3.2" stroke-dasharray="19.5,19.8"/>
<line x1="132.88" y1="270.00" x2="132.88" y2="519.00" stroke="#8b0000" stroke-width="2.9" stroke-dasharray="14.6,10.26" stroke-dashoffset="14.5" stroke-linecap="round"/>
<line x1="38.50" y1="270.00" x2="38.50" y2="519.50" stroke="#000" stroke-width="1.1" />
<line x1="38.00" y1="519.00" x2="328.90" y2="519.00" stroke="#000" stroke-width="1.1" />
<line x1="35.70" y1="443.90" x2="38.50" y2="443.90" stroke="#333" stroke-width="1" />
<text x="33.2" y="449.8" font-size="15" text-anchor="end" fill="#000" >0</text>
<line x1="35.70" y1="361.65" x2="38.50" y2="361.65" stroke="#333" stroke-width="1" />
<text x="33.2" y="367.5" font-size="15" text-anchor="end" fill="#000" >1</text>
<line x1="35.70" y1="279.40" x2="38.50" y2="279.40" stroke="#333" stroke-width="1" />
<text x="33.2" y="285.3" font-size="15" text-anchor="end" fill="#000" >2</text>
<line x1="46.30" y1="519.00" x2="46.30" y2="521.80" stroke="#333" stroke-width="1" />
<text x="46.3" y="535.8" font-size="15" text-anchor="middle" fill="#000" >0</text>
<line x1="104.80" y1="519.00" x2="104.80" y2="521.80" stroke="#333" stroke-width="1" />
<text x="104.8" y="535.8" font-size="15" text-anchor="middle" fill="#000" >10</text>
<line x1="163.30" y1="519.00" x2="163.30" y2="521.80" stroke="#333" stroke-width="1" />
<text x="163.3" y="535.8" font-size="15" text-anchor="middle" fill="#000" >20</text>
<line x1="221.80" y1="519.00" x2="221.80" y2="521.80" stroke="#333" stroke-width="1" />
<text x="221.8" y="535.8" font-size="15" text-anchor="middle" fill="#000" >30</text>
<line x1="280.30" y1="519.00" x2="280.30" y2="521.80" stroke="#333" stroke-width="1" />
<text x="280.3" y="535.8" font-size="15" text-anchor="middle" fill="#000" >40</text>
<line x1="393.10" y1="325.30" x2="398.60" y2="325.30" stroke="#c8c8c8" stroke-width="0.8" />
<line x1="393.10" y1="334.80" x2="398.60" y2="334.80" stroke="#c8c8c8" stroke-width="0.8" />
<line x1="393.10" y1="355.90" x2="398.60" y2="355.90" stroke="#c8c8c8" stroke-width="0.8" />
<line x1="393.10" y1="365.30" x2="398.60" y2="365.30" stroke="#c8c8c8" stroke-width="0.8" />
<line x1="393.10" y1="371.50" x2="398.60" y2="371.50" stroke="#c8c8c8" stroke-width="0.8" />
<line x1="393.10" y1="371.20" x2="398.60" y2="371.20" stroke="#c8c8c8" stroke-width="0.8" />
<line x1="393.10" y1="373.90" x2="398.60" y2="373.90" stroke="#c8c8c8" stroke-width="0.8" />
<line x1="393.10" y1="373.90" x2="398.60" y2="373.90" stroke="#c8c8c8" stroke-width="0.8" />
<line x1="393.10" y1="374.50" x2="398.60" y2="374.50" stroke="#c8c8c8" stroke-width="0.8" />
<line x1="393.10" y1="376.50" x2="398.60" y2="376.50" stroke="#c8c8c8" stroke-width="0.8" />
<line x1="393.10" y1="380.40" x2="398.60" y2="380.40" stroke="#c8c8c8" stroke-width="0.8" />
<line x1="393.10" y1="379.80" x2="398.60" y2="379.80" stroke="#c8c8c8" stroke-width="0.8" />
<line x1="393.10" y1="384.40" x2="398.60" y2="384.40" stroke="#c8c8c8" stroke-width="0.8" />
<line x1="393.10" y1="385.00" x2="398.60" y2="385.00" stroke="#c8c8c8" stroke-width="0.8" />
<line x1="393.10" y1="385.00" x2="398.60" y2="385.00" stroke="#c8c8c8" stroke-width="0.8" />
<line x1="393.10" y1="380.70" x2="398.60" y2="380.70" stroke="#c8c8c8" stroke-width="0.8" />
<line x1="393.10" y1="383.10" x2="398.60" y2="383.10" stroke="#c8c8c8" stroke-width="0.8" />
<line x1="393.10" y1="388.30" x2="398.60" y2="388.30" stroke="#c8c8c8" stroke-width="0.8" />
<line x1="393.10" y1="387.70" x2="398.60" y2="387.70" stroke="#c8c8c8" stroke-width="0.8" />
<line x1="393.10" y1="391.60" x2="398.60" y2="391.60" stroke="#c8c8c8" stroke-width="0.8" />
<line x1="393.10" y1="392.30" x2="398.60" y2="392.30" stroke="#c8c8c8" stroke-width="0.8" />
<line x1="393.10" y1="392.90" x2="398.60" y2="392.90" stroke="#c8c8c8" stroke-width="0.8" />
<line x1="393.10" y1="395.50" x2="398.60" y2="395.50" stroke="#c8c8c8" stroke-width="0.8" />
<line x1="393.10" y1="394.90" x2="398.60" y2="394.90" stroke="#c8c8c8" stroke-width="0.8" />
<line x1="393.10" y1="398.80" x2="398.60" y2="398.80" stroke="#c8c8c8" stroke-width="0.8" />
<line x1="393.10" y1="400.10" x2="398.60" y2="400.10" stroke="#c8c8c8" stroke-width="0.8" />
<line x1="393.10" y1="397.50" x2="398.60" y2="397.50" stroke="#c8c8c8" stroke-width="0.8" />
<line x1="393.10" y1="396.20" x2="398.60" y2="396.20" stroke="#c8c8c8" stroke-width="0.8" />
<line x1="393.10" y1="401.50" x2="398.60" y2="401.50" stroke="#c8c8c8" stroke-width="0.8" />
<line x1="393.10" y1="404.70" x2="398.60" y2="404.70" stroke="#c8c8c8" stroke-width="0.8" />
<line x1="393.10" y1="400.80" x2="398.60" y2="400.80" stroke="#c8c8c8" stroke-width="0.8" />
<line x1="393.10" y1="402.80" x2="398.60" y2="402.80" stroke="#c8c8c8" stroke-width="0.8" />
<line x1="393.10" y1="402.10" x2="398.60" y2="402.10" stroke="#c8c8c8" stroke-width="0.8" />
<line x1="393.10" y1="407.40" x2="398.60" y2="407.40" stroke="#c8c8c8" stroke-width="0.8" />
<line x1="393.10" y1="409.30" x2="398.60" y2="409.30" stroke="#c8c8c8" stroke-width="0.8" />
<line x1="393.10" y1="395.90" x2="398.60" y2="395.90" stroke="#c8c8c8" stroke-width="0.8" />
<line x1="393.10" y1="409.30" x2="398.60" y2="409.30" stroke="#c8c8c8" stroke-width="0.8" />
<line x1="393.10" y1="404.20" x2="398.60" y2="404.20" stroke="#c8c8c8" stroke-width="0.8" />
<line x1="393.10" y1="412.10" x2="398.60" y2="412.10" stroke="#c8c8c8" stroke-width="0.8" />
<line x1="393.10" y1="414.70" x2="398.60" y2="414.70" stroke="#c8c8c8" stroke-width="0.8" />
<line x1="393.10" y1="418.40" x2="398.60" y2="418.40" stroke="#c8c8c8" stroke-width="0.8" />
<line x1="393.10" y1="419.30" x2="398.60" y2="419.30" stroke="#c8c8c8" stroke-width="0.8" />
<line x1="393.10" y1="410.10" x2="398.60" y2="410.10" stroke="#c8c8c8" stroke-width="0.8" />
<line x1="393.10" y1="397.00" x2="398.60" y2="397.00" stroke="#c8c8c8" stroke-width="0.8" />
<line x1="393.10" y1="418.70" x2="398.60" y2="418.70" stroke="#c8c8c8" stroke-width="0.8" />
<line x1="393.10" y1="422.60" x2="398.60" y2="422.60" stroke="#c8c8c8" stroke-width="0.8" />
<line x1="393.10" y1="420.00" x2="398.60" y2="420.00" stroke="#c8c8c8" stroke-width="0.8" />
<line x1="393.10" y1="422.60" x2="398.60" y2="422.60" stroke="#c8c8c8" stroke-width="0.8" />
<line x1="393.10" y1="417.30" x2="398.60" y2="417.30" stroke="#c8c8c8" stroke-width="0.8" />
<line x1="393.10" y1="411.40" x2="398.60" y2="411.40" stroke="#c8c8c8" stroke-width="0.8" />
<line x1="393.10" y1="429.40" x2="398.60" y2="429.40" stroke="#c8c8c8" stroke-width="0.8" />
<line x1="393.10" y1="439.00" x2="398.60" y2="439.00" stroke="#c8c8c8" stroke-width="0.8" />
<line x1="393.10" y1="447.30" x2="398.60" y2="447.30" stroke="#c8c8c8" stroke-width="0.8" />
<line x1="393.10" y1="452.50" x2="398.60" y2="452.50" stroke="#c8c8c8" stroke-width="0.8" />
<line x1="393.10" y1="460.70" x2="398.60" y2="460.70" stroke="#c8c8c8" stroke-width="0.8" />
<line x1="393.10" y1="466.60" x2="398.60" y2="466.60" stroke="#c8c8c8" stroke-width="0.8" />
<line x1="393.10" y1="458.70" x2="398.60" y2="458.70" stroke="#c8c8c8" stroke-width="0.8" />
<line x1="393.10" y1="480.40" x2="398.60" y2="480.40" stroke="#c8c8c8" stroke-width="0.8" />
<line x1="393.10" y1="405.00" x2="398.60" y2="405.00" stroke="#c8c8c8" stroke-width="0.8" />
<line x1="393.10" y1="403.00" x2="398.60" y2="403.00" stroke="#c8c8c8" stroke-width="0.8" />
<line x1="393.10" y1="412.00" x2="398.60" y2="412.00" stroke="#c8c8c8" stroke-width="0.8" />
<line x1="393.10" y1="398.00" x2="398.60" y2="398.00" stroke="#c8c8c8" stroke-width="0.8" />
<line x1="393.10" y1="389.00" x2="398.60" y2="389.00" stroke="#c8c8c8" stroke-width="0.8" />
<line x1="393.10" y1="392.00" x2="398.60" y2="392.00" stroke="#c8c8c8" stroke-width="0.8" />
<line x1="393.10" y1="391.00" x2="398.60" y2="391.00" stroke="#c8c8c8" stroke-width="0.8" />
<line x1="393.10" y1="368.60" x2="398.60" y2="368.60" stroke="#c8c8c8" stroke-width="0.8" />
<line x1="393.10" y1="377.20" x2="398.60" y2="377.20" stroke="#c8c8c8" stroke-width="0.8" />
<line x1="393.10" y1="383.10" x2="398.60" y2="383.10" stroke="#c8c8c8" stroke-width="0.8" />
<line x1="393.10" y1="389.00" x2="398.60" y2="389.00" stroke="#c8c8c8" stroke-width="0.8" />
<line x1="393.10" y1="383.70" x2="398.60" y2="383.70" stroke="#c8c8c8" stroke-width="0.8" />
<line x1="393.10" y1="400.10" x2="398.60" y2="400.10" stroke="#c8c8c8" stroke-width="0.8" />
<line x1="393.10" y1="402.90" x2="398.60" y2="402.90" stroke="#c8c8c8" stroke-width="0.8" />
<line x1="393.10" y1="409.50" x2="398.60" y2="409.50" stroke="#c8c8c8" stroke-width="0.8" />
<line x1="393.10" y1="418.70" x2="398.60" y2="418.70" stroke="#c8c8c8" stroke-width="0.8" />
<line x1="393.10" y1="423.20" x2="398.60" y2="423.20" stroke="#c8c8c8" stroke-width="0.8" />
<line x1="393.10" y1="431.80" x2="398.60" y2="431.80" stroke="#c8c8c8" stroke-width="0.8" />
<line x1="393.10" y1="437.00" x2="398.60" y2="437.00" stroke="#c8c8c8" stroke-width="0.8" />
<line x1="393.10" y1="435.70" x2="398.60" y2="435.70" stroke="#c8c8c8" stroke-width="0.8" />
<line x1="393.10" y1="443.00" x2="398.60" y2="443.00" stroke="#c8c8c8" stroke-width="0.8" />
<line x1="393.10" y1="383.00" x2="398.60" y2="383.00" stroke="#c8c8c8" stroke-width="0.8" />
<line x1="393.10" y1="395.50" x2="398.60" y2="395.50" stroke="#c8c8c8" stroke-width="0.8" />
<line x1="393.10" y1="364.00" x2="398.60" y2="364.00" stroke="#c8c8c8" stroke-width="0.8" />
<line x1="393.10" y1="367.70" x2="398.60" y2="367.70" stroke="#c8c8c8" stroke-width="0.8" />
<line x1="393.10" y1="368.20" x2="398.60" y2="368.20" stroke="#c8c8c8" stroke-width="0.8" />
<line x1="393.10" y1="378.20" x2="398.60" y2="378.20" stroke="#c8c8c8" stroke-width="0.8" />
<line x1="393.10" y1="382.70" x2="398.60" y2="382.70" stroke="#c8c8c8" stroke-width="0.8" />
<line x1="393.10" y1="401.50" x2="398.60" y2="401.50" stroke="#c8c8c8" stroke-width="0.8" />
<line x1="393.10" y1="400.20" x2="398.60" y2="400.20" stroke="#c8c8c8" stroke-width="0.8" />
<line x1="393.10" y1="403.90" x2="398.60" y2="403.90" stroke="#c8c8c8" stroke-width="0.8" />
<line x1="393.10" y1="404.70" x2="398.60" y2="404.70" stroke="#c8c8c8" stroke-width="0.8" />
<line x1="393.10" y1="416.70" x2="398.60" y2="416.70" stroke="#c8c8c8" stroke-width="0.8" />
<line x1="393.10" y1="420.70" x2="398.60" y2="420.70" stroke="#c8c8c8" stroke-width="0.8" />
<line x1="393.10" y1="413.50" x2="398.60" y2="413.50" stroke="#c8c8c8" stroke-width="0.8" />
<line x1="393.10" y1="419.10" x2="398.60" y2="419.10" stroke="#c8c8c8" stroke-width="0.8" />
<line x1="393.10" y1="423.10" x2="398.60" y2="423.10" stroke="#c8c8c8" stroke-width="0.8" />
<line x1="393.10" y1="418.80" x2="398.60" y2="418.80" stroke="#c8c8c8" stroke-width="0.8" />
<line x1="393.10" y1="435.20" x2="398.60" y2="435.20" stroke="#c8c8c8" stroke-width="0.8" />
<line x1="393.10" y1="419.10" x2="398.60" y2="419.10" stroke="#c8c8c8" stroke-width="0.8" />
<line x1="393.10" y1="417.50" x2="398.60" y2="417.50" stroke="#c8c8c8" stroke-width="0.8" />
<line x1="393.10" y1="396.20" x2="398.60" y2="396.20" stroke="#c8c8c8" stroke-width="0.8" />
<line x1="393.10" y1="403.90" x2="398.60" y2="403.90" stroke="#c8c8c8" stroke-width="0.8" />
<line x1="393.10" y1="406.80" x2="398.60" y2="406.80" stroke="#c8c8c8" stroke-width="0.8" />
<line x1="393.10" y1="403.60" x2="398.60" y2="403.60" stroke="#c8c8c8" stroke-width="0.8" />
<line x1="393.10" y1="415.10" x2="398.60" y2="415.10" stroke="#c8c8c8" stroke-width="0.8" />
<line x1="393.10" y1="411.10" x2="398.60" y2="411.10" stroke="#c8c8c8" stroke-width="0.8" />
<line x1="393.10" y1="405.30" x2="398.60" y2="405.30" stroke="#c8c8c8" stroke-width="0.8" />
<line x1="393.10" y1="410.30" x2="398.60" y2="410.30" stroke="#c8c8c8" stroke-width="0.8" />
<line x1="393.10" y1="417.80" x2="398.60" y2="417.80" stroke="#c8c8c8" stroke-width="0.8" />
<line x1="393.10" y1="411.10" x2="398.60" y2="411.10" stroke="#c8c8c8" stroke-width="0.8" />
<line x1="393.10" y1="415.00" x2="398.60" y2="415.00" stroke="#c8c8c8" stroke-width="0.8" />
<line x1="393.10" y1="426.70" x2="398.60" y2="426.70" stroke="#c8c8c8" stroke-width="0.8" />
<line x1="393.10" y1="415.70" x2="398.60" y2="415.70" stroke="#c8c8c8" stroke-width="0.8" />
<line x1="393.10" y1="471.60" x2="398.60" y2="471.60" stroke="#c8c8c8" stroke-width="0.8" />
<line x1="393.10" y1="428.00" x2="398.60" y2="428.00" stroke="#c8c8c8" stroke-width="0.8" />
<line x1="393.10" y1="414.00" x2="398.60" y2="414.00" stroke="#c8c8c8" stroke-width="0.8" />
<line x1="393.10" y1="446.20" x2="398.60" y2="446.20" stroke="#c8c8c8" stroke-width="0.8" />
<line x1="393.10" y1="422.30" x2="398.60" y2="422.30" stroke="#c8c8c8" stroke-width="0.8" />
<line x1="393.10" y1="410.80" x2="398.60" y2="410.80" stroke="#c8c8c8" stroke-width="0.8" />
<line x1="393.10" y1="454.10" x2="398.60" y2="454.10" stroke="#c8c8c8" stroke-width="0.8" />
<line x1="413.70" y1="519.00" x2="413.70" y2="514.50" stroke="#c8c8c8" stroke-width="0.8" />
<line x1="444.90" y1="519.00" x2="444.90" y2="514.50" stroke="#c8c8c8" stroke-width="0.8" />
<line x1="413.70" y1="519.00" x2="413.70" y2="514.50" stroke="#c8c8c8" stroke-width="0.8" />
<line x1="464.60" y1="519.00" x2="464.60" y2="514.50" stroke="#c8c8c8" stroke-width="0.8" />
<line x1="443.90" y1="519.00" x2="443.90" y2="514.50" stroke="#c8c8c8" stroke-width="0.8" />
<line x1="413.70" y1="519.00" x2="413.70" y2="514.50" stroke="#c8c8c8" stroke-width="0.8" />
<line x1="414.40" y1="519.00" x2="414.40" y2="514.50" stroke="#c8c8c8" stroke-width="0.8" />
<line x1="419.30" y1="519.00" x2="419.30" y2="514.50" stroke="#c8c8c8" stroke-width="0.8" />
<line x1="422.60" y1="519.00" x2="422.60" y2="514.50" stroke="#c8c8c8" stroke-width="0.8" />
<line x1="426.50" y1="519.00" x2="426.50" y2="514.50" stroke="#c8c8c8" stroke-width="0.8" />
<line x1="425.90" y1="519.00" x2="425.90" y2="514.50" stroke="#c8c8c8" stroke-width="0.8" />
<line x1="414.70" y1="519.00" x2="414.70" y2="514.50" stroke="#c8c8c8" stroke-width="0.8" />
<line x1="405.50" y1="519.00" x2="405.50" y2="514.50" stroke="#c8c8c8" stroke-width="0.8" />
<line x1="416.00" y1="519.00" x2="416.00" y2="514.50" stroke="#c8c8c8" stroke-width="0.8" />
<line x1="425.20" y1="519.00" x2="425.20" y2="514.50" stroke="#c8c8c8" stroke-width="0.8" />
<line x1="432.40" y1="519.00" x2="432.40" y2="514.50" stroke="#c8c8c8" stroke-width="0.8" />
<line x1="436.40" y1="519.00" x2="436.40" y2="514.50" stroke="#c8c8c8" stroke-width="0.8" />
<line x1="433.80" y1="519.00" x2="433.80" y2="514.50" stroke="#c8c8c8" stroke-width="0.8" />
<line x1="443.60" y1="519.00" x2="443.60" y2="514.50" stroke="#c8c8c8" stroke-width="0.8" />
<line x1="444.90" y1="519.00" x2="444.90" y2="514.50" stroke="#c8c8c8" stroke-width="0.8" />
<line x1="448.90" y1="519.00" x2="448.90" y2="514.50" stroke="#c8c8c8" stroke-width="0.8" />
<line x1="426.50" y1="519.00" x2="426.50" y2="514.50" stroke="#c8c8c8" stroke-width="0.8" />
<line x1="429.80" y1="519.00" x2="429.80" y2="514.50" stroke="#c8c8c8" stroke-width="0.8" />
<line x1="435.10" y1="519.00" x2="435.10" y2="514.50" stroke="#c8c8c8" stroke-width="0.8" />
<line x1="435.70" y1="519.00" x2="435.70" y2="514.50" stroke="#c8c8c8" stroke-width="0.8" />
<line x1="439.00" y1="519.00" x2="439.00" y2="514.50" stroke="#c8c8c8" stroke-width="0.8" />
<line x1="444.90" y1="519.00" x2="444.90" y2="514.50" stroke="#c8c8c8" stroke-width="0.8" />
<line x1="447.60" y1="519.00" x2="447.60" y2="514.50" stroke="#c8c8c8" stroke-width="0.8" />
<line x1="444.90" y1="519.00" x2="444.90" y2="514.50" stroke="#c8c8c8" stroke-width="0.8" />
<line x1="448.90" y1="519.00" x2="448.90" y2="514.50" stroke="#c8c8c8" stroke-width="0.8" />
<line x1="414.10" y1="519.00" x2="414.10" y2="514.50" stroke="#c8c8c8" stroke-width="0.8" />
<line x1="419.30" y1="519.00" x2="419.30" y2="514.50" stroke="#c8c8c8" stroke-width="0.8" />
<line x1="423.20" y1="519.00" x2="423.20" y2="514.50" stroke="#c8c8c8" stroke-width="0.8" />
<line x1="405.50" y1="519.00" x2="405.50" y2="514.50" stroke="#c8c8c8" stroke-width="0.8" />
<line x1="414.10" y1="519.00" x2="414.10" y2="514.50" stroke="#c8c8c8" stroke-width="0.8" />
<line x1="471.90" y1="519.00" x2="471.90" y2="514.50" stroke="#c8c8c8" stroke-width="0.8" />
<line x1="471.20" y1="519.00" x2="471.20" y2="514.50" stroke="#c8c8c8" stroke-width="0.8" />
<line x1="422.60" y1="519.00" x2="422.60" y2="514.50" stroke="#c8c8c8" stroke-width="0.8" />
<line x1="421.30" y1="519.00" x2="421.30" y2="514.50" stroke="#c8c8c8" stroke-width="0.8" />
<line x1="422.60" y1="519.00" x2="422.60" y2="514.50" stroke="#c8c8c8" stroke-width="0.8" />
<line x1="413.40" y1="519.00" x2="413.40" y2="514.50" stroke="#c8c8c8" stroke-width="0.8" />
<line x1="421.90" y1="519.00" x2="421.90" y2="514.50" stroke="#c8c8c8" stroke-width="0.8" />
<line x1="431.10" y1="519.00" x2="431.10" y2="514.50" stroke="#c8c8c8" stroke-width="0.8" />
<line x1="434.40" y1="519.00" x2="434.40" y2="514.50" stroke="#c8c8c8" stroke-width="0.8" />
<line x1="435.70" y1="519.00" x2="435.70" y2="514.50" stroke="#c8c8c8" stroke-width="0.8" />
<line x1="437.70" y1="519.00" x2="437.70" y2="514.50" stroke="#c8c8c8" stroke-width="0.8" />
<line x1="441.60" y1="519.00" x2="441.60" y2="514.50" stroke="#c8c8c8" stroke-width="0.8" />
<line x1="442.30" y1="519.00" x2="442.30" y2="514.50" stroke="#c8c8c8" stroke-width="0.8" />
<line x1="447.60" y1="519.00" x2="447.60" y2="514.50" stroke="#c8c8c8" stroke-width="0.8" />
<line x1="471.90" y1="519.00" x2="471.90" y2="514.50" stroke="#c8c8c8" stroke-width="0.8" />
<line x1="464.60" y1="519.00" x2="464.60" y2="514.50" stroke="#c8c8c8" stroke-width="0.8" />
<line x1="409.50" y1="519.00" x2="409.50" y2="514.50" stroke="#c8c8c8" stroke-width="0.8" />
<line x1="448.90" y1="519.00" x2="448.90" y2="514.50" stroke="#c8c8c8" stroke-width="0.8" />
<line x1="448.90" y1="519.00" x2="448.90" y2="514.50" stroke="#c8c8c8" stroke-width="0.8" />
<line x1="448.90" y1="519.00" x2="448.90" y2="514.50" stroke="#c8c8c8" stroke-width="0.8" />
<line x1="448.90" y1="519.00" x2="448.90" y2="514.50" stroke="#c8c8c8" stroke-width="0.8" />
<line x1="461.70" y1="519.00" x2="461.70" y2="514.50" stroke="#c8c8c8" stroke-width="0.8" />
<line x1="448.90" y1="519.00" x2="448.90" y2="514.50" stroke="#c8c8c8" stroke-width="0.8" />
<line x1="428.00" y1="519.00" x2="428.00" y2="514.50" stroke="#c8c8c8" stroke-width="0.8" />
<line x1="432.00" y1="519.00" x2="432.00" y2="514.50" stroke="#c8c8c8" stroke-width="0.8" />
<line x1="440.00" y1="519.00" x2="440.00" y2="514.50" stroke="#c8c8c8" stroke-width="0.8" />
<line x1="426.00" y1="519.00" x2="426.00" y2="514.50" stroke="#c8c8c8" stroke-width="0.8" />
<line x1="417.00" y1="519.00" x2="417.00" y2="514.50" stroke="#c8c8c8" stroke-width="0.8" />
<line x1="410.00" y1="519.00" x2="410.00" y2="514.50" stroke="#c8c8c8" stroke-width="0.8" />
<line x1="431.00" y1="519.00" x2="431.00" y2="514.50" stroke="#c8c8c8" stroke-width="0.8" />
<line x1="477.80" y1="519.00" x2="477.80" y2="514.50" stroke="#c8c8c8" stroke-width="0.8" />
<line x1="477.80" y1="519.00" x2="477.80" y2="514.50" stroke="#c8c8c8" stroke-width="0.8" />
<line x1="479.10" y1="519.00" x2="479.10" y2="514.50" stroke="#c8c8c8" stroke-width="0.8" />
<line x1="477.80" y1="519.00" x2="477.80" y2="514.50" stroke="#c8c8c8" stroke-width="0.8" />
<line x1="484.30" y1="519.00" x2="484.30" y2="514.50" stroke="#c8c8c8" stroke-width="0.8" />
<line x1="478.40" y1="519.00" x2="478.40" y2="514.50" stroke="#c8c8c8" stroke-width="0.8" />
<line x1="482.40" y1="519.00" x2="482.40" y2="514.50" stroke="#c8c8c8" stroke-width="0.8" />
<line x1="479.10" y1="519.00" x2="479.10" y2="514.50" stroke="#c8c8c8" stroke-width="0.8" />
<line x1="480.40" y1="519.00" x2="480.40" y2="514.50" stroke="#c8c8c8" stroke-width="0.8" />
<line x1="482.40" y1="519.00" x2="482.40" y2="514.50" stroke="#c8c8c8" stroke-width="0.8" />
<line x1="483.00" y1="519.00" x2="483.00" y2="514.50" stroke="#c8c8c8" stroke-width="0.8" />
<line x1="481.70" y1="519.00" x2="481.70" y2="514.50" stroke="#c8c8c8" stroke-width="0.8" />
<line x1="475.80" y1="519.00" x2="475.80" y2="514.50" stroke="#c8c8c8" stroke-width="0.8" />
<line x1="480.40" y1="519.00" x2="480.40" y2="514.50" stroke="#c8c8c8" stroke-width="0.8" />
<line x1="486.90" y1="519.00" x2="486.90" y2="514.50" stroke="#c8c8c8" stroke-width="0.8" />
<line x1="487.70" y1="519.00" x2="487.70" y2="514.50" stroke="#c8c8c8" stroke-width="0.8" />
<line x1="497.00" y1="519.00" x2="497.00" y2="514.50" stroke="#c8c8c8" stroke-width="0.8" />
<line x1="497.00" y1="519.00" x2="497.00" y2="514.50" stroke="#c8c8c8" stroke-width="0.8" />
<line x1="503.70" y1="519.00" x2="503.70" y2="514.50" stroke="#c8c8c8" stroke-width="0.8" />
<line x1="501.00" y1="519.00" x2="501.00" y2="514.50" stroke="#c8c8c8" stroke-width="0.8" />
<line x1="501.00" y1="519.00" x2="501.00" y2="514.50" stroke="#c8c8c8" stroke-width="0.8" />
<line x1="486.90" y1="519.00" x2="486.90" y2="514.50" stroke="#c8c8c8" stroke-width="0.8" />
<line x1="498.10" y1="519.00" x2="498.10" y2="514.50" stroke="#c8c8c8" stroke-width="0.8" />
<line x1="494.90" y1="519.00" x2="494.90" y2="514.50" stroke="#c8c8c8" stroke-width="0.8" />
<line x1="516.60" y1="519.00" x2="516.60" y2="514.50" stroke="#c8c8c8" stroke-width="0.8" />
<line x1="479.60" y1="519.00" x2="479.60" y2="514.50" stroke="#c8c8c8" stroke-width="0.8" />
<line x1="481.20" y1="519.00" x2="481.20" y2="514.50" stroke="#c8c8c8" stroke-width="0.8" />
<line x1="498.10" y1="519.00" x2="498.10" y2="514.50" stroke="#c8c8c8" stroke-width="0.8" />
<line x1="495.70" y1="519.00" x2="495.70" y2="514.50" stroke="#c8c8c8" stroke-width="0.8" />
<line x1="498.10" y1="519.00" x2="498.10" y2="514.50" stroke="#c8c8c8" stroke-width="0.8" />
<line x1="509.80" y1="519.00" x2="509.80" y2="514.50" stroke="#c8c8c8" stroke-width="0.8" />
<line x1="511.00" y1="519.00" x2="511.00" y2="514.50" stroke="#c8c8c8" stroke-width="0.8" />
<line x1="537.40" y1="519.00" x2="537.40" y2="514.50" stroke="#c8c8c8" stroke-width="0.8" />
<line x1="547.90" y1="519.00" x2="547.90" y2="514.50" stroke="#c8c8c8" stroke-width="0.8" />
<line x1="560.40" y1="519.00" x2="560.40" y2="514.50" stroke="#c8c8c8" stroke-width="0.8" />
<line x1="560.40" y1="519.00" x2="560.40" y2="514.50" stroke="#c8c8c8" stroke-width="0.8" />
<line x1="560.40" y1="519.00" x2="560.40" y2="514.50" stroke="#c8c8c8" stroke-width="0.8" />
<line x1="566.40" y1="519.00" x2="566.40" y2="514.50" stroke="#c8c8c8" stroke-width="0.8" />
<line x1="559.90" y1="519.00" x2="559.90" y2="514.50" stroke="#c8c8c8" stroke-width="0.8" />
<line x1="577.60" y1="519.00" x2="577.60" y2="514.50" stroke="#c8c8c8" stroke-width="0.8" />
<line x1="599.90" y1="519.00" x2="599.90" y2="514.50" stroke="#c8c8c8" stroke-width="0.8" />
<line x1="599.90" y1="519.00" x2="599.90" y2="514.50" stroke="#c8c8c8" stroke-width="0.8" />
<line x1="599.90" y1="519.00" x2="599.90" y2="514.50" stroke="#c8c8c8" stroke-width="0.8" />
<line x1="612.50" y1="519.00" x2="612.50" y2="514.50" stroke="#c8c8c8" stroke-width="0.8" />
<line x1="631.80" y1="519.00" x2="631.80" y2="514.50" stroke="#c8c8c8" stroke-width="0.8" />
<line x1="631.80" y1="519.00" x2="631.80" y2="514.50" stroke="#c8c8c8" stroke-width="0.8" />
<line x1="671.20" y1="519.00" x2="671.20" y2="514.50" stroke="#c8c8c8" stroke-width="0.8" />
<line x1="574.80" y1="519.00" x2="574.80" y2="514.50" stroke="#c8c8c8" stroke-width="0.8" />
<line x1="478.00" y1="519.00" x2="478.00" y2="514.50" stroke="#c8c8c8" stroke-width="0.8" />
<line x1="484.00" y1="519.00" x2="484.00" y2="514.50" stroke="#c8c8c8" stroke-width="0.8" />
<line x1="436.80" y1="519.00" x2="436.80" y2="514.50" stroke="#c8c8c8" stroke-width="0.8" />
<line x1="566.40" y1="519.00" x2="566.40" y2="514.50" stroke="#c8c8c8" stroke-width="0.8" />
<line x1="578.10" y1="519.00" x2="578.10" y2="514.50" stroke="#c8c8c8" stroke-width="0.8" />
<line x1="578.20" y1="519.00" x2="578.20" y2="514.50" stroke="#c8c8c8" stroke-width="0.8" />
<line x1="392.60" y1="415.00" x2="685.00" y2="415.00" stroke="#777" stroke-width="1.1" stroke-dasharray="4,3"/>
<circle cx="413.7" cy="325.3" r="3.1" fill="#8c5a00" fill-opacity="0.8"/>
<circle cx="444.9" cy="334.8" r="3.1" fill="#8c5a00" fill-opacity="0.8"/>
<circle cx="413.7" cy="355.9" r="3.1" fill="#8c5a00" fill-opacity="0.8"/>
<circle cx="464.6" cy="365.3" r="3.1" fill="#8c5a00" fill-opacity="0.8"/>
<circle cx="443.9" cy="371.5" r="3.1" fill="#8c5a00" fill-opacity="0.8"/>
<circle cx="413.7" cy="371.2" r="3.1" fill="#8c5a00" fill-opacity="0.8"/>
<circle cx="414.4" cy="373.9" r="3.1" fill="#8c5a00" fill-opacity="0.8"/>
<circle cx="419.3" cy="373.9" r="3.1" fill="#8c5a00" fill-opacity="0.8"/>
<circle cx="422.6" cy="374.5" r="3.1" fill="#8c5a00" fill-opacity="0.8"/>
<circle cx="426.5" cy="376.5" r="3.1" fill="#8c5a00" fill-opacity="0.8"/>
<circle cx="425.9" cy="380.4" r="3.1" fill="#8c5a00" fill-opacity="0.8"/>
<circle cx="414.7" cy="379.8" r="3.1" fill="#8c5a00" fill-opacity="0.8"/>
<circle cx="405.5" cy="384.4" r="3.1" fill="#8c5a00" fill-opacity="0.8"/>
<circle cx="416.0" cy="385.0" r="3.1" fill="#8c5a00" fill-opacity="0.8"/>
<circle cx="425.2" cy="385.0" r="3.1" fill="#8c5a00" fill-opacity="0.8"/>
<circle cx="432.4" cy="380.7" r="3.1" fill="#8c5a00" fill-opacity="0.8"/>
<circle cx="436.4" cy="383.1" r="3.1" fill="#8c5a00" fill-opacity="0.8"/>
<circle cx="433.8" cy="388.3" r="3.1" fill="#8c5a00" fill-opacity="0.8"/>
<circle cx="443.6" cy="387.7" r="3.1" fill="#8c5a00" fill-opacity="0.8"/>
<circle cx="444.9" cy="391.6" r="3.1" fill="#8c5a00" fill-opacity="0.8"/>
<circle cx="448.9" cy="392.3" r="3.1" fill="#8c5a00" fill-opacity="0.8"/>
<circle cx="426.5" cy="392.9" r="3.1" fill="#8c5a00" fill-opacity="0.8"/>
<circle cx="429.8" cy="395.5" r="3.1" fill="#8c5a00" fill-opacity="0.8"/>
<circle cx="435.1" cy="394.9" r="3.1" fill="#8c5a00" fill-opacity="0.8"/>
<circle cx="435.7" cy="398.8" r="3.1" fill="#8c5a00" fill-opacity="0.8"/>
<circle cx="439.0" cy="400.1" r="3.1" fill="#8c5a00" fill-opacity="0.8"/>
<circle cx="444.9" cy="397.5" r="3.1" fill="#8c5a00" fill-opacity="0.8"/>
<circle cx="447.6" cy="396.2" r="3.1" fill="#8c5a00" fill-opacity="0.8"/>
<circle cx="444.9" cy="401.5" r="3.1" fill="#8c5a00" fill-opacity="0.8"/>
<circle cx="448.9" cy="404.7" r="3.1" fill="#8c5a00" fill-opacity="0.8"/>
<circle cx="414.1" cy="400.8" r="3.1" fill="#8c5a00" fill-opacity="0.8"/>
<circle cx="419.3" cy="402.8" r="3.1" fill="#8c5a00" fill-opacity="0.8"/>
<circle cx="423.2" cy="402.1" r="3.1" fill="#8c5a00" fill-opacity="0.8"/>
<circle cx="405.5" cy="407.4" r="3.1" fill="#8c5a00" fill-opacity="0.8"/>
<circle cx="414.1" cy="409.3" r="3.1" fill="#8c5a00" fill-opacity="0.8"/>
<circle cx="471.9" cy="395.9" r="3.1" fill="#8c5a00" fill-opacity="0.8"/>
<circle cx="471.2" cy="409.3" r="3.1" fill="#8c5a00" fill-opacity="0.8"/>
<circle cx="422.6" cy="404.2" r="3.1" fill="#8c5a00" fill-opacity="0.8"/>
<circle cx="421.3" cy="412.1" r="3.1" fill="#8c5a00" fill-opacity="0.8"/>
<circle cx="422.6" cy="414.7" r="3.1" fill="#8c5a00" fill-opacity="0.8"/>
<circle cx="413.4" cy="418.4" r="3.1" fill="#8c5a00" fill-opacity="0.8"/>
<circle cx="421.9" cy="419.3" r="3.1" fill="#8c5a00" fill-opacity="0.8"/>
<circle cx="431.1" cy="410.1" r="3.1" fill="#8c5a00" fill-opacity="0.8"/>
<circle cx="434.4" cy="397.0" r="3.1" fill="#8c5a00" fill-opacity="0.8"/>
<circle cx="435.7" cy="418.7" r="3.1" fill="#8c5a00" fill-opacity="0.8"/>
<circle cx="437.7" cy="422.6" r="3.1" fill="#8c5a00" fill-opacity="0.8"/>
<circle cx="441.6" cy="420.0" r="3.1" fill="#8c5a00" fill-opacity="0.8"/>
<circle cx="442.3" cy="422.6" r="3.1" fill="#8c5a00" fill-opacity="0.8"/>
<circle cx="447.6" cy="417.3" r="3.1" fill="#8c5a00" fill-opacity="0.8"/>
<circle cx="471.9" cy="411.4" r="3.1" fill="#8c5a00" fill-opacity="0.8"/>
<circle cx="464.6" cy="429.4" r="3.1" fill="#8c5a00" fill-opacity="0.8"/>
<circle cx="409.5" cy="439.0" r="3.1" fill="#8c5a00" fill-opacity="0.8"/>
<circle cx="448.9" cy="447.3" r="3.1" fill="#8c5a00" fill-opacity="0.8"/>
<circle cx="448.9" cy="452.5" r="3.1" fill="#8c5a00" fill-opacity="0.8"/>
<circle cx="448.9" cy="460.7" r="3.1" fill="#8c5a00" fill-opacity="0.8"/>
<circle cx="448.9" cy="466.6" r="3.1" fill="#8c5a00" fill-opacity="0.8"/>
<circle cx="461.7" cy="458.7" r="3.1" fill="#8c5a00" fill-opacity="0.8"/>
<circle cx="448.9" cy="480.4" r="3.1" fill="#8c5a00" fill-opacity="0.8"/>
<circle cx="428.0" cy="405.0" r="3.1" fill="#8c5a00" fill-opacity="0.8"/>
<circle cx="432.0" cy="403.0" r="3.1" fill="#8c5a00" fill-opacity="0.8"/>
<circle cx="440.0" cy="412.0" r="3.1" fill="#8c5a00" fill-opacity="0.8"/>
<circle cx="426.0" cy="398.0" r="3.1" fill="#8c5a00" fill-opacity="0.8"/>
<circle cx="417.0" cy="389.0" r="3.1" fill="#8c5a00" fill-opacity="0.8"/>
<circle cx="410.0" cy="392.0" r="3.1" fill="#8c5a00" fill-opacity="0.8"/>
<circle cx="431.0" cy="391.0" r="3.1" fill="#8c5a00" fill-opacity="0.8"/>
<circle cx="477.8" cy="368.6" r="3.1" fill="#3c8c6e" fill-opacity="0.8"/>
<circle cx="477.8" cy="377.2" r="3.1" fill="#3c8c6e" fill-opacity="0.8"/>
<circle cx="479.1" cy="383.1" r="3.1" fill="#3c8c6e" fill-opacity="0.8"/>
<circle cx="477.8" cy="389.0" r="3.1" fill="#3c8c6e" fill-opacity="0.8"/>
<circle cx="484.3" cy="383.7" r="3.1" fill="#3c8c6e" fill-opacity="0.8"/>
<circle cx="478.4" cy="400.1" r="3.1" fill="#3c8c6e" fill-opacity="0.8"/>
<circle cx="482.4" cy="402.9" r="3.1" fill="#3c8c6e" fill-opacity="0.8"/>
<circle cx="479.1" cy="409.5" r="3.1" fill="#3c8c6e" fill-opacity="0.8"/>
<circle cx="480.4" cy="418.7" r="3.1" fill="#3c8c6e" fill-opacity="0.8"/>
<circle cx="482.4" cy="423.2" r="3.1" fill="#3c8c6e" fill-opacity="0.8"/>
<circle cx="483.0" cy="431.8" r="3.1" fill="#3c8c6e" fill-opacity="0.8"/>
<circle cx="481.7" cy="437.0" r="3.1" fill="#3c8c6e" fill-opacity="0.8"/>
<circle cx="475.8" cy="435.7" r="3.1" fill="#3c8c6e" fill-opacity="0.8"/>
<circle cx="480.4" cy="443.0" r="3.1" fill="#3c8c6e" fill-opacity="0.8"/>
<circle cx="486.9" cy="383.0" r="3.1" fill="#3c8c6e" fill-opacity="0.8"/>
<circle cx="487.7" cy="395.5" r="3.1" fill="#3c8c6e" fill-opacity="0.8"/>
<circle cx="497.0" cy="364.0" r="3.1" fill="#3c8c6e" fill-opacity="0.8"/>
<circle cx="497.0" cy="367.7" r="3.1" fill="#3c8c6e" fill-opacity="0.8"/>
<circle cx="503.7" cy="368.2" r="3.1" fill="#3c8c6e" fill-opacity="0.8"/>
<circle cx="501.0" cy="378.2" r="3.1" fill="#3c8c6e" fill-opacity="0.8"/>
<circle cx="501.0" cy="382.7" r="3.1" fill="#3c8c6e" fill-opacity="0.8"/>
<circle cx="486.9" cy="401.5" r="3.1" fill="#3c8c6e" fill-opacity="0.8"/>
<circle cx="498.1" cy="400.2" r="3.1" fill="#3c8c6e" fill-opacity="0.8"/>
<circle cx="494.9" cy="403.9" r="3.1" fill="#3c8c6e" fill-opacity="0.8"/>
<circle cx="516.6" cy="404.7" r="3.1" fill="#3c8c6e" fill-opacity="0.8"/>
<circle cx="479.6" cy="416.7" r="3.1" fill="#3c8c6e" fill-opacity="0.8"/>
<circle cx="481.2" cy="420.7" r="3.1" fill="#3c8c6e" fill-opacity="0.8"/>
<circle cx="498.1" cy="413.5" r="3.1" fill="#3c8c6e" fill-opacity="0.8"/>
<circle cx="495.7" cy="419.1" r="3.1" fill="#3c8c6e" fill-opacity="0.8"/>
<circle cx="498.1" cy="423.1" r="3.1" fill="#3c8c6e" fill-opacity="0.8"/>
<circle cx="509.8" cy="418.8" r="3.1" fill="#3c8c6e" fill-opacity="0.8"/>
<circle cx="511.0" cy="435.2" r="3.1" fill="#3c8c6e" fill-opacity="0.8"/>
<circle cx="537.4" cy="419.1" r="3.1" fill="#3c8c6e" fill-opacity="0.8"/>
<circle cx="547.9" cy="417.5" r="3.1" fill="#3c8c6e" fill-opacity="0.8"/>
<circle cx="560.4" cy="396.2" r="3.1" fill="#3c8c6e" fill-opacity="0.8"/>
<circle cx="560.4" cy="403.9" r="3.1" fill="#3c8c6e" fill-opacity="0.8"/>
<circle cx="560.4" cy="406.8" r="3.1" fill="#3c8c6e" fill-opacity="0.8"/>
<circle cx="566.4" cy="403.6" r="3.1" fill="#3c8c6e" fill-opacity="0.8"/>
<circle cx="559.9" cy="415.1" r="3.1" fill="#3c8c6e" fill-opacity="0.8"/>
<circle cx="577.6" cy="411.1" r="3.1" fill="#3c8c6e" fill-opacity="0.8"/>
<circle cx="599.9" cy="405.3" r="3.1" fill="#3c8c6e" fill-opacity="0.8"/>
<circle cx="599.9" cy="410.3" r="3.1" fill="#3c8c6e" fill-opacity="0.8"/>
<circle cx="599.9" cy="417.8" r="3.1" fill="#3c8c6e" fill-opacity="0.8"/>
<circle cx="612.5" cy="411.1" r="3.1" fill="#3c8c6e" fill-opacity="0.8"/>
<circle cx="631.8" cy="415.0" r="3.1" fill="#3c8c6e" fill-opacity="0.8"/>
<circle cx="631.8" cy="426.7" r="3.1" fill="#3c8c6e" fill-opacity="0.8"/>
<circle cx="671.2" cy="415.7" r="3.1" fill="#3c8c6e" fill-opacity="0.8"/>
<circle cx="574.8" cy="471.6" r="3.1" fill="#3c8c6e" fill-opacity="0.8"/>
<circle cx="478.0" cy="428.0" r="3.1" fill="#3c8c6e" fill-opacity="0.8"/>
<circle cx="484.0" cy="414.0" r="3.1" fill="#3c8c6e" fill-opacity="0.8"/>
<circle cx="436.8" cy="446.2" r="3.9" fill="#8c5a00" fill-opacity="0.8"/>
<circle cx="566.4" cy="422.3" r="3.8" fill="#3c8c6e" fill-opacity="0.8"/>
<circle cx="578.1" cy="410.8" r="3.9" fill="#3c8c6e" fill-opacity="0.8"/>
<circle cx="578.2" cy="454.1" r="3.9" fill="#3c8c6e" fill-opacity="0.8"/>
<path d="M405.5,374.7 L408.2,377.4 L411.0,380.0 L413.8,382.6 L416.5,385.2 L419.2,387.7 L422.0,390.2 L424.8,392.7 L427.5,395.1 L430.2,397.4 L433.0,399.6 L435.8,401.7 L438.5,403.5 L441.2,405.0 L444.0,406.2 L446.8,407.1 L449.5,407.9 L452.2,408.6 L455.0,409.3 L457.8,409.9 L460.5,410.5 L463.2,411.0 L466.0,411.6 L468.8,412.1 L471.5,412.7 L471.5,444.5 L468.8,441.5 L466.0,438.6 L463.2,435.6 L460.5,432.7 L457.8,429.7 L455.0,426.8 L452.2,424.0 L449.5,421.2 L446.8,418.4 L444.0,415.9 L441.2,413.5 L438.5,411.5 L435.8,409.8 L433.0,408.3 L430.2,407.0 L427.5,405.8 L424.8,404.7 L422.0,403.7 L419.2,402.7 L416.5,401.7 L413.8,400.8 L411.0,399.9 L408.2,399.0 L405.5,398.1Z M476.5,401.8 L481.4,402.2 L486.2,402.6 L491.1,403.0 L495.9,403.4 L500.8,403.8 L505.6,404.2 L510.5,404.5 L515.3,404.8 L520.2,405.1 L525.0,405.3 L529.9,405.5 L534.8,405.7 L539.6,405.8 L544.5,406.0 L549.3,406.1 L554.2,406.2 L559.0,406.3 L563.9,406.4 L568.7,406.4 L573.6,406.5 L578.5,406.6 L583.3,406.6 L588.2,406.7 L593.0,406.7 L597.9,406.7 L602.7,406.8 L607.6,406.8 L612.4,406.8 L617.3,406.8 L622.2,406.9 L627.0,406.9 L631.9,406.9 L636.7,406.9 L641.6,406.9 L646.4,406.9 L651.3,406.9 L656.1,406.9 L661.0,406.9 L665.8,406.9 L670.7,406.9 L670.7,437.5 L665.8,436.7 L661.0,435.9 L656.1,435.1 L651.3,434.3 L646.4,433.5 L641.6,432.7 L636.7,431.9 L631.9,431.2 L627.0,430.4 L622.2,429.6 L617.3,428.8 L612.4,428.0 L607.6,427.3 L602.7,426.5 L597.9,425.7 L593.0,425.0 L588.2,424.2 L583.3,423.5 L578.5,422.7 L573.6,422.0 L568.7,421.3 L563.9,420.5 L559.0,419.8 L554.2,419.1 L549.3,418.4 L544.5,417.8 L539.6,417.1 L534.8,416.5 L529.9,415.8 L525.0,415.3 L520.2,414.7 L515.3,414.2 L510.5,413.7 L505.6,413.2 L500.8,412.8 L495.9,412.4 L491.1,412.0 L486.2,411.6 L481.4,411.2 L476.5,410.8Z" fill="#999" fill-opacity="0.4"/>
<path d="M405.5,386.4 L471.2,428.9" fill="none" stroke="#144bbe" stroke-width="2.6"/>
<path d="M476.4,406.3 L670.5,422.3" fill="none" stroke="#144bbe" stroke-width="2.6" stroke-dasharray="34.4,15"/>
<path d="M405.5,388.5 C406.9,389.2 411.1,391.3 414.0,392.8 C416.9,394.3 420.0,396.0 423.0,397.7 C426.0,399.4 428.9,401.3 432.0,403.0 C435.1,404.7 438.6,406.8 441.6,408.1 C444.6,409.4 447.0,410.1 450.0,410.8 C453.0,411.5 456.1,412.0 459.4,412.1 C462.7,412.2 466.5,411.9 470.0,411.6 C473.5,411.3 477.2,410.7 480.4,410.3 C483.6,409.9 485.9,409.4 489.0,409.0 C492.1,408.6 495.6,408.1 498.9,407.9 C502.2,407.7 505.5,407.7 509.0,407.7 C512.5,407.7 516.5,407.6 519.8,407.9 C523.1,408.2 525.8,408.8 529.0,409.3 C532.2,409.8 535.7,410.4 539.0,410.8 C542.3,411.2 545.5,411.6 549.0,412.0 C552.5,412.4 556.8,413.0 560.0,413.5 C563.2,414.0 565.1,414.5 568.0,415.0 C570.9,415.5 574.3,416.4 577.6,416.7 C580.9,417.0 584.5,416.9 588.0,417.0 C591.5,417.1 595.2,417.2 598.5,417.3 C601.8,417.4 604.8,417.7 608.0,417.8 C611.2,417.9 614.5,418.1 617.8,418.2 C621.1,418.3 624.6,418.3 628.0,418.3 C631.4,418.3 634.7,418.3 638.0,418.3 C641.3,418.3 644.8,418.4 648.0,418.5 C651.2,418.6 655.8,418.7 657.3,418.7" fill="none" stroke="#000" stroke-width="3.2" stroke-dasharray="19.5,19.8"/>
<line x1="476.35" y1="270.00" x2="476.35" y2="519.50" stroke="#8b0000" stroke-width="2.9" stroke-dasharray="14.6,10.26" stroke-dashoffset="14.5" stroke-linecap="round"/>
<line x1="392.60" y1="270.00" x2="392.60" y2="520.00" stroke="#000" stroke-width="1.1" />
<line x1="392.10" y1="519.50" x2="685.00" y2="519.50" stroke="#000" stroke-width="1.1" />
<line x1="389.80" y1="282.07" x2="392.60" y2="282.07" stroke="#333" stroke-width="1" />
<text x="387.3" y="288.0" font-size="15" text-anchor="end" fill="#000" >1.0</text>
<line x1="389.80" y1="348.53" x2="392.60" y2="348.53" stroke="#333" stroke-width="1" />
<text x="387.3" y="354.4" font-size="15" text-anchor="end" fill="#000" >0.5</text>
<line x1="389.80" y1="415.00" x2="392.60" y2="415.00" stroke="#333" stroke-width="1" />
<text x="387.3" y="420.9" font-size="15" text-anchor="end" fill="#000" >0.0</text>
<line x1="389.80" y1="481.47" x2="392.60" y2="481.47" stroke="#333" stroke-width="1" />
<text x="387.3" y="487.4" font-size="15" text-anchor="end" fill="#000" >-0.5</text>
<line x1="453.60" y1="519.50" x2="453.60" y2="522.30" stroke="#333" stroke-width="1" />
<text x="453.6" y="535.8" font-size="15" text-anchor="middle" fill="#000" >10</text>
<line x1="524.70" y1="519.50" x2="524.70" y2="522.30" stroke="#333" stroke-width="1" />
<text x="524.7" y="535.8" font-size="15" text-anchor="middle" fill="#000" >20</text>
<line x1="595.80" y1="519.50" x2="595.80" y2="522.30" stroke="#333" stroke-width="1" />
<text x="595.8" y="535.8" font-size="15" text-anchor="middle" fill="#000" >30</text>
<line x1="666.90" y1="519.50" x2="666.90" y2="522.30" stroke="#333" stroke-width="1" />
<text x="666.9" y="535.8" font-size="15" text-anchor="middle" fill="#000" >40</text>
<text x="1.5" y="285.5" font-size="27" text-anchor="start" fill="#000" >b</text>
<text x="342.0" y="285.5" font-size="27" text-anchor="start" fill="#000" >c</text>
<text x="15.6" y="395.2" font-size="16.7" text-anchor="middle" transform="rotate(-90 15.6 395.2)">RR of POC</text>
<text x="355.6" y="394.7" font-size="16.7" text-anchor="middle" transform="rotate(-90 355.6 394.7)">RR of MAOC</text>
<text x="87.8" y="554.7" font-size="16.2">Initial SOC content (g kg<tspan font-size="11" dy="-6">-1</tspan><tspan dy="6">)</tspan></text>
<text x="442.0" y="554.7" font-size="16.2">Initial SOC content (g kg<tspan font-size="11" dy="-6">-1</tspan><tspan dy="6">)</tspan></text>
<circle cx="559.7" cy="489.7" r="6" fill="#8c5a00" stroke="#000" stroke-width="1"/>
<circle cx="559.7" cy="505.2" r="6" fill="#3c8c6e" stroke="#000" stroke-width="1"/>
<text x="575.7" y="495.0" font-size="14.5" text-anchor="start" fill="#000" >Before threshold</text>
<text x="574.6" y="510.8" font-size="14.5" text-anchor="start" fill="#000" >After threshold</text>
<line x1="229.20" y1="287.70" x2="231.60" y2="287.70" stroke="#333" stroke-width="0.8" />
<text x="226.0" y="290.7" font-size="8.3" text-anchor="end" fill="#222" >0.04</text>
<line x1="229.20" y1="309.40" x2="231.60" y2="309.40" stroke="#333" stroke-width="0.8" />
<text x="226.0" y="312.4" font-size="8.3" text-anchor="end" fill="#222" >0.02</text>
<line x1="229.20" y1="331.30" x2="231.60" y2="331.30" stroke="#333" stroke-width="0.8" />
<text x="226.0" y="334.3" font-size="8.3" text-anchor="end" fill="#222" >0.00</text>
<line x1="231.60" y1="275.30" x2="231.60" y2="350.60" stroke="#000" stroke-width="1" />
<line x1="231.20" y1="350.20" x2="316.00" y2="350.20" stroke="#000" stroke-width="1" />
<line x1="273.70" y1="350.20" x2="273.70" y2="352.60" stroke="#333" stroke-width="0.8" />
<path d="M273.7,278.9 C273,284 268,289 258,292 C252,294 254,296 260,298 C268,302 272,308 273.3,314 L273.7,317 Z" fill="#8c5a00" stroke="#333" stroke-width="0.9"/>
<path d="M273.7,324 C276,327 283,331 295,333 C305,334.2 307,334.8 300,336 C288,338 281,341 276,344 C274.5,345.5 274,347 273.7,347.6 Z" fill="#3c8c6e" stroke="#333" stroke-width="0.9"/>
<text x="281" y="318.6" font-size="11"><tspan font-style="italic">P</tspan> &lt; 0.001</text>
<text x="274.5" y="363.7" font-size="10.3" text-anchor="middle" fill="#a50f15">Threshold = 14.8</text>
<text font-size="9.5" text-anchor="middle" transform="translate(192.6 312.8) rotate(-90)"><tspan x="0" y="0">Changing rate</tspan><tspan x="0" y="11.9">of POC</tspan></text>
<line x1="578.50" y1="280.10" x2="580.90" y2="280.10" stroke="#333" stroke-width="0.8" />
<text x="575.3" y="283.1" font-size="8.3" text-anchor="end" fill="#222" >0.00</text>
<line x1="578.50" y1="298.10" x2="580.90" y2="298.10" stroke="#333" stroke-width="0.8" />
<text x="575.3" y="301.1" font-size="8.3" text-anchor="end" fill="#222" >-0.02</text>
<line x1="578.50" y1="316.20" x2="580.90" y2="316.20" stroke="#333" stroke-width="0.8" />
<text x="575.3" y="319.2" font-size="8.3" text-anchor="end" fill="#222" >-0.04</text>
<line x1="578.50" y1="334.30" x2="580.90" y2="334.30" stroke="#333" stroke-width="0.8" />
<text x="575.3" y="337.3" font-size="8.3" text-anchor="end" fill="#222" >-0.06</text>
<line x1="580.90" y1="275.20" x2="580.90" y2="350.30" stroke="#000" stroke-width="1" />
<line x1="580.50" y1="349.90" x2="662.10" y2="349.90" stroke="#000" stroke-width="1" />
<line x1="621.20" y1="349.90" x2="621.20" y2="352.30" stroke="#333" stroke-width="0.8" />
<path d="M621.2,278.9 C624,281 632,282.5 645,283.5 C651,283.8 653,284.2 648,285 C636,286.5 627,287.5 621.2,289 Z" fill="#3c8c6e" stroke="#333" stroke-width="0.9"/>
<path d="M621.2,289 C620,296 616,302 615.8,307.8 C616,314 619.5,322 620.6,332 C621,338 621.2,344 621.2,347.5 Z" fill="#8c5a00" stroke="#333" stroke-width="0.9"/>
<text x="628.9" y="306.6" font-size="11"><tspan font-style="italic">P</tspan> &lt; 0.001</text>
<text x="622" y="363.2" font-size="10.3" text-anchor="middle" fill="#a50f15">Threshold = 13.2</text>
<text font-size="9.5" text-anchor="middle" transform="translate(534.6 312.6) rotate(-90)"><tspan x="0" y="0">Changing rate</tspan><tspan x="0" y="11.6">of MAOC</tspan></text>
<circle cx="107.8" cy="616.7" r="2.6" fill="#93600a" fill-opacity="0.6" stroke="#93600a" stroke-opacity="0.45" stroke-width="0.7"/>
<circle cx="108.2" cy="619.7" r="2.6" fill="#93600a" fill-opacity="0.6" stroke="#93600a" stroke-opacity="0.45" stroke-width="0.7"/>
<circle cx="108.0" cy="623.1" r="2.6" fill="#93600a" fill-opacity="0.6" stroke="#93600a" stroke-opacity="0.45" stroke-width="0.7"/>
<circle cx="107.5" cy="626.4" r="2.6" fill="#93600a" fill-opacity="0.6" stroke="#93600a" stroke-opacity="0.45" stroke-width="0.7"/>
<circle cx="107.4" cy="629.4" r="2.6" fill="#93600a" fill-opacity="0.6" stroke="#93600a" stroke-opacity="0.45" stroke-width="0.7"/>
<circle cx="110.8" cy="617.6" r="2.6" fill="#93600a" fill-opacity="0.6" stroke="#93600a" stroke-opacity="0.45" stroke-width="0.7"/>
<circle cx="111.2" cy="621.6" r="2.6" fill="#93600a" fill-opacity="0.6" stroke="#93600a" stroke-opacity="0.45" stroke-width="0.7"/>
<circle cx="110.8" cy="624.0" r="2.6" fill="#93600a" fill-opacity="0.6" stroke="#93600a" stroke-opacity="0.45" stroke-width="0.7"/>
<circle cx="111.5" cy="627.9" r="2.6" fill="#93600a" fill-opacity="0.6" stroke="#93600a" stroke-opacity="0.45" stroke-width="0.7"/>
<circle cx="111.4" cy="630.4" r="2.6" fill="#93600a" fill-opacity="0.6" stroke="#93600a" stroke-opacity="0.45" stroke-width="0.7"/>
<circle cx="115.2" cy="614.2" r="2.6" fill="#93600a" fill-opacity="0.6" stroke="#93600a" stroke-opacity="0.45" stroke-width="0.7"/>
<circle cx="115.0" cy="617.6" r="2.6" fill="#93600a" fill-opacity="0.6" stroke="#93600a" stroke-opacity="0.45" stroke-width="0.7"/>
<circle cx="114.2" cy="620.5" r="2.6" fill="#93600a" fill-opacity="0.6" stroke="#93600a" stroke-opacity="0.45" stroke-width="0.7"/>
<circle cx="114.4" cy="624.4" r="2.6" fill="#93600a" fill-opacity="0.6" stroke="#93600a" stroke-opacity="0.45" stroke-width="0.7"/>
<circle cx="114.2" cy="627.2" r="2.6" fill="#93600a" fill-opacity="0.6" stroke="#93600a" stroke-opacity="0.45" stroke-width="0.7"/>
<circle cx="114.8" cy="630.1" r="2.6" fill="#93600a" fill-opacity="0.6" stroke="#93600a" stroke-opacity="0.45" stroke-width="0.7"/>
<circle cx="118.0" cy="611.5" r="2.6" fill="#93600a" fill-opacity="0.6" stroke="#93600a" stroke-opacity="0.45" stroke-width="0.7"/>
<circle cx="117.4" cy="614.8" r="2.6" fill="#93600a" fill-opacity="0.6" stroke="#93600a" stroke-opacity="0.45" stroke-width="0.7"/>
<circle cx="118.1" cy="618.1" r="2.6" fill="#93600a" fill-opacity="0.6" stroke="#93600a" stroke-opacity="0.45" stroke-width="0.7"/>
<circle cx="117.7" cy="621.4" r="2.6" fill="#93600a" fill-opacity="0.6" stroke="#93600a" stroke-opacity="0.45" stroke-width="0.7"/>
<circle cx="117.8" cy="624.2" r="2.6" fill="#93600a" fill-opacity="0.6" stroke="#93600a" stroke-opacity="0.45" stroke-width="0.7"/>
<circle cx="118.3" cy="627.7" r="2.6" fill="#93600a" fill-opacity="0.6" stroke="#93600a" stroke-opacity="0.45" stroke-width="0.7"/>
<circle cx="117.6" cy="630.7" r="2.6" fill="#93600a" fill-opacity="0.6" stroke="#93600a" stroke-opacity="0.45" stroke-width="0.7"/>
<circle cx="117.9" cy="634.2" r="2.6" fill="#93600a" fill-opacity="0.6" stroke="#93600a" stroke-opacity="0.45" stroke-width="0.7"/>
<circle cx="121.5" cy="608.2" r="2.6" fill="#93600a" fill-opacity="0.6" stroke="#93600a" stroke-opacity="0.45" stroke-width="0.7"/>
<circle cx="121.8" cy="611.1" r="2.6" fill="#93600a" fill-opacity="0.6" stroke="#93600a" stroke-opacity="0.45" stroke-width="0.7"/>
<circle cx="121.1" cy="615.0" r="2.6" fill="#93600a" fill-opacity="0.6" stroke="#93600a" stroke-opacity="0.45" stroke-width="0.7"/>
<circle cx="120.8" cy="617.8" r="2.6" fill="#93600a" fill-opacity="0.6" stroke="#93600a" stroke-opacity="0.45" stroke-width="0.7"/>
<circle cx="120.6" cy="621.1" r="2.6" fill="#93600a" fill-opacity="0.6" stroke="#93600a" stroke-opacity="0.45" stroke-width="0.7"/>
<circle cx="121.5" cy="624.1" r="2.6" fill="#93600a" fill-opacity="0.6" stroke="#93600a" stroke-opacity="0.45" stroke-width="0.7"/>
<circle cx="121.7" cy="626.9" r="2.6" fill="#93600a" fill-opacity="0.6" stroke="#93600a" stroke-opacity="0.45" stroke-width="0.7"/>
<circle cx="121.4" cy="630.3" r="2.6" fill="#93600a" fill-opacity="0.6" stroke="#93600a" stroke-opacity="0.45" stroke-width="0.7"/>
<circle cx="121.3" cy="633.2" r="2.6" fill="#93600a" fill-opacity="0.6" stroke="#93600a" stroke-opacity="0.45" stroke-width="0.7"/>
<circle cx="121.6" cy="636.9" r="2.6" fill="#93600a" fill-opacity="0.6" stroke="#93600a" stroke-opacity="0.45" stroke-width="0.7"/>
<circle cx="124.5" cy="608.2" r="2.6" fill="#93600a" fill-opacity="0.6" stroke="#93600a" stroke-opacity="0.45" stroke-width="0.7"/>
<circle cx="124.0" cy="611.3" r="2.6" fill="#93600a" fill-opacity="0.6" stroke="#93600a" stroke-opacity="0.45" stroke-width="0.7"/>
<circle cx="124.7" cy="614.8" r="2.6" fill="#93600a" fill-opacity="0.6" stroke="#93600a" stroke-opacity="0.45" stroke-width="0.7"/>
<circle cx="124.9" cy="617.0" r="2.6" fill="#93600a" fill-opacity="0.6" stroke="#93600a" stroke-opacity="0.45" stroke-width="0.7"/>
<circle cx="124.4" cy="620.6" r="2.6" fill="#93600a" fill-opacity="0.6" stroke="#93600a" stroke-opacity="0.45" stroke-width="0.7"/>
<circle cx="123.9" cy="623.4" r="2.6" fill="#93600a" fill-opacity="0.6" stroke="#93600a" stroke-opacity="0.45" stroke-width="0.7"/>
<circle cx="124.1" cy="626.1" r="2.6" fill="#93600a" fill-opacity="0.6" stroke="#93600a" stroke-opacity="0.45" stroke-width="0.7"/>
<circle cx="124.0" cy="630.0" r="2.6" fill="#93600a" fill-opacity="0.6" stroke="#93600a" stroke-opacity="0.45" stroke-width="0.7"/>
<circle cx="124.1" cy="632.5" r="2.6" fill="#93600a" fill-opacity="0.6" stroke="#93600a" stroke-opacity="0.45" stroke-width="0.7"/>
<circle cx="124.4" cy="636.3" r="2.6" fill="#93600a" fill-opacity="0.6" stroke="#93600a" stroke-opacity="0.45" stroke-width="0.7"/>
<circle cx="124.0" cy="638.9" r="2.6" fill="#93600a" fill-opacity="0.6" stroke="#93600a" stroke-opacity="0.45" stroke-width="0.7"/>
<circle cx="127.9" cy="596.4" r="2.6" fill="#93600a" fill-opacity="0.6" stroke="#93600a" stroke-opacity="0.45" stroke-width="0.7"/>
<circle cx="128.2" cy="599.5" r="2.6" fill="#93600a" fill-opacity="0.6" stroke="#93600a" stroke-opacity="0.45" stroke-width="0.7"/>
<circle cx="127.5" cy="602.0" r="2.6" fill="#93600a" fill-opacity="0.6" stroke="#93600a" stroke-opacity="0.45" stroke-width="0.7"/>
<circle cx="127.6" cy="605.7" r="2.6" fill="#93600a" fill-opacity="0.6" stroke="#93600a" stroke-opacity="0.45" stroke-width="0.7"/>
<circle cx="128.3" cy="607.9" r="2.6" fill="#93600a" fill-opacity="0.6" stroke="#93600a" stroke-opacity="0.45" stroke-width="0.7"/>
<circle cx="127.4" cy="611.1" r="2.6" fill="#93600a" fill-opacity="0.6" stroke="#93600a" stroke-opacity="0.45" stroke-width="0.7"/>
<circle cx="127.5" cy="614.5" r="2.6" fill="#93600a" fill-opacity="0.6" stroke="#93600a" stroke-opacity="0.45" stroke-width="0.7"/>
<circle cx="127.9" cy="617.4" r="2.6" fill="#93600a" fill-opacity="0.6" stroke="#93600a" stroke-opacity="0.45" stroke-width="0.7"/>
<circle cx="127.2" cy="620.6" r="2.6" fill="#93600a" fill-opacity="0.6" stroke="#93600a" stroke-opacity="0.45" stroke-width="0.7"/>
<circle cx="127.6" cy="623.9" r="2.6" fill="#93600a" fill-opacity="0.6" stroke="#93600a" stroke-opacity="0.45" stroke-width="0.7"/>
<circle cx="128.3" cy="627.2" r="2.6" fill="#93600a" fill-opacity="0.6" stroke="#93600a" stroke-opacity="0.45" stroke-width="0.7"/>
<circle cx="127.8" cy="630.2" r="2.6" fill="#93600a" fill-opacity="0.6" stroke="#93600a" stroke-opacity="0.45" stroke-width="0.7"/>
<circle cx="128.0" cy="632.6" r="2.6" fill="#93600a" fill-opacity="0.6" stroke="#93600a" stroke-opacity="0.45" stroke-width="0.7"/>
<circle cx="128.3" cy="636.6" r="2.6" fill="#93600a" fill-opacity="0.6" stroke="#93600a" stroke-opacity="0.45" stroke-width="0.7"/>
<circle cx="128.2" cy="639.7" r="2.6" fill="#93600a" fill-opacity="0.6" stroke="#93600a" stroke-opacity="0.45" stroke-width="0.7"/>
<circle cx="127.7" cy="642.3" r="2.6" fill="#93600a" fill-opacity="0.6" stroke="#93600a" stroke-opacity="0.45" stroke-width="0.7"/>
<circle cx="127.3" cy="645.7" r="2.6" fill="#93600a" fill-opacity="0.6" stroke="#93600a" stroke-opacity="0.45" stroke-width="0.7"/>
<circle cx="127.3" cy="648.1" r="2.6" fill="#93600a" fill-opacity="0.6" stroke="#93600a" stroke-opacity="0.45" stroke-width="0.7"/>
<circle cx="130.8" cy="591.7" r="2.6" fill="#93600a" fill-opacity="0.6" stroke="#93600a" stroke-opacity="0.45" stroke-width="0.7"/>
<circle cx="130.9" cy="594.7" r="2.6" fill="#93600a" fill-opacity="0.6" stroke="#93600a" stroke-opacity="0.45" stroke-width="0.7"/>
<circle cx="130.5" cy="597.9" r="2.6" fill="#93600a" fill-opacity="0.6" stroke="#93600a" stroke-opacity="0.45" stroke-width="0.7"/>
<circle cx="130.6" cy="601.2" r="2.6" fill="#93600a" fill-opacity="0.6" stroke="#93600a" stroke-opacity="0.45" stroke-width="0.7"/>
<circle cx="130.5" cy="604.9" r="2.6" fill="#93600a" fill-opacity="0.6" stroke="#93600a" stroke-opacity="0.45" stroke-width="0.7"/>
<circle cx="131.2" cy="607.2" r="2.6" fill="#93600a" fill-opacity="0.6" stroke="#93600a" stroke-opacity="0.45" stroke-width="0.7"/>
<circle cx="130.8" cy="610.5" r="2.6" fill="#93600a" fill-opacity="0.6" stroke="#93600a" stroke-opacity="0.45" stroke-width="0.7"/>
<circle cx="130.9" cy="613.3" r="2.6" fill="#93600a" fill-opacity="0.6" stroke="#93600a" stroke-opacity="0.45" stroke-width="0.7"/>
<circle cx="131.5" cy="617.5" r="2.6" fill="#93600a" fill-opacity="0.6" stroke="#93600a" stroke-opacity="0.45" stroke-width="0.7"/>
<circle cx="131.1" cy="620.0" r="2.6" fill="#93600a" fill-opacity="0.6" stroke="#93600a" stroke-opacity="0.45" stroke-width="0.7"/>
<circle cx="130.6" cy="622.6" r="2.6" fill="#93600a" fill-opacity="0.6" stroke="#93600a" stroke-opacity="0.45" stroke-width="0.7"/>
<circle cx="130.9" cy="625.9" r="2.6" fill="#93600a" fill-opacity="0.6" stroke="#93600a" stroke-opacity="0.45" stroke-width="0.7"/>
<circle cx="131.5" cy="628.9" r="2.6" fill="#93600a" fill-opacity="0.6" stroke="#93600a" stroke-opacity="0.45" stroke-width="0.7"/>
<circle cx="130.5" cy="632.9" r="2.6" fill="#93600a" fill-opacity="0.6" stroke="#93600a" stroke-opacity="0.45" stroke-width="0.7"/>
<circle cx="131.1" cy="635.1" r="2.6" fill="#93600a" fill-opacity="0.6" stroke="#93600a" stroke-opacity="0.45" stroke-width="0.7"/>
<circle cx="131.2" cy="638.0" r="2.6" fill="#93600a" fill-opacity="0.6" stroke="#93600a" stroke-opacity="0.45" stroke-width="0.7"/>
<circle cx="131.1" cy="642.3" r="2.6" fill="#93600a" fill-opacity="0.6" stroke="#93600a" stroke-opacity="0.45" stroke-width="0.7"/>
<circle cx="131.5" cy="645.0" r="2.6" fill="#93600a" fill-opacity="0.6" stroke="#93600a" stroke-opacity="0.45" stroke-width="0.7"/>
<circle cx="130.8" cy="647.7" r="2.6" fill="#93600a" fill-opacity="0.6" stroke="#93600a" stroke-opacity="0.45" stroke-width="0.7"/>
<circle cx="130.7" cy="651.3" r="2.6" fill="#93600a" fill-opacity="0.6" stroke="#93600a" stroke-opacity="0.45" stroke-width="0.7"/>
<circle cx="131.1" cy="654.4" r="2.6" fill="#93600a" fill-opacity="0.6" stroke="#93600a" stroke-opacity="0.45" stroke-width="0.7"/>
<circle cx="134.2" cy="588.6" r="2.6" fill="#93600a" fill-opacity="0.6" stroke="#93600a" stroke-opacity="0.45" stroke-width="0.7"/>
<circle cx="134.8" cy="592.6" r="2.6" fill="#93600a" fill-opacity="0.6" stroke="#93600a" stroke-opacity="0.45" stroke-width="0.7"/>
<circle cx="134.8" cy="595.5" r="2.6" fill="#93600a" fill-opacity="0.6" stroke="#93600a" stroke-opacity="0.45" stroke-width="0.7"/>
<circle cx="134.8" cy="598.5" r="2.6" fill="#93600a" fill-opacity="0.6" stroke="#93600a" stroke-opacity="0.45" stroke-width="0.7"/>
<circle cx="134.1" cy="601.4" r="2.6" fill="#93600a" fill-opacity="0.6" stroke="#93600a" stroke-opacity="0.45" stroke-width="0.7"/>
<circle cx="134.2" cy="603.9" r="2.6" fill="#93600a" fill-opacity="0.6" stroke="#93600a" stroke-opacity="0.45" stroke-width="0.7"/>
<circle cx="133.8" cy="607.3" r="2.6" fill="#93600a" fill-opacity="0.6" stroke="#93600a" stroke-opacity="0.45" stroke-width="0.7"/>
<circle cx="134.1" cy="610.9" r="2.6" fill="#93600a" fill-opacity="0.6" stroke="#93600a" stroke-opacity="0.45" stroke-width="0.7"/>
<circle cx="134.9" cy="613.7" r="2.6" fill="#93600a" fill-opacity="0.6" stroke="#93600a" stroke-opacity="0.45" stroke-width="0.7"/>
<circle cx="134.9" cy="617.4" r="2.6" fill="#93600a" fill-opacity="0.6" stroke="#93600a" stroke-opacity="0.45" stroke-width="0.7"/>
<circle cx="134.9" cy="619.8" r="2.6" fill="#93600a" fill-opacity="0.6" stroke="#93600a" stroke-opacity="0.45" stroke-width="0.7"/>
<circle cx="134.1" cy="622.7" r="2.6" fill="#93600a" fill-opacity="0.6" stroke="#93600a" stroke-opacity="0.45" stroke-width="0.7"/>
<circle cx="134.0" cy="625.8" r="2.6" fill="#93600a" fill-opacity="0.6" stroke="#93600a" stroke-opacity="0.45" stroke-width="0.7"/>
<circle cx="134.5" cy="629.7" r="2.6" fill="#93600a" fill-opacity="0.6" stroke="#93600a" stroke-opacity="0.45" stroke-width="0.7"/>
<circle cx="134.8" cy="632.3" r="2.6" fill="#93600a" fill-opacity="0.6" stroke="#93600a" stroke-opacity="0.45" stroke-width="0.7"/>
<circle cx="134.6" cy="635.8" r="2.6" fill="#93600a" fill-opacity="0.6" stroke="#93600a" stroke-opacity="0.45" stroke-width="0.7"/>
<circle cx="133.9" cy="638.7" r="2.6" fill="#93600a" fill-opacity="0.6" stroke="#93600a" stroke-opacity="0.45" stroke-width="0.7"/>
<circle cx="134.9" cy="642.0" r="2.6" fill="#93600a" fill-opacity="0.6" stroke="#93600a" stroke-opacity="0.45" stroke-width="0.7"/>
<circle cx="134.7" cy="644.7" r="2.6" fill="#93600a" fill-opacity="0.6" stroke="#93600a" stroke-opacity="0.45" stroke-width="0.7"/>
<circle cx="134.0" cy="648.2" r="2.6" fill="#93600a" fill-opacity="0.6" stroke="#93600a" stroke-opacity="0.45" stroke-width="0.7"/>
<circle cx="134.2" cy="651.3" r="2.6" fill="#93600a" fill-opacity="0.6" stroke="#93600a" stroke-opacity="0.45" stroke-width="0.7"/>
<circle cx="135.0" cy="653.9" r="2.6" fill="#93600a" fill-opacity="0.6" stroke="#93600a" stroke-opacity="0.45" stroke-width="0.7"/>
<circle cx="134.3" cy="657.7" r="2.6" fill="#93600a" fill-opacity="0.6" stroke="#93600a" stroke-opacity="0.45" stroke-width="0.7"/>
<circle cx="138.0" cy="588.7" r="2.6" fill="#93600a" fill-opacity="0.6" stroke="#93600a" stroke-opacity="0.45" stroke-width="0.7"/>
<circle cx="137.3" cy="591.8" r="2.6" fill="#93600a" fill-opacity="0.6" stroke="#93600a" stroke-opacity="0.45" stroke-width="0.7"/>
<circle cx="138.2" cy="595.6" r="2.6" fill="#93600a" fill-opacity="0.6" stroke="#93600a" stroke-opacity="0.45" stroke-width="0.7"/>
<circle cx="137.3" cy="598.8" r="2.6" fill="#93600a" fill-opacity="0.6" stroke="#93600a" stroke-opacity="0.45" stroke-width="0.7"/>
<circle cx="138.3" cy="601.7" r="2.6" fill="#93600a" fill-opacity="0.6" stroke="#93600a" stroke-opacity="0.45" stroke-width="0.7"/>
<circle cx="137.5" cy="604.6" r="2.6" fill="#93600a" fill-opacity="0.6" stroke="#93600a" stroke-opacity="0.45" stroke-width="0.7"/>
<circle cx="137.3" cy="607.1" r="2.6" fill="#93600a" fill-opacity="0.6" stroke="#93600a" stroke-opacity="0.45" stroke-width="0.7"/>
<circle cx="138.3" cy="611.0" r="2.6" fill="#93600a" fill-opacity="0.6" stroke="#93600a" stroke-opacity="0.45" stroke-width="0.7"/>
<circle cx="137.7" cy="614.4" r="2.6" fill="#93600a" fill-opacity="0.6" stroke="#93600a" stroke-opacity="0.45" stroke-width="0.7"/>
<circle cx="137.6" cy="617.4" r="2.6" fill="#93600a" fill-opacity="0.6" stroke="#93600a" stroke-opacity="0.45" stroke-width="0.7"/>
<circle cx="138.1" cy="619.7" r="2.6" fill="#93600a" fill-opacity="0.6" stroke="#93600a" stroke-opacity="0.45" stroke-width="0.7"/>
<circle cx="137.4" cy="622.9" r="2.6" fill="#93600a" fill-opacity="0.6" stroke="#93600a" stroke-opacity="0.45" stroke-width="0.7"/>
<circle cx="137.4" cy="626.4" r="2.6" fill="#93600a" fill-opacity="0.6" stroke="#93600a" stroke-opacity="0.45" stroke-width="0.7"/>
<circle cx="137.4" cy="629.3" r="2.6" fill="#93600a" fill-opacity="0.6" stroke="#93600a" stroke-opacity="0.45" stroke-width="0.7"/>
<circle cx="137.3" cy="633.0" r="2.6" fill="#93600a" fill-opacity="0.6" stroke="#93600a" stroke-opacity="0.45" stroke-width="0.7"/>
<circle cx="137.5" cy="635.5" r="2.6" fill="#93600a" fill-opacity="0.6" stroke="#93600a" stroke-opacity="0.45" stroke-width="0.7"/>
<circle cx="137.8" cy="639.2" r="2.6" fill="#93600a" fill-opacity="0.6" stroke="#93600a" stroke-opacity="0.45" stroke-width="0.7"/>
<circle cx="137.6" cy="642.3" r="2.6" fill="#93600a" fill-opacity="0.6" stroke="#93600a" stroke-opacity="0.45" stroke-width="0.7"/>
<circle cx="137.7" cy="644.9" r="2.6" fill="#93600a" fill-opacity="0.6" stroke="#93600a" stroke-opacity="0.45" stroke-width="0.7"/>
<circle cx="137.7" cy="647.4" r="2.6" fill="#93600a" fill-opacity="0.6" stroke="#93600a" stroke-opacity="0.45" stroke-width="0.7"/>
<circle cx="137.6" cy="650.7" r="2.6" fill="#93600a" fill-opacity="0.6" stroke="#93600a" stroke-opacity="0.45" stroke-width="0.7"/>
<circle cx="137.1" cy="654.5" r="2.6" fill="#93600a" fill-opacity="0.6" stroke="#93600a" stroke-opacity="0.45" stroke-width="0.7"/>
<circle cx="137.3" cy="657.2" r="2.6" fill="#93600a" fill-opacity="0.6" stroke="#93600a" stroke-opacity="0.45" stroke-width="0.7"/>
<circle cx="141.3" cy="589.5" r="2.6" fill="#93600a" fill-opacity="0.6" stroke="#93600a" stroke-opacity="0.45" stroke-width="0.7"/>
<circle cx="140.8" cy="592.6" r="2.6" fill="#93600a" fill-opacity="0.6" stroke="#93600a" stroke-opacity="0.45" stroke-width="0.7"/>
<circle cx="141.1" cy="596.0" r="2.6" fill="#93600a" fill-opacity="0.6" stroke="#93600a" stroke-opacity="0.45" stroke-width="0.7"/>
<circle cx="140.5" cy="598.8" r="2.6" fill="#93600a" fill-opacity="0.6" stroke="#93600a" stroke-opacity="0.45" stroke-width="0.7"/>
<circle cx="140.7" cy="601.6" r="2.6" fill="#93600a" fill-opacity="0.6" stroke="#93600a" stroke-opacity="0.45" stroke-width="0.7"/>
<circle cx="141.3" cy="605.0" r="2.6" fill="#93600a" fill-opacity="0.6" stroke="#93600a" stroke-opacity="0.45" stroke-width="0.7"/>
<circle cx="141.1" cy="608.4" r="2.6" fill="#93600a" fill-opacity="0.6" stroke="#93600a" stroke-opacity="0.45" stroke-width="0.7"/>
<circle cx="141.5" cy="611.1" r="2.6" fill="#93600a" fill-opacity="0.6" stroke="#93600a" stroke-opacity="0.45" stroke-width="0.7"/>
<circle cx="141.1" cy="614.3" r="2.6" fill="#93600a" fill-opacity="0.6" stroke="#93600a" stroke-opacity="0.45" stroke-width="0.7"/>
<circle cx="141.0" cy="617.6" r="2.6" fill="#93600a" fill-opacity="0.6" stroke="#93600a" stroke-opacity="0.45" stroke-width="0.7"/>
<circle cx="140.9" cy="620.5" r="2.6" fill="#93600a" fill-opacity="0.6" stroke="#93600a" stroke-opacity="0.45" stroke-width="0.7"/>
<circle cx="141.0" cy="624.1" r="2.6" fill="#93600a" fill-opacity="0.6" stroke="#93600a" stroke-opacity="0.45" stroke-width="0.7"/>
<circle cx="141.2" cy="627.1" r="2.6" fill="#93600a" fill-opacity="0.6" stroke="#93600a" stroke-opacity="0.45" stroke-width="0.7"/>
<circle cx="141.5" cy="629.5" r="2.6" fill="#93600a" fill-opacity="0.6" stroke="#93600a" stroke-opacity="0.45" stroke-width="0.7"/>
<circle cx="141.1" cy="633.4" r="2.6" fill="#93600a" fill-opacity="0.6" stroke="#93600a" stroke-opacity="0.45" stroke-width="0.7"/>
<circle cx="141.4" cy="635.5" r="2.6" fill="#93600a" fill-opacity="0.6" stroke="#93600a" stroke-opacity="0.45" stroke-width="0.7"/>
<circle cx="140.5" cy="639.0" r="2.6" fill="#93600a" fill-opacity="0.6" stroke="#93600a" stroke-opacity="0.45" stroke-width="0.7"/>
<circle cx="140.5" cy="641.9" r="2.6" fill="#93600a" fill-opacity="0.6" stroke="#93600a" stroke-opacity="0.45" stroke-width="0.7"/>
<circle cx="140.5" cy="645.5" r="2.6" fill="#93600a" fill-opacity="0.6" stroke="#93600a" stroke-opacity="0.45" stroke-width="0.7"/>
<circle cx="141.3" cy="648.8" r="2.6" fill="#93600a" fill-opacity="0.6" stroke="#93600a" stroke-opacity="0.45" stroke-width="0.7"/>
<circle cx="140.6" cy="651.7" r="2.6" fill="#93600a" fill-opacity="0.6" stroke="#93600a" stroke-opacity="0.45" stroke-width="0.7"/>
<circle cx="141.2" cy="654.1" r="2.6" fill="#93600a" fill-opacity="0.6" stroke="#93600a" stroke-opacity="0.45" stroke-width="0.7"/>
<circle cx="141.5" cy="658.2" r="2.6" fill="#93600a" fill-opacity="0.6" stroke="#93600a" stroke-opacity="0.45" stroke-width="0.7"/>
<circle cx="144.0" cy="595.0" r="2.6" fill="#93600a" fill-opacity="0.6" stroke="#93600a" stroke-opacity="0.45" stroke-width="0.7"/>
<circle cx="144.2" cy="597.5" r="2.6" fill="#93600a" fill-opacity="0.6" stroke="#93600a" stroke-opacity="0.45" stroke-width="0.7"/>
<circle cx="144.9" cy="601.0" r="2.6" fill="#93600a" fill-opacity="0.6" stroke="#93600a" stroke-opacity="0.45" stroke-width="0.7"/>
<circle cx="143.9" cy="603.6" r="2.6" fill="#93600a" fill-opacity="0.6" stroke="#93600a" stroke-opacity="0.45" stroke-width="0.7"/>
<circle cx="144.3" cy="606.6" r="2.6" fill="#93600a" fill-opacity="0.6" stroke="#93600a" stroke-opacity="0.45" stroke-width="0.7"/>
<circle cx="143.9" cy="609.7" r="2.6" fill="#93600a" fill-opacity="0.6" stroke="#93600a" stroke-opacity="0.45" stroke-width="0.7"/>
<circle cx="144.6" cy="612.5" r="2.6" fill="#93600a" fill-opacity="0.6" stroke="#93600a" stroke-opacity="0.45" stroke-width="0.7"/>
<circle cx="144.4" cy="616.1" r="2.6" fill="#93600a" fill-opacity="0.6" stroke="#93600a" stroke-opacity="0.45" stroke-width="0.7"/>
<circle cx="143.7" cy="619.0" r="2.6" fill="#93600a" fill-opacity="0.6" stroke="#93600a" stroke-opacity="0.45" stroke-width="0.7"/>
<circle cx="144.4" cy="622.3" r="2.6" fill="#93600a" fill-opacity="0.6" stroke="#93600a" stroke-opacity="0.45" stroke-width="0.7"/>
<circle cx="143.8" cy="626.0" r="2.6" fill="#93600a" fill-opacity="0.6" stroke="#93600a" stroke-opacity="0.45" stroke-width="0.7"/>
<circle cx="144.6" cy="629.1" r="2.6" fill="#93600a" fill-opacity="0.6" stroke="#93600a" stroke-opacity="0.45" stroke-width="0.7"/>
<circle cx="143.8" cy="631.3" r="2.6" fill="#93600a" fill-opacity="0.6" stroke="#93600a" stroke-opacity="0.45" stroke-width="0.7"/>
<circle cx="143.7" cy="635.1" r="2.6" fill="#93600a" fill-opacity="0.6" stroke="#93600a" stroke-opacity="0.45" stroke-width="0.7"/>
<circle cx="144.0" cy="637.4" r="2.6" fill="#93600a" fill-opacity="0.6" stroke="#93600a" stroke-opacity="0.45" stroke-width="0.7"/>
<circle cx="144.2" cy="641.4" r="2.6" fill="#93600a" fill-opacity="0.6" stroke="#93600a" stroke-opacity="0.45" stroke-width="0.7"/>
<circle cx="144.7" cy="643.7" r="2.6" fill="#93600a" fill-opacity="0.6" stroke="#93600a" stroke-opacity="0.45" stroke-width="0.7"/>
<circle cx="143.9" cy="647.6" r="2.6" fill="#93600a" fill-opacity="0.6" stroke="#93600a" stroke-opacity="0.45" stroke-width="0.7"/>
<circle cx="144.4" cy="650.5" r="2.6" fill="#93600a" fill-opacity="0.6" stroke="#93600a" stroke-opacity="0.45" stroke-width="0.7"/>
<circle cx="143.8" cy="652.8" r="2.6" fill="#93600a" fill-opacity="0.6" stroke="#93600a" stroke-opacity="0.45" stroke-width="0.7"/>
<circle cx="147.8" cy="596.4" r="2.6" fill="#93600a" fill-opacity="0.6" stroke="#93600a" stroke-opacity="0.45" stroke-width="0.7"/>
<circle cx="147.1" cy="600.1" r="2.6" fill="#93600a" fill-opacity="0.6" stroke="#93600a" stroke-opacity="0.45" stroke-width="0.7"/>
<circle cx="147.8" cy="603.0" r="2.6" fill="#93600a" fill-opacity="0.6" stroke="#93600a" stroke-opacity="0.45" stroke-width="0.7"/>
<circle cx="147.1" cy="606.2" r="2.6" fill="#93600a" fill-opacity="0.6" stroke="#93600a" stroke-opacity="0.45" stroke-width="0.7"/>
<circle cx="147.1" cy="609.3" r="2.6" fill="#93600a" fill-opacity="0.6" stroke="#93600a" stroke-opacity="0.45" stroke-width="0.7"/>
<circle cx="147.5" cy="611.8" r="2.6" fill="#93600a" fill-opacity="0.6" stroke="#93600a" stroke-opacity="0.45" stroke-width="0.7"/>
<circle cx="147.7" cy="615.6" r="2.6" fill="#93600a" fill-opacity="0.6" stroke="#93600a" stroke-opacity="0.45" stroke-width="0.7"/>
<circle cx="147.3" cy="617.7" r="2.6" fill="#93600a" fill-opacity="0.6" stroke="#93600a" stroke-opacity="0.45" stroke-width="0.7"/>
<circle cx="147.6" cy="620.9" r="2.6" fill="#93600a" fill-opacity="0.6" stroke="#93600a" stroke-opacity="0.45" stroke-width="0.7"/>
<circle cx="147.1" cy="624.0" r="2.6" fill="#93600a" fill-opacity="0.6" stroke="#93600a" stroke-opacity="0.45" stroke-width="0.7"/>
<circle cx="147.1" cy="627.1" r="2.6" fill="#93600a" fill-opacity="0.6" stroke="#93600a" stroke-opacity="0.45" stroke-width="0.7"/>
<circle cx="147.4" cy="630.3" r="2.6" fill="#93600a" fill-opacity="0.6" stroke="#93600a" stroke-opacity="0.45" stroke-width="0.7"/>
<circle cx="147.9" cy="633.4" r="2.6" fill="#93600a" fill-opacity="0.6" stroke="#93600a" stroke-opacity="0.45" stroke-width="0.7"/>
<circle cx="147.6" cy="636.4" r="2.6" fill="#93600a" fill-opacity="0.6" stroke="#93600a" stroke-opacity="0.45" stroke-width="0.7"/>
<circle cx="147.4" cy="639.3" r="2.6" fill="#93600a" fill-opacity="0.6" stroke="#93600a" stroke-opacity="0.45" stroke-width="0.7"/>
<circle cx="147.3" cy="642.4" r="2.6" fill="#93600a" fill-opacity="0.6" stroke="#93600a" stroke-opacity="0.45" stroke-width="0.7"/>
<circle cx="147.9" cy="646.1" r="2.6" fill="#93600a" fill-opacity="0.6" stroke="#93600a" stroke-opacity="0.45" stroke-width="0.7"/>
<circle cx="147.2" cy="649.1" r="2.6" fill="#93600a" fill-opacity="0.6" stroke="#93600a" stroke-opacity="0.45" stroke-width="0.7"/>
<circle cx="151.4" cy="600.8" r="2.6" fill="#93600a" fill-opacity="0.6" stroke="#93600a" stroke-opacity="0.45" stroke-width="0.7"/>
<circle cx="151.3" cy="604.2" r="2.6" fill="#93600a" fill-opacity="0.6" stroke="#93600a" stroke-opacity="0.45" stroke-width="0.7"/>
<circle cx="150.9" cy="607.8" r="2.6" fill="#93600a" fill-opacity="0.6" stroke="#93600a" stroke-opacity="0.45" stroke-width="0.7"/>
<circle cx="150.8" cy="610.5" r="2.6" fill="#93600a" fill-opacity="0.6" stroke="#93600a" stroke-opacity="0.45" stroke-width="0.7"/>
<circle cx="151.1" cy="614.2" r="2.6" fill="#93600a" fill-opacity="0.6" stroke="#93600a" stroke-opacity="0.45" stroke-width="0.7"/>
<circle cx="150.7" cy="617.1" r="2.6" fill="#93600a" fill-opacity="0.6" stroke="#93600a" stroke-opacity="0.45" stroke-width="0.7"/>
<circle cx="151.1" cy="620.0" r="2.6" fill="#93600a" fill-opacity="0.6" stroke="#93600a" stroke-opacity="0.45" stroke-width="0.7"/>
<circle cx="150.8" cy="622.7" r="2.6" fill="#93600a" fill-opacity="0.6" stroke="#93600a" stroke-opacity="0.45" stroke-width="0.7"/>
<circle cx="150.4" cy="625.6" r="2.6" fill="#93600a" fill-opacity="0.6" stroke="#93600a" stroke-opacity="0.45" stroke-width="0.7"/>
<circle cx="150.4" cy="629.4" r="2.6" fill="#93600a" fill-opacity="0.6" stroke="#93600a" stroke-opacity="0.45" stroke-width="0.7"/>
<circle cx="150.6" cy="631.8" r="2.6" fill="#93600a" fill-opacity="0.6" stroke="#93600a" stroke-opacity="0.45" stroke-width="0.7"/>
<circle cx="150.4" cy="635.7" r="2.6" fill="#93600a" fill-opacity="0.6" stroke="#93600a" stroke-opacity="0.45" stroke-width="0.7"/>
<circle cx="151.3" cy="638.6" r="2.6" fill="#93600a" fill-opacity="0.6" stroke="#93600a" stroke-opacity="0.45" stroke-width="0.7"/>
<circle cx="150.6" cy="641.2" r="2.6" fill="#93600a" fill-opacity="0.6" stroke="#93600a" stroke-opacity="0.45" stroke-width="0.7"/>
<circle cx="150.7" cy="644.6" r="2.6" fill="#93600a" fill-opacity="0.6" stroke="#93600a" stroke-opacity="0.45" stroke-width="0.7"/>
<circle cx="153.8" cy="601.7" r="2.6" fill="#93600a" fill-opacity="0.6" stroke="#93600a" stroke-opacity="0.45" stroke-width="0.7"/>
<circle cx="153.9" cy="605.5" r="2.6" fill="#93600a" fill-opacity="0.6" stroke="#93600a" stroke-opacity="0.45" stroke-width="0.7"/>
<circle cx="154.8" cy="608.1" r="2.6" fill="#93600a" fill-opacity="0.6" stroke="#93600a" stroke-opacity="0.45" stroke-width="0.7"/>
<circle cx="153.9" cy="611.7" r="2.6" fill="#93600a" fill-opacity="0.6" stroke="#93600a" stroke-opacity="0.45" stroke-width="0.7"/>
<circle cx="154.0" cy="614.0" r="2.6" fill="#93600a" fill-opacity="0.6" stroke="#93600a" stroke-opacity="0.45" stroke-width="0.7"/>
<circle cx="153.6" cy="617.2" r="2.6" fill="#93600a" fill-opacity="0.6" stroke="#93600a" stroke-opacity="0.45" stroke-width="0.7"/>
<circle cx="154.2" cy="620.4" r="2.6" fill="#93600a" fill-opacity="0.6" stroke="#93600a" stroke-opacity="0.45" stroke-width="0.7"/>
<circle cx="153.8" cy="623.5" r="2.6" fill="#93600a" fill-opacity="0.6" stroke="#93600a" stroke-opacity="0.45" stroke-width="0.7"/>
<circle cx="153.6" cy="626.3" r="2.6" fill="#93600a" fill-opacity="0.6" stroke="#93600a" stroke-opacity="0.45" stroke-width="0.7"/>
<circle cx="153.7" cy="629.6" r="2.6" fill="#93600a" fill-opacity="0.6" stroke="#93600a" stroke-opacity="0.45" stroke-width="0.7"/>
<circle cx="153.7" cy="632.2" r="2.6" fill="#93600a" fill-opacity="0.6" stroke="#93600a" stroke-opacity="0.45" stroke-width="0.7"/>
<circle cx="154.0" cy="635.6" r="2.6" fill="#93600a" fill-opacity="0.6" stroke="#93600a" stroke-opacity="0.45" stroke-width="0.7"/>
<circle cx="154.3" cy="639.0" r="2.6" fill="#93600a" fill-opacity="0.6" stroke="#93600a" stroke-opacity="0.45" stroke-width="0.7"/>
<circle cx="154.5" cy="642.3" r="2.6" fill="#93600a" fill-opacity="0.6" stroke="#93600a" stroke-opacity="0.45" stroke-width="0.7"/>
<circle cx="154.5" cy="645.7" r="2.6" fill="#93600a" fill-opacity="0.6" stroke="#93600a" stroke-opacity="0.45" stroke-width="0.7"/>
<circle cx="157.4" cy="605.2" r="2.6" fill="#93600a" fill-opacity="0.6" stroke="#93600a" stroke-opacity="0.45" stroke-width="0.7"/>
<circle cx="158.1" cy="608.0" r="2.6" fill="#93600a" fill-opacity="0.6" stroke="#93600a" stroke-opacity="0.45" stroke-width="0.7"/>
<circle cx="157.8" cy="611.7" r="2.6" fill="#93600a" fill-opacity="0.6" stroke="#93600a" stroke-opacity="0.45" stroke-width="0.7"/>
<circle cx="157.0" cy="615.1" r="2.6" fill="#93600a" fill-opacity="0.6" stroke="#93600a" stroke-opacity="0.45" stroke-width="0.7"/>
<circle cx="158.0" cy="617.9" r="2.6" fill="#93600a" fill-opacity="0.6" stroke="#93600a" stroke-opacity="0.45" stroke-width="0.7"/>
<circle cx="157.8" cy="621.2" r="2.6" fill="#93600a" fill-opacity="0.6" stroke="#93600a" stroke-opacity="0.45" stroke-width="0.7"/>
<circle cx="157.1" cy="624.0" r="2.6" fill="#93600a" fill-opacity="0.6" stroke="#93600a" stroke-opacity="0.45" stroke-width="0.7"/>
<circle cx="157.5" cy="627.5" r="2.6" fill="#93600a" fill-opacity="0.6" stroke="#93600a" stroke-opacity="0.45" stroke-width="0.7"/>
<circle cx="157.9" cy="630.6" r="2.6" fill="#93600a" fill-opacity="0.6" stroke="#93600a" stroke-opacity="0.45" stroke-width="0.7"/>
<circle cx="157.6" cy="633.7" r="2.6" fill="#93600a" fill-opacity="0.6" stroke="#93600a" stroke-opacity="0.45" stroke-width="0.7"/>
<circle cx="157.7" cy="636.6" r="2.6" fill="#93600a" fill-opacity="0.6" stroke="#93600a" stroke-opacity="0.45" stroke-width="0.7"/>
<circle cx="157.2" cy="638.9" r="2.6" fill="#93600a" fill-opacity="0.6" stroke="#93600a" stroke-opacity="0.45" stroke-width="0.7"/>
<circle cx="157.1" cy="642.4" r="2.6" fill="#93600a" fill-opacity="0.6" stroke="#93600a" stroke-opacity="0.45" stroke-width="0.7"/>
<circle cx="160.3" cy="605.7" r="2.6" fill="#93600a" fill-opacity="0.6" stroke="#93600a" stroke-opacity="0.45" stroke-width="0.7"/>
<circle cx="160.9" cy="608.5" r="2.6" fill="#93600a" fill-opacity="0.6" stroke="#93600a" stroke-opacity="0.45" stroke-width="0.7"/>
<circle cx="161.0" cy="611.7" r="2.6" fill="#93600a" fill-opacity="0.6" stroke="#93600a" stroke-opacity="0.45" stroke-width="0.7"/>
<circle cx="160.8" cy="614.0" r="2.6" fill="#93600a" fill-opacity="0.6" stroke="#93600a" stroke-opacity="0.45" stroke-width="0.7"/>
<circle cx="161.2" cy="618.0" r="2.6" fill="#93600a" fill-opacity="0.6" stroke="#93600a" stroke-opacity="0.45" stroke-width="0.7"/>
<circle cx="160.8" cy="620.8" r="2.6" fill="#93600a" fill-opacity="0.6" stroke="#93600a" stroke-opacity="0.45" stroke-width="0.7"/>
<circle cx="161.0" cy="623.3" r="2.6" fill="#93600a" fill-opacity="0.6" stroke="#93600a" stroke-opacity="0.45" stroke-width="0.7"/>
<circle cx="161.1" cy="626.7" r="2.6" fill="#93600a" fill-opacity="0.6" stroke="#93600a" stroke-opacity="0.45" stroke-width="0.7"/>
<circle cx="160.3" cy="629.8" r="2.6" fill="#93600a" fill-opacity="0.6" stroke="#93600a" stroke-opacity="0.45" stroke-width="0.7"/>
<circle cx="161.1" cy="632.8" r="2.6" fill="#93600a" fill-opacity="0.6" stroke="#93600a" stroke-opacity="0.45" stroke-width="0.7"/>
<circle cx="161.1" cy="636.8" r="2.6" fill="#93600a" fill-opacity="0.6" stroke="#93600a" stroke-opacity="0.45" stroke-width="0.7"/>
<circle cx="160.8" cy="639.2" r="2.6" fill="#93600a" fill-opacity="0.6" stroke="#93600a" stroke-opacity="0.45" stroke-width="0.7"/>
<circle cx="164.1" cy="608.5" r="2.6" fill="#93600a" fill-opacity="0.6" stroke="#93600a" stroke-opacity="0.45" stroke-width="0.7"/>
<circle cx="164.4" cy="611.5" r="2.6" fill="#93600a" fill-opacity="0.6" stroke="#93600a" stroke-opacity="0.45" stroke-width="0.7"/>
<circle cx="164.3" cy="613.9" r="2.6" fill="#93600a" fill-opacity="0.6" stroke="#93600a" stroke-opacity="0.45" stroke-width="0.7"/>
<circle cx="163.7" cy="617.3" r="2.6" fill="#93600a" fill-opacity="0.6" stroke="#93600a" stroke-opacity="0.45" stroke-width="0.7"/>
<circle cx="164.4" cy="620.4" r="2.6" fill="#93600a" fill-opacity="0.6" stroke="#93600a" stroke-opacity="0.45" stroke-width="0.7"/>
<circle cx="164.2" cy="623.2" r="2.6" fill="#93600a" fill-opacity="0.6" stroke="#93600a" stroke-opacity="0.45" stroke-width="0.7"/>
<circle cx="163.6" cy="626.6" r="2.6" fill="#93600a" fill-opacity="0.6" stroke="#93600a" stroke-opacity="0.45" stroke-width="0.7"/>
<circle cx="164.3" cy="630.2" r="2.6" fill="#93600a" fill-opacity="0.6" stroke="#93600a" stroke-opacity="0.45" stroke-width="0.7"/>
<circle cx="164.3" cy="632.8" r="2.6" fill="#93600a" fill-opacity="0.6" stroke="#93600a" stroke-opacity="0.45" stroke-width="0.7"/>
<circle cx="164.1" cy="636.1" r="2.6" fill="#93600a" fill-opacity="0.6" stroke="#93600a" stroke-opacity="0.45" stroke-width="0.7"/>
<circle cx="164.1" cy="638.8" r="2.6" fill="#93600a" fill-opacity="0.6" stroke="#93600a" stroke-opacity="0.45" stroke-width="0.7"/>
<circle cx="167.9" cy="607.8" r="2.6" fill="#93600a" fill-opacity="0.6" stroke="#93600a" stroke-opacity="0.45" stroke-width="0.7"/>
<circle cx="168.0" cy="611.8" r="2.6" fill="#93600a" fill-opacity="0.6" stroke="#93600a" stroke-opacity="0.45" stroke-width="0.7"/>
<circle cx="166.8" cy="614.3" r="2.6" fill="#93600a" fill-opacity="0.6" stroke="#93600a" stroke-opacity="0.45" stroke-width="0.7"/>
<circle cx="167.8" cy="618.0" r="2.6" fill="#93600a" fill-opacity="0.6" stroke="#93600a" stroke-opacity="0.45" stroke-width="0.7"/>
<circle cx="167.3" cy="620.3" r="2.6" fill="#93600a" fill-opacity="0.6" stroke="#93600a" stroke-opacity="0.45" stroke-width="0.7"/>
<circle cx="167.1" cy="624.2" r="2.6" fill="#93600a" fill-opacity="0.6" stroke="#93600a" stroke-opacity="0.45" stroke-width="0.7"/>
<circle cx="167.1" cy="626.9" r="2.6" fill="#93600a" fill-opacity="0.6" stroke="#93600a" stroke-opacity="0.45" stroke-width="0.7"/>
<circle cx="167.0" cy="629.9" r="2.6" fill="#93600a" fill-opacity="0.6" stroke="#93600a" stroke-opacity="0.45" stroke-width="0.7"/>
<circle cx="167.9" cy="632.5" r="2.6" fill="#93600a" fill-opacity="0.6" stroke="#93600a" stroke-opacity="0.45" stroke-width="0.7"/>
<circle cx="167.8" cy="636.1" r="2.6" fill="#93600a" fill-opacity="0.6" stroke="#93600a" stroke-opacity="0.45" stroke-width="0.7"/>
<circle cx="171.2" cy="611.4" r="2.6" fill="#93600a" fill-opacity="0.6" stroke="#93600a" stroke-opacity="0.45" stroke-width="0.7"/>
<circle cx="170.4" cy="614.8" r="2.6" fill="#93600a" fill-opacity="0.6" stroke="#93600a" stroke-opacity="0.45" stroke-width="0.7"/>
<circle cx="170.7" cy="616.8" r="2.6" fill="#93600a" fill-opacity="0.6" stroke="#93600a" stroke-opacity="0.45" stroke-width="0.7"/>
<circle cx="170.1" cy="620.5" r="2.6" fill="#93600a" fill-opacity="0.6" stroke="#93600a" stroke-opacity="0.45" stroke-width="0.7"/>
<circle cx="170.6" cy="623.3" r="2.6" fill="#93600a" fill-opacity="0.6" stroke="#93600a" stroke-opacity="0.45" stroke-width="0.7"/>
<circle cx="170.3" cy="626.5" r="2.6" fill="#93600a" fill-opacity="0.6" stroke="#93600a" stroke-opacity="0.45" stroke-width="0.7"/>
<circle cx="170.5" cy="630.2" r="2.6" fill="#93600a" fill-opacity="0.6" stroke="#93600a" stroke-opacity="0.45" stroke-width="0.7"/>
<circle cx="170.1" cy="633.2" r="2.6" fill="#93600a" fill-opacity="0.6" stroke="#93600a" stroke-opacity="0.45" stroke-width="0.7"/>
<circle cx="171.1" cy="635.5" r="2.6" fill="#93600a" fill-opacity="0.6" stroke="#93600a" stroke-opacity="0.45" stroke-width="0.7"/>
<circle cx="174.5" cy="611.4" r="2.6" fill="#93600a" fill-opacity="0.6" stroke="#93600a" stroke-opacity="0.45" stroke-width="0.7"/>
<circle cx="174.5" cy="613.9" r="2.6" fill="#93600a" fill-opacity="0.6" stroke="#93600a" stroke-opacity="0.45" stroke-width="0.7"/>
<circle cx="173.8" cy="617.2" r="2.6" fill="#93600a" fill-opacity="0.6" stroke="#93600a" stroke-opacity="0.45" stroke-width="0.7"/>
<circle cx="174.6" cy="620.5" r="2.6" fill="#93600a" fill-opacity="0.6" stroke="#93600a" stroke-opacity="0.45" stroke-width="0.7"/>
<circle cx="173.8" cy="623.4" r="2.6" fill="#93600a" fill-opacity="0.6" stroke="#93600a" stroke-opacity="0.45" stroke-width="0.7"/>
<circle cx="173.7" cy="626.1" r="2.6" fill="#93600a" fill-opacity="0.6" stroke="#93600a" stroke-opacity="0.45" stroke-width="0.7"/>
<circle cx="173.5" cy="630.1" r="2.6" fill="#93600a" fill-opacity="0.6" stroke="#93600a" stroke-opacity="0.45" stroke-width="0.7"/>
<circle cx="173.7" cy="633.3" r="2.6" fill="#93600a" fill-opacity="0.6" stroke="#93600a" stroke-opacity="0.45" stroke-width="0.7"/>
<circle cx="173.7" cy="635.6" r="2.6" fill="#93600a" fill-opacity="0.6" stroke="#93600a" stroke-opacity="0.45" stroke-width="0.7"/>
<circle cx="177.3" cy="614.3" r="2.6" fill="#93600a" fill-opacity="0.6" stroke="#93600a" stroke-opacity="0.45" stroke-width="0.7"/>
<circle cx="177.1" cy="618.4" r="2.6" fill="#93600a" fill-opacity="0.6" stroke="#93600a" stroke-opacity="0.45" stroke-width="0.7"/>
<circle cx="177.8" cy="621.3" r="2.6" fill="#93600a" fill-opacity="0.6" stroke="#93600a" stroke-opacity="0.45" stroke-width="0.7"/>
<circle cx="177.5" cy="624.5" r="2.6" fill="#93600a" fill-opacity="0.6" stroke="#93600a" stroke-opacity="0.45" stroke-width="0.7"/>
<circle cx="177.8" cy="627.2" r="2.6" fill="#93600a" fill-opacity="0.6" stroke="#93600a" stroke-opacity="0.45" stroke-width="0.7"/>
<circle cx="177.6" cy="629.7" r="2.6" fill="#93600a" fill-opacity="0.6" stroke="#93600a" stroke-opacity="0.45" stroke-width="0.7"/>
<circle cx="177.6" cy="633.3" r="2.6" fill="#93600a" fill-opacity="0.6" stroke="#93600a" stroke-opacity="0.45" stroke-width="0.7"/>
<circle cx="180.9" cy="615.4" r="2.6" fill="#93600a" fill-opacity="0.6" stroke="#93600a" stroke-opacity="0.45" stroke-width="0.7"/>
<circle cx="180.3" cy="617.8" r="2.6" fill="#93600a" fill-opacity="0.6" stroke="#93600a" stroke-opacity="0.45" stroke-width="0.7"/>
<circle cx="181.1" cy="621.0" r="2.6" fill="#93600a" fill-opacity="0.6" stroke="#93600a" stroke-opacity="0.45" stroke-width="0.7"/>
<circle cx="180.6" cy="624.3" r="2.6" fill="#93600a" fill-opacity="0.6" stroke="#93600a" stroke-opacity="0.45" stroke-width="0.7"/>
<circle cx="180.4" cy="627.9" r="2.6" fill="#93600a" fill-opacity="0.6" stroke="#93600a" stroke-opacity="0.45" stroke-width="0.7"/>
<circle cx="181.2" cy="630.4" r="2.6" fill="#93600a" fill-opacity="0.6" stroke="#93600a" stroke-opacity="0.45" stroke-width="0.7"/>
<circle cx="184.1" cy="618.4" r="2.6" fill="#93600a" fill-opacity="0.6" stroke="#93600a" stroke-opacity="0.45" stroke-width="0.7"/>
<circle cx="184.0" cy="621.6" r="2.6" fill="#93600a" fill-opacity="0.6" stroke="#93600a" stroke-opacity="0.45" stroke-width="0.7"/>
<circle cx="183.5" cy="624.4" r="2.6" fill="#93600a" fill-opacity="0.6" stroke="#93600a" stroke-opacity="0.45" stroke-width="0.7"/>
<circle cx="183.5" cy="628.4" r="2.6" fill="#93600a" fill-opacity="0.6" stroke="#93600a" stroke-opacity="0.45" stroke-width="0.7"/>
<circle cx="76.8" cy="623.5" r="2.6" fill="#93600a" fill-opacity="0.6" stroke="#93600a" stroke-opacity="0.45" stroke-width="0.7"/>
<circle cx="84.9" cy="623.5" r="2.6" fill="#93600a" fill-opacity="0.6" stroke="#93600a" stroke-opacity="0.45" stroke-width="0.7"/>
<circle cx="93.7" cy="622.5" r="2.6" fill="#93600a" fill-opacity="0.6" stroke="#93600a" stroke-opacity="0.45" stroke-width="0.7"/>
<circle cx="98.8" cy="620.9" r="2.6" fill="#93600a" fill-opacity="0.6" stroke="#93600a" stroke-opacity="0.45" stroke-width="0.7"/>
<circle cx="98.8" cy="626.0" r="2.6" fill="#93600a" fill-opacity="0.6" stroke="#93600a" stroke-opacity="0.45" stroke-width="0.7"/>
<circle cx="102.5" cy="621.5" r="2.6" fill="#93600a" fill-opacity="0.6" stroke="#93600a" stroke-opacity="0.45" stroke-width="0.7"/>
<circle cx="104.0" cy="625.9" r="2.6" fill="#93600a" fill-opacity="0.6" stroke="#93600a" stroke-opacity="0.45" stroke-width="0.7"/>
<circle cx="106.5" cy="622.0" r="2.6" fill="#93600a" fill-opacity="0.6" stroke="#93600a" stroke-opacity="0.45" stroke-width="0.7"/>
<circle cx="190.0" cy="619.6" r="2.6" fill="#93600a" fill-opacity="0.6" stroke="#93600a" stroke-opacity="0.45" stroke-width="0.7"/>
<circle cx="190.7" cy="625.0" r="2.6" fill="#93600a" fill-opacity="0.6" stroke="#93600a" stroke-opacity="0.45" stroke-width="0.7"/>
<circle cx="194.2" cy="621.0" r="2.6" fill="#93600a" fill-opacity="0.6" stroke="#93600a" stroke-opacity="0.45" stroke-width="0.7"/>
<circle cx="193.7" cy="624.9" r="2.6" fill="#93600a" fill-opacity="0.6" stroke="#93600a" stroke-opacity="0.45" stroke-width="0.7"/>
<circle cx="198.3" cy="618.5" r="2.6" fill="#93600a" fill-opacity="0.6" stroke="#93600a" stroke-opacity="0.45" stroke-width="0.7"/>
<circle cx="198.1" cy="622.8" r="2.6" fill="#93600a" fill-opacity="0.6" stroke="#93600a" stroke-opacity="0.45" stroke-width="0.7"/>
<circle cx="198.7" cy="627.9" r="2.6" fill="#93600a" fill-opacity="0.6" stroke="#93600a" stroke-opacity="0.45" stroke-width="0.7"/>
<circle cx="203.3" cy="620.6" r="2.6" fill="#93600a" fill-opacity="0.6" stroke="#93600a" stroke-opacity="0.45" stroke-width="0.7"/>
<circle cx="202.7" cy="624.8" r="2.6" fill="#93600a" fill-opacity="0.6" stroke="#93600a" stroke-opacity="0.45" stroke-width="0.7"/>
<circle cx="207.0" cy="617.9" r="2.6" fill="#93600a" fill-opacity="0.6" stroke="#93600a" stroke-opacity="0.45" stroke-width="0.7"/>
<circle cx="206.4" cy="621.8" r="2.6" fill="#93600a" fill-opacity="0.6" stroke="#93600a" stroke-opacity="0.45" stroke-width="0.7"/>
<circle cx="208.0" cy="625.5" r="2.6" fill="#93600a" fill-opacity="0.6" stroke="#93600a" stroke-opacity="0.45" stroke-width="0.7"/>
<circle cx="211.5" cy="619.9" r="2.6" fill="#93600a" fill-opacity="0.6" stroke="#93600a" stroke-opacity="0.45" stroke-width="0.7"/>
<circle cx="212.2" cy="623.2" r="2.6" fill="#93600a" fill-opacity="0.6" stroke="#93600a" stroke-opacity="0.45" stroke-width="0.7"/>
<circle cx="211.1" cy="627.2" r="2.6" fill="#93600a" fill-opacity="0.6" stroke="#93600a" stroke-opacity="0.45" stroke-width="0.7"/>
<circle cx="215.6" cy="617.4" r="2.6" fill="#93600a" fill-opacity="0.6" stroke="#93600a" stroke-opacity="0.45" stroke-width="0.7"/>
<circle cx="216.6" cy="622.1" r="2.6" fill="#93600a" fill-opacity="0.6" stroke="#93600a" stroke-opacity="0.45" stroke-width="0.7"/>
<circle cx="216.5" cy="624.6" r="2.6" fill="#93600a" fill-opacity="0.6" stroke="#93600a" stroke-opacity="0.45" stroke-width="0.7"/>
<circle cx="215.0" cy="629.9" r="2.6" fill="#93600a" fill-opacity="0.6" stroke="#93600a" stroke-opacity="0.45" stroke-width="0.7"/>
<circle cx="220.8" cy="619.3" r="2.6" fill="#93600a" fill-opacity="0.6" stroke="#93600a" stroke-opacity="0.45" stroke-width="0.7"/>
<circle cx="220.3" cy="622.4" r="2.6" fill="#93600a" fill-opacity="0.6" stroke="#93600a" stroke-opacity="0.45" stroke-width="0.7"/>
<circle cx="219.9" cy="628.1" r="2.6" fill="#93600a" fill-opacity="0.6" stroke="#93600a" stroke-opacity="0.45" stroke-width="0.7"/>
<circle cx="225.0" cy="617.9" r="2.6" fill="#93600a" fill-opacity="0.6" stroke="#93600a" stroke-opacity="0.45" stroke-width="0.7"/>
<circle cx="225.3" cy="620.8" r="2.6" fill="#93600a" fill-opacity="0.6" stroke="#93600a" stroke-opacity="0.45" stroke-width="0.7"/>
<circle cx="223.7" cy="624.6" r="2.6" fill="#93600a" fill-opacity="0.6" stroke="#93600a" stroke-opacity="0.45" stroke-width="0.7"/>
<circle cx="224.4" cy="629.5" r="2.6" fill="#93600a" fill-opacity="0.6" stroke="#93600a" stroke-opacity="0.45" stroke-width="0.7"/>
<circle cx="229.5" cy="619.6" r="2.6" fill="#93600a" fill-opacity="0.6" stroke="#93600a" stroke-opacity="0.45" stroke-width="0.7"/>
<circle cx="229.0" cy="623.7" r="2.6" fill="#93600a" fill-opacity="0.6" stroke="#93600a" stroke-opacity="0.45" stroke-width="0.7"/>
<circle cx="228.6" cy="627.3" r="2.6" fill="#93600a" fill-opacity="0.6" stroke="#93600a" stroke-opacity="0.45" stroke-width="0.7"/>
<circle cx="232.2" cy="618.4" r="2.6" fill="#93600a" fill-opacity="0.6" stroke="#93600a" stroke-opacity="0.45" stroke-width="0.7"/>
<circle cx="232.5" cy="622.7" r="2.6" fill="#93600a" fill-opacity="0.6" stroke="#93600a" stroke-opacity="0.45" stroke-width="0.7"/>
<circle cx="233.3" cy="625.6" r="2.6" fill="#93600a" fill-opacity="0.6" stroke="#93600a" stroke-opacity="0.45" stroke-width="0.7"/>
<circle cx="236.6" cy="620.2" r="2.6" fill="#93600a" fill-opacity="0.6" stroke="#93600a" stroke-opacity="0.45" stroke-width="0.7"/>
<circle cx="237.5" cy="625.0" r="2.6" fill="#93600a" fill-opacity="0.6" stroke="#93600a" stroke-opacity="0.45" stroke-width="0.7"/>
<circle cx="240.9" cy="618.4" r="2.6" fill="#93600a" fill-opacity="0.6" stroke="#93600a" stroke-opacity="0.45" stroke-width="0.7"/>
<circle cx="241.6" cy="623.4" r="2.6" fill="#93600a" fill-opacity="0.6" stroke="#93600a" stroke-opacity="0.45" stroke-width="0.7"/>
<circle cx="241.4" cy="626.7" r="2.6" fill="#93600a" fill-opacity="0.6" stroke="#93600a" stroke-opacity="0.45" stroke-width="0.7"/>
<circle cx="246.1" cy="620.6" r="2.6" fill="#93600a" fill-opacity="0.6" stroke="#93600a" stroke-opacity="0.45" stroke-width="0.7"/>
<circle cx="245.5" cy="625.4" r="2.6" fill="#93600a" fill-opacity="0.6" stroke="#93600a" stroke-opacity="0.45" stroke-width="0.7"/>
<circle cx="251.0" cy="620.0" r="2.6" fill="#93600a" fill-opacity="0.6" stroke="#93600a" stroke-opacity="0.45" stroke-width="0.7"/>
<circle cx="250.9" cy="623.7" r="2.6" fill="#93600a" fill-opacity="0.6" stroke="#93600a" stroke-opacity="0.45" stroke-width="0.7"/>
<circle cx="254.0" cy="621.6" r="2.6" fill="#93600a" fill-opacity="0.6" stroke="#93600a" stroke-opacity="0.45" stroke-width="0.7"/>
<circle cx="255.3" cy="626.4" r="2.6" fill="#93600a" fill-opacity="0.6" stroke="#93600a" stroke-opacity="0.45" stroke-width="0.7"/>
<circle cx="258.5" cy="619.4" r="2.6" fill="#93600a" fill-opacity="0.6" stroke="#93600a" stroke-opacity="0.45" stroke-width="0.7"/>
<circle cx="258.8" cy="624.6" r="2.6" fill="#93600a" fill-opacity="0.6" stroke="#93600a" stroke-opacity="0.45" stroke-width="0.7"/>
<circle cx="263.0" cy="622.1" r="2.6" fill="#93600a" fill-opacity="0.6" stroke="#93600a" stroke-opacity="0.45" stroke-width="0.7"/>
<circle cx="263.4" cy="627.3" r="2.6" fill="#93600a" fill-opacity="0.6" stroke="#93600a" stroke-opacity="0.45" stroke-width="0.7"/>
<circle cx="266.9" cy="620.3" r="2.6" fill="#93600a" fill-opacity="0.6" stroke="#93600a" stroke-opacity="0.45" stroke-width="0.7"/>
<circle cx="267.1" cy="625.0" r="2.6" fill="#93600a" fill-opacity="0.6" stroke="#93600a" stroke-opacity="0.45" stroke-width="0.7"/>
<circle cx="272.0" cy="623.5" r="2.6" fill="#93600a" fill-opacity="0.6" stroke="#93600a" stroke-opacity="0.45" stroke-width="0.7"/>
<circle cx="275.9" cy="622.6" r="2.6" fill="#93600a" fill-opacity="0.6" stroke="#93600a" stroke-opacity="0.45" stroke-width="0.7"/>
<circle cx="283.6" cy="623.6" r="2.6" fill="#93600a" fill-opacity="0.6" stroke="#93600a" stroke-opacity="0.45" stroke-width="0.7"/>
<circle cx="305.2" cy="623.6" r="2.6" fill="#93600a" fill-opacity="0.6" stroke="#93600a" stroke-opacity="0.45" stroke-width="0.7"/>
<circle cx="309.6" cy="622.3" r="2.6" fill="#93600a" fill-opacity="0.6" stroke="#93600a" stroke-opacity="0.45" stroke-width="0.7"/>
<circle cx="316.4" cy="624.1" r="2.6" fill="#93600a" fill-opacity="0.6" stroke="#93600a" stroke-opacity="0.45" stroke-width="0.7"/>
<circle cx="51.2" cy="713.9" r="2.6" fill="#3c8c6e" fill-opacity="0.5" stroke="#3c8c6e" stroke-opacity="0.45" stroke-width="0.7"/>
<circle cx="55.9" cy="711.6" r="2.6" fill="#3c8c6e" fill-opacity="0.5" stroke="#3c8c6e" stroke-opacity="0.45" stroke-width="0.7"/>
<circle cx="54.0" cy="716.7" r="2.6" fill="#3c8c6e" fill-opacity="0.5" stroke="#3c8c6e" stroke-opacity="0.45" stroke-width="0.7"/>
<circle cx="61.5" cy="717.2" r="2.6" fill="#3c8c6e" fill-opacity="0.5" stroke="#3c8c6e" stroke-opacity="0.45" stroke-width="0.7"/>
<circle cx="62.9" cy="713.0" r="2.6" fill="#3c8c6e" fill-opacity="0.5" stroke="#3c8c6e" stroke-opacity="0.45" stroke-width="0.7"/>
<circle cx="69.9" cy="714.8" r="2.6" fill="#3c8c6e" fill-opacity="0.5" stroke="#3c8c6e" stroke-opacity="0.45" stroke-width="0.7"/>
<circle cx="76.9" cy="709.2" r="2.6" fill="#3c8c6e" fill-opacity="0.5" stroke="#3c8c6e" stroke-opacity="0.45" stroke-width="0.7"/>
<circle cx="77.8" cy="713.2" r="2.6" fill="#3c8c6e" fill-opacity="0.5" stroke="#3c8c6e" stroke-opacity="0.45" stroke-width="0.7"/>
<circle cx="80.9" cy="716.7" r="2.6" fill="#3c8c6e" fill-opacity="0.5" stroke="#3c8c6e" stroke-opacity="0.45" stroke-width="0.7"/>
<circle cx="77.8" cy="719.8" r="2.6" fill="#3c8c6e" fill-opacity="0.5" stroke="#3c8c6e" stroke-opacity="0.45" stroke-width="0.7"/>
<circle cx="84.4" cy="710.9" r="2.6" fill="#3c8c6e" fill-opacity="0.5" stroke="#3c8c6e" stroke-opacity="0.45" stroke-width="0.7"/>
<circle cx="86.7" cy="716.7" r="2.6" fill="#3c8c6e" fill-opacity="0.5" stroke="#3c8c6e" stroke-opacity="0.45" stroke-width="0.7"/>
<circle cx="94.9" cy="710.9" r="2.6" fill="#3c8c6e" fill-opacity="0.5" stroke="#3c8c6e" stroke-opacity="0.45" stroke-width="0.7"/>
<circle cx="97.9" cy="705.0" r="2.6" fill="#3c8c6e" fill-opacity="0.5" stroke="#3c8c6e" stroke-opacity="0.45" stroke-width="0.7"/>
<circle cx="97.2" cy="714.4" r="2.6" fill="#3c8c6e" fill-opacity="0.5" stroke="#3c8c6e" stroke-opacity="0.45" stroke-width="0.7"/>
<circle cx="99.6" cy="717.9" r="2.6" fill="#3c8c6e" fill-opacity="0.5" stroke="#3c8c6e" stroke-opacity="0.45" stroke-width="0.7"/>
<circle cx="103.1" cy="708.5" r="2.6" fill="#3c8c6e" fill-opacity="0.5" stroke="#3c8c6e" stroke-opacity="0.45" stroke-width="0.7"/>
<circle cx="106.6" cy="712.5" r="2.6" fill="#3c8c6e" fill-opacity="0.5" stroke="#3c8c6e" stroke-opacity="0.45" stroke-width="0.7"/>
<circle cx="98.4" cy="724.2" r="2.6" fill="#3c8c6e" fill-opacity="0.5" stroke="#3c8c6e" stroke-opacity="0.45" stroke-width="0.7"/>
<circle cx="110.1" cy="714.8" r="2.6" fill="#3c8c6e" fill-opacity="0.5" stroke="#3c8c6e" stroke-opacity="0.45" stroke-width="0.7"/>
<circle cx="121.8" cy="709.7" r="2.6" fill="#3c8c6e" fill-opacity="0.5" stroke="#3c8c6e" stroke-opacity="0.45" stroke-width="0.7"/>
<circle cx="124.1" cy="681.7" r="2.6" fill="#3c8c6e" fill-opacity="0.5" stroke="#3c8c6e" stroke-opacity="0.45" stroke-width="0.7"/>
<circle cx="125.3" cy="687.5" r="2.6" fill="#3c8c6e" fill-opacity="0.5" stroke="#3c8c6e" stroke-opacity="0.45" stroke-width="0.7"/>
<circle cx="129.9" cy="686.4" r="2.6" fill="#3c8c6e" fill-opacity="0.5" stroke="#3c8c6e" stroke-opacity="0.45" stroke-width="0.7"/>
<circle cx="121.8" cy="694.5" r="2.6" fill="#3c8c6e" fill-opacity="0.5" stroke="#3c8c6e" stroke-opacity="0.45" stroke-width="0.7"/>
<circle cx="127.6" cy="691.0" r="2.6" fill="#3c8c6e" fill-opacity="0.5" stroke="#3c8c6e" stroke-opacity="0.45" stroke-width="0.7"/>
<circle cx="124.1" cy="700.4" r="2.6" fill="#3c8c6e" fill-opacity="0.5" stroke="#3c8c6e" stroke-opacity="0.45" stroke-width="0.7"/>
<circle cx="128.8" cy="700.4" r="2.6" fill="#3c8c6e" fill-opacity="0.5" stroke="#3c8c6e" stroke-opacity="0.45" stroke-width="0.7"/>
<circle cx="131.1" cy="696.9" r="2.6" fill="#3c8c6e" fill-opacity="0.5" stroke="#3c8c6e" stroke-opacity="0.45" stroke-width="0.7"/>
<circle cx="122.9" cy="707.4" r="2.6" fill="#3c8c6e" fill-opacity="0.5" stroke="#3c8c6e" stroke-opacity="0.45" stroke-width="0.7"/>
<circle cx="127.6" cy="706.2" r="2.6" fill="#3c8c6e" fill-opacity="0.5" stroke="#3c8c6e" stroke-opacity="0.45" stroke-width="0.7"/>
<circle cx="124.1" cy="713.2" r="2.6" fill="#3c8c6e" fill-opacity="0.5" stroke="#3c8c6e" stroke-opacity="0.45" stroke-width="0.7"/>
<circle cx="130.0" cy="712.0" r="2.6" fill="#3c8c6e" fill-opacity="0.5" stroke="#3c8c6e" stroke-opacity="0.45" stroke-width="0.7"/>
<circle cx="122.9" cy="716.7" r="2.6" fill="#3c8c6e" fill-opacity="0.5" stroke="#3c8c6e" stroke-opacity="0.45" stroke-width="0.7"/>
<circle cx="119.4" cy="726.1" r="2.6" fill="#3c8c6e" fill-opacity="0.5" stroke="#3c8c6e" stroke-opacity="0.45" stroke-width="0.7"/>
<circle cx="122.9" cy="722.6" r="2.6" fill="#3c8c6e" fill-opacity="0.5" stroke="#3c8c6e" stroke-opacity="0.45" stroke-width="0.7"/>
<circle cx="128.8" cy="721.4" r="2.6" fill="#3c8c6e" fill-opacity="0.5" stroke="#3c8c6e" stroke-opacity="0.45" stroke-width="0.7"/>
<circle cx="121.8" cy="729.6" r="2.6" fill="#3c8c6e" fill-opacity="0.5" stroke="#3c8c6e" stroke-opacity="0.45" stroke-width="0.7"/>
<circle cx="125.3" cy="730.7" r="2.6" fill="#3c8c6e" fill-opacity="0.5" stroke="#3c8c6e" stroke-opacity="0.45" stroke-width="0.7"/>
<circle cx="131.1" cy="726.1" r="2.6" fill="#3c8c6e" fill-opacity="0.5" stroke="#3c8c6e" stroke-opacity="0.45" stroke-width="0.7"/>
<circle cx="129.9" cy="733.1" r="2.6" fill="#3c8c6e" fill-opacity="0.5" stroke="#3c8c6e" stroke-opacity="0.45" stroke-width="0.7"/>
<circle cx="125.3" cy="740.1" r="2.6" fill="#3c8c6e" fill-opacity="0.5" stroke="#3c8c6e" stroke-opacity="0.45" stroke-width="0.7"/>
<circle cx="124.1" cy="747.1" r="2.6" fill="#3c8c6e" fill-opacity="0.5" stroke="#3c8c6e" stroke-opacity="0.45" stroke-width="0.7"/>
<circle cx="129.9" cy="742.4" r="2.6" fill="#3c8c6e" fill-opacity="0.5" stroke="#3c8c6e" stroke-opacity="0.45" stroke-width="0.7"/>
<circle cx="139.3" cy="680.5" r="2.6" fill="#3c8c6e" fill-opacity="0.5" stroke="#3c8c6e" stroke-opacity="0.45" stroke-width="0.7"/>
<circle cx="135.8" cy="688.7" r="2.6" fill="#3c8c6e" fill-opacity="0.5" stroke="#3c8c6e" stroke-opacity="0.45" stroke-width="0.7"/>
<circle cx="142.8" cy="686.4" r="2.6" fill="#3c8c6e" fill-opacity="0.5" stroke="#3c8c6e" stroke-opacity="0.45" stroke-width="0.7"/>
<circle cx="146.3" cy="687.5" r="2.6" fill="#3c8c6e" fill-opacity="0.5" stroke="#3c8c6e" stroke-opacity="0.45" stroke-width="0.7"/>
<circle cx="138.1" cy="693.4" r="2.6" fill="#3c8c6e" fill-opacity="0.5" stroke="#3c8c6e" stroke-opacity="0.45" stroke-width="0.7"/>
<circle cx="143.9" cy="692.2" r="2.6" fill="#3c8c6e" fill-opacity="0.5" stroke="#3c8c6e" stroke-opacity="0.45" stroke-width="0.7"/>
<circle cx="139.3" cy="698.0" r="2.6" fill="#3c8c6e" fill-opacity="0.5" stroke="#3c8c6e" stroke-opacity="0.45" stroke-width="0.7"/>
<circle cx="135.8" cy="702.7" r="2.6" fill="#3c8c6e" fill-opacity="0.5" stroke="#3c8c6e" stroke-opacity="0.45" stroke-width="0.7"/>
<circle cx="143.9" cy="701.5" r="2.6" fill="#3c8c6e" fill-opacity="0.5" stroke="#3c8c6e" stroke-opacity="0.45" stroke-width="0.7"/>
<circle cx="148.6" cy="700.4" r="2.6" fill="#3c8c6e" fill-opacity="0.5" stroke="#3c8c6e" stroke-opacity="0.45" stroke-width="0.7"/>
<circle cx="153.3" cy="702.7" r="2.6" fill="#3c8c6e" fill-opacity="0.5" stroke="#3c8c6e" stroke-opacity="0.45" stroke-width="0.7"/>
<circle cx="133.4" cy="705.0" r="2.6" fill="#3c8c6e" fill-opacity="0.5" stroke="#3c8c6e" stroke-opacity="0.45" stroke-width="0.7"/>
<circle cx="140.4" cy="707.4" r="2.6" fill="#3c8c6e" fill-opacity="0.5" stroke="#3c8c6e" stroke-opacity="0.45" stroke-width="0.7"/>
<circle cx="149.8" cy="706.2" r="2.6" fill="#3c8c6e" fill-opacity="0.5" stroke="#3c8c6e" stroke-opacity="0.45" stroke-width="0.7"/>
<circle cx="134.6" cy="717.9" r="2.6" fill="#3c8c6e" fill-opacity="0.5" stroke="#3c8c6e" stroke-opacity="0.45" stroke-width="0.7"/>
<circle cx="141.6" cy="716.7" r="2.6" fill="#3c8c6e" fill-opacity="0.5" stroke="#3c8c6e" stroke-opacity="0.45" stroke-width="0.7"/>
<circle cx="152.1" cy="716.7" r="2.6" fill="#3c8c6e" fill-opacity="0.5" stroke="#3c8c6e" stroke-opacity="0.45" stroke-width="0.7"/>
<circle cx="154.5" cy="723.3" r="2.6" fill="#3c8c6e" fill-opacity="0.5" stroke="#3c8c6e" stroke-opacity="0.45" stroke-width="0.7"/>
<circle cx="138.1" cy="723.7" r="2.6" fill="#3c8c6e" fill-opacity="0.5" stroke="#3c8c6e" stroke-opacity="0.45" stroke-width="0.7"/>
<circle cx="144.0" cy="726.1" r="2.6" fill="#3c8c6e" fill-opacity="0.5" stroke="#3c8c6e" stroke-opacity="0.45" stroke-width="0.7"/>
<circle cx="148.6" cy="724.9" r="2.6" fill="#3c8c6e" fill-opacity="0.5" stroke="#3c8c6e" stroke-opacity="0.45" stroke-width="0.7"/>
<circle cx="139.3" cy="731.9" r="2.6" fill="#3c8c6e" fill-opacity="0.5" stroke="#3c8c6e" stroke-opacity="0.45" stroke-width="0.7"/>
<circle cx="145.1" cy="733.1" r="2.6" fill="#3c8c6e" fill-opacity="0.5" stroke="#3c8c6e" stroke-opacity="0.45" stroke-width="0.7"/>
<circle cx="148.6" cy="729.6" r="2.6" fill="#3c8c6e" fill-opacity="0.5" stroke="#3c8c6e" stroke-opacity="0.45" stroke-width="0.7"/>
<circle cx="135.8" cy="737.7" r="2.6" fill="#3c8c6e" fill-opacity="0.5" stroke="#3c8c6e" stroke-opacity="0.45" stroke-width="0.7"/>
<circle cx="141.6" cy="740.1" r="2.6" fill="#3c8c6e" fill-opacity="0.5" stroke="#3c8c6e" stroke-opacity="0.45" stroke-width="0.7"/>
<circle cx="146.3" cy="741.2" r="2.6" fill="#3c8c6e" fill-opacity="0.5" stroke="#3c8c6e" stroke-opacity="0.45" stroke-width="0.7"/>
<circle cx="142.8" cy="744.7" r="2.6" fill="#3c8c6e" fill-opacity="0.5" stroke="#3c8c6e" stroke-opacity="0.45" stroke-width="0.7"/>
<circle cx="139.3" cy="748.3" r="2.6" fill="#3c8c6e" fill-opacity="0.5" stroke="#3c8c6e" stroke-opacity="0.45" stroke-width="0.7"/>
<circle cx="165.0" cy="700.4" r="2.6" fill="#3c8c6e" fill-opacity="0.5" stroke="#3c8c6e" stroke-opacity="0.45" stroke-width="0.7"/>
<circle cx="168.0" cy="706.9" r="2.6" fill="#3c8c6e" fill-opacity="0.5" stroke="#3c8c6e" stroke-opacity="0.45" stroke-width="0.7"/>
<circle cx="162.6" cy="717.9" r="2.6" fill="#3c8c6e" fill-opacity="0.5" stroke="#3c8c6e" stroke-opacity="0.45" stroke-width="0.7"/>
<circle cx="166.1" cy="714.4" r="2.6" fill="#3c8c6e" fill-opacity="0.5" stroke="#3c8c6e" stroke-opacity="0.45" stroke-width="0.7"/>
<circle cx="159.1" cy="717.9" r="2.6" fill="#3c8c6e" fill-opacity="0.5" stroke="#3c8c6e" stroke-opacity="0.45" stroke-width="0.7"/>
<circle cx="167.3" cy="720.2" r="2.6" fill="#3c8c6e" fill-opacity="0.5" stroke="#3c8c6e" stroke-opacity="0.45" stroke-width="0.7"/>
<circle cx="173.1" cy="712.0" r="2.6" fill="#3c8c6e" fill-opacity="0.5" stroke="#3c8c6e" stroke-opacity="0.45" stroke-width="0.7"/>
<circle cx="173.1" cy="720.2" r="2.6" fill="#3c8c6e" fill-opacity="0.5" stroke="#3c8c6e" stroke-opacity="0.45" stroke-width="0.7"/>
<circle cx="174.3" cy="715.5" r="2.6" fill="#3c8c6e" fill-opacity="0.5" stroke="#3c8c6e" stroke-opacity="0.45" stroke-width="0.7"/>
<circle cx="165.0" cy="727.2" r="2.6" fill="#3c8c6e" fill-opacity="0.5" stroke="#3c8c6e" stroke-opacity="0.45" stroke-width="0.7"/>
<circle cx="184.8" cy="712.0" r="2.6" fill="#3c8c6e" fill-opacity="0.5" stroke="#3c8c6e" stroke-opacity="0.45" stroke-width="0.7"/>
<circle cx="189.5" cy="717.9" r="2.6" fill="#3c8c6e" fill-opacity="0.5" stroke="#3c8c6e" stroke-opacity="0.45" stroke-width="0.7"/>
<circle cx="194.4" cy="713.0" r="2.6" fill="#3c8c6e" fill-opacity="0.5" stroke="#3c8c6e" stroke-opacity="0.45" stroke-width="0.7"/>
<circle cx="194.4" cy="716.3" r="2.6" fill="#3c8c6e" fill-opacity="0.5" stroke="#3c8c6e" stroke-opacity="0.45" stroke-width="0.7"/>
<circle cx="199.9" cy="709.3" r="2.6" fill="#3c8c6e" fill-opacity="0.5" stroke="#3c8c6e" stroke-opacity="0.45" stroke-width="0.7"/>
<circle cx="200.5" cy="718.0" r="2.6" fill="#3c8c6e" fill-opacity="0.5" stroke="#3c8c6e" stroke-opacity="0.45" stroke-width="0.7"/>
<circle cx="203.1" cy="711.9" r="2.6" fill="#3c8c6e" fill-opacity="0.5" stroke="#3c8c6e" stroke-opacity="0.45" stroke-width="0.7"/>
<circle cx="204.2" cy="715.2" r="2.6" fill="#3c8c6e" fill-opacity="0.5" stroke="#3c8c6e" stroke-opacity="0.45" stroke-width="0.7"/>
<circle cx="208.6" cy="707.1" r="2.6" fill="#3c8c6e" fill-opacity="0.5" stroke="#3c8c6e" stroke-opacity="0.45" stroke-width="0.7"/>
<circle cx="211.5" cy="713.0" r="2.6" fill="#3c8c6e" fill-opacity="0.5" stroke="#3c8c6e" stroke-opacity="0.45" stroke-width="0.7"/>
<circle cx="209.3" cy="720.2" r="2.6" fill="#3c8c6e" fill-opacity="0.5" stroke="#3c8c6e" stroke-opacity="0.45" stroke-width="0.7"/>
<circle cx="216.7" cy="710.4" r="2.6" fill="#3c8c6e" fill-opacity="0.5" stroke="#3c8c6e" stroke-opacity="0.45" stroke-width="0.7"/>
<circle cx="216.7" cy="717.4" r="2.6" fill="#3c8c6e" fill-opacity="0.5" stroke="#3c8c6e" stroke-opacity="0.45" stroke-width="0.7"/>
<circle cx="245.8" cy="713.4" r="2.6" fill="#3c8c6e" fill-opacity="0.5" stroke="#3c8c6e" stroke-opacity="0.45" stroke-width="0.7"/>
<circle cx="271.0" cy="714.1" r="2.6" fill="#3c8c6e" fill-opacity="0.5" stroke="#3c8c6e" stroke-opacity="0.45" stroke-width="0.7"/>
<circle cx="133.0" cy="712.0" r="2.6" fill="#3c8c6e" fill-opacity="0.5" stroke="#3c8c6e" stroke-opacity="0.45" stroke-width="0.7"/>
<circle cx="136.0" cy="697.0" r="2.6" fill="#3c8c6e" fill-opacity="0.5" stroke="#3c8c6e" stroke-opacity="0.45" stroke-width="0.7"/>
<circle cx="131.0" cy="718.0" r="2.6" fill="#3c8c6e" fill-opacity="0.5" stroke="#3c8c6e" stroke-opacity="0.45" stroke-width="0.7"/>
<circle cx="126.0" cy="718.0" r="2.6" fill="#3c8c6e" fill-opacity="0.5" stroke="#3c8c6e" stroke-opacity="0.45" stroke-width="0.7"/>
<circle cx="104.2" cy="719.8" r="3.6" fill="#3c8c6e" fill-opacity="0.5" stroke="#3c8c6e" stroke-opacity="0.45" stroke-width="0.7"/>
<circle cx="112.9" cy="709.7" r="3.6" fill="#3c8c6e" fill-opacity="0.5" stroke="#3c8c6e" stroke-opacity="0.45" stroke-width="0.7"/>
<circle cx="146.3" cy="717.9" r="3.6" fill="#3c8c6e" fill-opacity="0.5" stroke="#3c8c6e" stroke-opacity="0.45" stroke-width="0.7"/>
<circle cx="156.8" cy="712.0" r="3.6" fill="#3c8c6e" fill-opacity="0.5" stroke="#3c8c6e" stroke-opacity="0.45" stroke-width="0.7"/>
<circle cx="161.5" cy="705.0" r="3.6" fill="#3c8c6e" fill-opacity="0.5" stroke="#3c8c6e" stroke-opacity="0.45" stroke-width="0.7"/>
<circle cx="534.3" cy="589.5" r="2.8" fill="#93600a" fill-opacity="0.5" stroke="#93600a" stroke-opacity="0.45" stroke-width="0.7"/>
<circle cx="545.3" cy="591.7" r="2.8" fill="#93600a" fill-opacity="0.5" stroke="#93600a" stroke-opacity="0.45" stroke-width="0.7"/>
<circle cx="551.1" cy="594.6" r="2.8" fill="#93600a" fill-opacity="0.5" stroke="#93600a" stroke-opacity="0.45" stroke-width="0.7"/>
<circle cx="539.4" cy="597.2" r="2.8" fill="#93600a" fill-opacity="0.5" stroke="#93600a" stroke-opacity="0.45" stroke-width="0.7"/>
<circle cx="535.8" cy="604.1" r="2.8" fill="#93600a" fill-opacity="0.5" stroke="#93600a" stroke-opacity="0.45" stroke-width="0.7"/>
<circle cx="542.3" cy="601.9" r="2.8" fill="#93600a" fill-opacity="0.5" stroke="#93600a" stroke-opacity="0.45" stroke-width="0.7"/>
<circle cx="548.2" cy="601.9" r="2.8" fill="#93600a" fill-opacity="0.5" stroke="#93600a" stroke-opacity="0.45" stroke-width="0.7"/>
<circle cx="532.1" cy="608.5" r="2.8" fill="#93600a" fill-opacity="0.5" stroke="#93600a" stroke-opacity="0.45" stroke-width="0.7"/>
<circle cx="521.9" cy="610.7" r="2.8" fill="#93600a" fill-opacity="0.5" stroke="#93600a" stroke-opacity="0.45" stroke-width="0.7"/>
<circle cx="544.5" cy="609.2" r="2.8" fill="#93600a" fill-opacity="0.5" stroke="#93600a" stroke-opacity="0.45" stroke-width="0.7"/>
<circle cx="549.6" cy="610.9" r="2.8" fill="#93600a" fill-opacity="0.5" stroke="#93600a" stroke-opacity="0.45" stroke-width="0.7"/>
<circle cx="554.7" cy="610.7" r="2.8" fill="#93600a" fill-opacity="0.5" stroke="#93600a" stroke-opacity="0.45" stroke-width="0.7"/>
<circle cx="516.1" cy="615.0" r="2.8" fill="#93600a" fill-opacity="0.5" stroke="#93600a" stroke-opacity="0.45" stroke-width="0.7"/>
<circle cx="517.5" cy="617.2" r="2.8" fill="#93600a" fill-opacity="0.5" stroke="#93600a" stroke-opacity="0.45" stroke-width="0.7"/>
<circle cx="525.5" cy="616.2" r="2.8" fill="#93600a" fill-opacity="0.5" stroke="#93600a" stroke-opacity="0.45" stroke-width="0.7"/>
<circle cx="531.4" cy="617.2" r="2.8" fill="#93600a" fill-opacity="0.5" stroke="#93600a" stroke-opacity="0.45" stroke-width="0.7"/>
<circle cx="538.7" cy="613.6" r="2.8" fill="#93600a" fill-opacity="0.5" stroke="#93600a" stroke-opacity="0.45" stroke-width="0.7"/>
<circle cx="541.6" cy="618.2" r="2.8" fill="#93600a" fill-opacity="0.5" stroke="#93600a" stroke-opacity="0.45" stroke-width="0.7"/>
<circle cx="547.4" cy="619.7" r="2.8" fill="#93600a" fill-opacity="0.5" stroke="#93600a" stroke-opacity="0.45" stroke-width="0.7"/>
<circle cx="552.6" cy="616.2" r="2.8" fill="#93600a" fill-opacity="0.5" stroke="#93600a" stroke-opacity="0.45" stroke-width="0.7"/>
<circle cx="565.0" cy="613.9" r="2.8" fill="#93600a" fill-opacity="0.5" stroke="#93600a" stroke-opacity="0.45" stroke-width="0.7"/>
<circle cx="568.6" cy="609.9" r="2.8" fill="#93600a" fill-opacity="0.5" stroke="#93600a" stroke-opacity="0.45" stroke-width="0.7"/>
<circle cx="565.7" cy="618.7" r="2.8" fill="#93600a" fill-opacity="0.5" stroke="#93600a" stroke-opacity="0.45" stroke-width="0.7"/>
<circle cx="575.9" cy="614.7" r="2.8" fill="#93600a" fill-opacity="0.5" stroke="#93600a" stroke-opacity="0.45" stroke-width="0.7"/>
<circle cx="579.6" cy="618.7" r="2.8" fill="#93600a" fill-opacity="0.5" stroke="#93600a" stroke-opacity="0.45" stroke-width="0.7"/>
<circle cx="583.9" cy="614.7" r="2.8" fill="#93600a" fill-opacity="0.5" stroke="#93600a" stroke-opacity="0.45" stroke-width="0.7"/>
<circle cx="506.6" cy="624.5" r="2.8" fill="#93600a" fill-opacity="0.5" stroke="#93600a" stroke-opacity="0.45" stroke-width="0.7"/>
<circle cx="521.2" cy="622.0" r="2.8" fill="#93600a" fill-opacity="0.5" stroke="#93600a" stroke-opacity="0.45" stroke-width="0.7"/>
<circle cx="519.7" cy="626.4" r="2.8" fill="#93600a" fill-opacity="0.5" stroke="#93600a" stroke-opacity="0.45" stroke-width="0.7"/>
<circle cx="533.6" cy="623.8" r="2.8" fill="#93600a" fill-opacity="0.5" stroke="#93600a" stroke-opacity="0.45" stroke-width="0.7"/>
<circle cx="551.1" cy="628.9" r="2.8" fill="#93600a" fill-opacity="0.5" stroke="#93600a" stroke-opacity="0.45" stroke-width="0.7"/>
<circle cx="561.3" cy="623.5" r="2.8" fill="#93600a" fill-opacity="0.5" stroke="#93600a" stroke-opacity="0.45" stroke-width="0.7"/>
<circle cx="572.3" cy="621.6" r="2.8" fill="#93600a" fill-opacity="0.5" stroke="#93600a" stroke-opacity="0.45" stroke-width="0.7"/>
<circle cx="580.3" cy="625.0" r="2.8" fill="#93600a" fill-opacity="0.5" stroke="#93600a" stroke-opacity="0.45" stroke-width="0.7"/>
<circle cx="592.0" cy="623.4" r="2.8" fill="#93600a" fill-opacity="0.5" stroke="#93600a" stroke-opacity="0.45" stroke-width="0.7"/>
<circle cx="567.2" cy="627.9" r="2.8" fill="#93600a" fill-opacity="0.5" stroke="#93600a" stroke-opacity="0.45" stroke-width="0.7"/>
<circle cx="572.3" cy="628.9" r="2.8" fill="#93600a" fill-opacity="0.5" stroke="#93600a" stroke-opacity="0.45" stroke-width="0.7"/>
<circle cx="516.8" cy="633.7" r="2.8" fill="#93600a" fill-opacity="0.5" stroke="#93600a" stroke-opacity="0.45" stroke-width="0.7"/>
<circle cx="521.9" cy="633.3" r="2.8" fill="#93600a" fill-opacity="0.5" stroke="#93600a" stroke-opacity="0.45" stroke-width="0.7"/>
<circle cx="531.4" cy="634.0" r="2.8" fill="#93600a" fill-opacity="0.5" stroke="#93600a" stroke-opacity="0.45" stroke-width="0.7"/>
<circle cx="542.3" cy="634.7" r="2.8" fill="#93600a" fill-opacity="0.5" stroke="#93600a" stroke-opacity="0.45" stroke-width="0.7"/>
<circle cx="562.5" cy="632.3" r="2.8" fill="#93600a" fill-opacity="0.5" stroke="#93600a" stroke-opacity="0.45" stroke-width="0.7"/>
<circle cx="578.8" cy="631.4" r="2.8" fill="#93600a" fill-opacity="0.5" stroke="#93600a" stroke-opacity="0.45" stroke-width="0.7"/>
<circle cx="583.9" cy="632.8" r="2.8" fill="#93600a" fill-opacity="0.5" stroke="#93600a" stroke-opacity="0.45" stroke-width="0.7"/>
<circle cx="523.1" cy="639.1" r="2.8" fill="#93600a" fill-opacity="0.5" stroke="#93600a" stroke-opacity="0.45" stroke-width="0.7"/>
<circle cx="535.0" cy="639.9" r="2.8" fill="#93600a" fill-opacity="0.5" stroke="#93600a" stroke-opacity="0.45" stroke-width="0.7"/>
<circle cx="553.3" cy="639.1" r="2.8" fill="#93600a" fill-opacity="0.5" stroke="#93600a" stroke-opacity="0.45" stroke-width="0.7"/>
<circle cx="560.6" cy="641.3" r="2.8" fill="#93600a" fill-opacity="0.5" stroke="#93600a" stroke-opacity="0.45" stroke-width="0.7"/>
<circle cx="565.7" cy="637.2" r="2.8" fill="#93600a" fill-opacity="0.5" stroke="#93600a" stroke-opacity="0.45" stroke-width="0.7"/>
<circle cx="570.8" cy="637.2" r="2.8" fill="#93600a" fill-opacity="0.5" stroke="#93600a" stroke-opacity="0.45" stroke-width="0.7"/>
<circle cx="521.2" cy="644.5" r="2.8" fill="#93600a" fill-opacity="0.5" stroke="#93600a" stroke-opacity="0.45" stroke-width="0.7"/>
<circle cx="543.8" cy="643.5" r="2.8" fill="#93600a" fill-opacity="0.5" stroke="#93600a" stroke-opacity="0.45" stroke-width="0.7"/>
<circle cx="530.7" cy="649.3" r="2.8" fill="#93600a" fill-opacity="0.5" stroke="#93600a" stroke-opacity="0.45" stroke-width="0.7"/>
<circle cx="537.2" cy="648.3" r="2.8" fill="#93600a" fill-opacity="0.5" stroke="#93600a" stroke-opacity="0.45" stroke-width="0.7"/>
<circle cx="540.9" cy="651.5" r="2.8" fill="#93600a" fill-opacity="0.5" stroke="#93600a" stroke-opacity="0.45" stroke-width="0.7"/>
<circle cx="548.9" cy="647.2" r="2.8" fill="#93600a" fill-opacity="0.5" stroke="#93600a" stroke-opacity="0.45" stroke-width="0.7"/>
<circle cx="551.8" cy="650.1" r="2.8" fill="#93600a" fill-opacity="0.5" stroke="#93600a" stroke-opacity="0.45" stroke-width="0.7"/>
<circle cx="547.4" cy="655.9" r="2.8" fill="#93600a" fill-opacity="0.5" stroke="#93600a" stroke-opacity="0.45" stroke-width="0.7"/>
<circle cx="534.3" cy="658.5" r="2.8" fill="#93600a" fill-opacity="0.5" stroke="#93600a" stroke-opacity="0.45" stroke-width="0.7"/>
<circle cx="422.6" cy="623.6" r="2.8" fill="#93600a" fill-opacity="0.5" stroke="#93600a" stroke-opacity="0.45" stroke-width="0.7"/>
<circle cx="443.0" cy="624.8" r="2.8" fill="#93600a" fill-opacity="0.5" stroke="#93600a" stroke-opacity="0.45" stroke-width="0.7"/>
<circle cx="461.1" cy="621.9" r="2.8" fill="#93600a" fill-opacity="0.5" stroke="#93600a" stroke-opacity="0.45" stroke-width="0.7"/>
<circle cx="468.7" cy="627.0" r="2.8" fill="#93600a" fill-opacity="0.5" stroke="#93600a" stroke-opacity="0.45" stroke-width="0.7"/>
<circle cx="471.9" cy="622.3" r="2.8" fill="#93600a" fill-opacity="0.5" stroke="#93600a" stroke-opacity="0.45" stroke-width="0.7"/>
<circle cx="480.0" cy="624.5" r="2.8" fill="#93600a" fill-opacity="0.5" stroke="#93600a" stroke-opacity="0.45" stroke-width="0.7"/>
<circle cx="486.5" cy="619.7" r="2.8" fill="#93600a" fill-opacity="0.5" stroke="#93600a" stroke-opacity="0.45" stroke-width="0.7"/>
<circle cx="497.5" cy="623.1" r="2.8" fill="#93600a" fill-opacity="0.5" stroke="#93600a" stroke-opacity="0.45" stroke-width="0.7"/>
<circle cx="514.3" cy="633.9" r="2.8" fill="#93600a" fill-opacity="0.5" stroke="#93600a" stroke-opacity="0.45" stroke-width="0.7"/>
<circle cx="604.5" cy="624.5" r="2.8" fill="#93600a" fill-opacity="0.5" stroke="#93600a" stroke-opacity="0.45" stroke-width="0.7"/>
<circle cx="631.9" cy="622.0" r="2.8" fill="#93600a" fill-opacity="0.5" stroke="#93600a" stroke-opacity="0.45" stroke-width="0.7"/>
<circle cx="645.4" cy="624.9" r="2.8" fill="#93600a" fill-opacity="0.5" stroke="#93600a" stroke-opacity="0.45" stroke-width="0.7"/>
<circle cx="529.2" cy="600.4" r="3.8" fill="#93600a" fill-opacity="0.5" stroke="#93600a" stroke-opacity="0.45" stroke-width="0.7"/>
<circle cx="520.4" cy="604.1" r="4.5" fill="#93600a" fill-opacity="0.5" stroke="#93600a" stroke-opacity="0.45" stroke-width="0.7"/>
<circle cx="553.3" cy="600.4" r="3.8" fill="#93600a" fill-opacity="0.5" stroke="#93600a" stroke-opacity="0.45" stroke-width="0.7"/>
<circle cx="558.4" cy="603.6" r="3.8" fill="#93600a" fill-opacity="0.5" stroke="#93600a" stroke-opacity="0.45" stroke-width="0.7"/>
<circle cx="528.9" cy="628.9" r="3.8" fill="#93600a" fill-opacity="0.5" stroke="#93600a" stroke-opacity="0.45" stroke-width="0.7"/>
<circle cx="538.7" cy="630.4" r="3.8" fill="#93600a" fill-opacity="0.5" stroke="#93600a" stroke-opacity="0.45" stroke-width="0.7"/>
<circle cx="545.3" cy="626.7" r="3.8" fill="#93600a" fill-opacity="0.5" stroke="#93600a" stroke-opacity="0.45" stroke-width="0.7"/>
<circle cx="553.3" cy="632.6" r="3.8" fill="#93600a" fill-opacity="0.5" stroke="#93600a" stroke-opacity="0.45" stroke-width="0.7"/>
<circle cx="530.7" cy="642.0" r="3.8" fill="#93600a" fill-opacity="0.5" stroke="#93600a" stroke-opacity="0.45" stroke-width="0.7"/>
<circle cx="547.4" cy="638.1" r="3.8" fill="#93600a" fill-opacity="0.5" stroke="#93600a" stroke-opacity="0.45" stroke-width="0.7"/>
<circle cx="556.2" cy="624.1" r="1.9" fill="#93600a" fill-opacity="0.5" stroke="#93600a" stroke-opacity="0.45" stroke-width="0.7"/>
<circle cx="488.3" cy="628.0" r="1.9" fill="#93600a" fill-opacity="0.5" stroke="#93600a" stroke-opacity="0.45" stroke-width="0.7"/>
<circle cx="525.8" cy="685.3" r="2.8" fill="#3c8c6e" fill-opacity="0.45" stroke="#3c8c6e" stroke-opacity="0.45" stroke-width="0.7"/>
<circle cx="530.9" cy="685.3" r="2.8" fill="#3c8c6e" fill-opacity="0.45" stroke="#3c8c6e" stroke-opacity="0.45" stroke-width="0.7"/>
<circle cx="523.6" cy="689.7" r="2.8" fill="#3c8c6e" fill-opacity="0.45" stroke="#3c8c6e" stroke-opacity="0.45" stroke-width="0.7"/>
<circle cx="530.1" cy="689.7" r="2.8" fill="#3c8c6e" fill-opacity="0.45" stroke="#3c8c6e" stroke-opacity="0.45" stroke-width="0.7"/>
<circle cx="527.2" cy="694.8" r="2.8" fill="#3c8c6e" fill-opacity="0.45" stroke="#3c8c6e" stroke-opacity="0.45" stroke-width="0.7"/>
<circle cx="546.2" cy="692.6" r="2.8" fill="#3c8c6e" fill-opacity="0.45" stroke="#3c8c6e" stroke-opacity="0.45" stroke-width="0.7"/>
<circle cx="531.6" cy="699.2" r="2.8" fill="#3c8c6e" fill-opacity="0.45" stroke="#3c8c6e" stroke-opacity="0.45" stroke-width="0.7"/>
<circle cx="538.2" cy="699.2" r="2.8" fill="#3c8c6e" fill-opacity="0.45" stroke="#3c8c6e" stroke-opacity="0.45" stroke-width="0.7"/>
<circle cx="544.0" cy="698.5" r="2.8" fill="#3c8c6e" fill-opacity="0.45" stroke="#3c8c6e" stroke-opacity="0.45" stroke-width="0.7"/>
<circle cx="536.7" cy="702.8" r="2.8" fill="#3c8c6e" fill-opacity="0.45" stroke="#3c8c6e" stroke-opacity="0.45" stroke-width="0.7"/>
<circle cx="527.2" cy="703.3" r="2.8" fill="#3c8c6e" fill-opacity="0.45" stroke="#3c8c6e" stroke-opacity="0.45" stroke-width="0.7"/>
<circle cx="545.5" cy="704.3" r="2.8" fill="#3c8c6e" fill-opacity="0.45" stroke="#3c8c6e" stroke-opacity="0.45" stroke-width="0.7"/>
<circle cx="517.7" cy="706.5" r="2.8" fill="#3c8c6e" fill-opacity="0.45" stroke="#3c8c6e" stroke-opacity="0.45" stroke-width="0.7"/>
<circle cx="519.9" cy="708.7" r="2.8" fill="#3c8c6e" fill-opacity="0.45" stroke="#3c8c6e" stroke-opacity="0.45" stroke-width="0.7"/>
<circle cx="502.4" cy="707.7" r="2.8" fill="#3c8c6e" fill-opacity="0.45" stroke="#3c8c6e" stroke-opacity="0.45" stroke-width="0.7"/>
<circle cx="492.2" cy="712.6" r="2.8" fill="#3c8c6e" fill-opacity="0.45" stroke="#3c8c6e" stroke-opacity="0.45" stroke-width="0.7"/>
<circle cx="500.2" cy="712.3" r="2.8" fill="#3c8c6e" fill-opacity="0.45" stroke="#3c8c6e" stroke-opacity="0.45" stroke-width="0.7"/>
<circle cx="514.1" cy="713.1" r="2.8" fill="#3c8c6e" fill-opacity="0.45" stroke="#3c8c6e" stroke-opacity="0.45" stroke-width="0.7"/>
<circle cx="524.3" cy="712.3" r="2.8" fill="#3c8c6e" fill-opacity="0.45" stroke="#3c8c6e" stroke-opacity="0.45" stroke-width="0.7"/>
<circle cx="530.1" cy="708.0" r="2.8" fill="#3c8c6e" fill-opacity="0.45" stroke="#3c8c6e" stroke-opacity="0.45" stroke-width="0.7"/>
<circle cx="536.7" cy="708.7" r="2.8" fill="#3c8c6e" fill-opacity="0.45" stroke="#3c8c6e" stroke-opacity="0.45" stroke-width="0.7"/>
<circle cx="541.8" cy="710.9" r="2.8" fill="#3c8c6e" fill-opacity="0.45" stroke="#3c8c6e" stroke-opacity="0.45" stroke-width="0.7"/>
<circle cx="498.0" cy="719.6" r="2.8" fill="#3c8c6e" fill-opacity="0.45" stroke="#3c8c6e" stroke-opacity="0.45" stroke-width="0.7"/>
<circle cx="508.2" cy="717.0" r="2.8" fill="#3c8c6e" fill-opacity="0.45" stroke="#3c8c6e" stroke-opacity="0.45" stroke-width="0.7"/>
<circle cx="517.7" cy="718.2" r="2.8" fill="#3c8c6e" fill-opacity="0.45" stroke="#3c8c6e" stroke-opacity="0.45" stroke-width="0.7"/>
<circle cx="522.8" cy="716.7" r="2.8" fill="#3c8c6e" fill-opacity="0.45" stroke="#3c8c6e" stroke-opacity="0.45" stroke-width="0.7"/>
<circle cx="531.6" cy="716.4" r="2.8" fill="#3c8c6e" fill-opacity="0.45" stroke="#3c8c6e" stroke-opacity="0.45" stroke-width="0.7"/>
<circle cx="537.4" cy="718.2" r="2.8" fill="#3c8c6e" fill-opacity="0.45" stroke="#3c8c6e" stroke-opacity="0.45" stroke-width="0.7"/>
<circle cx="544.0" cy="716.4" r="2.8" fill="#3c8c6e" fill-opacity="0.45" stroke="#3c8c6e" stroke-opacity="0.45" stroke-width="0.7"/>
<circle cx="565.2" cy="709.7" r="2.8" fill="#3c8c6e" fill-opacity="0.45" stroke="#3c8c6e" stroke-opacity="0.45" stroke-width="0.7"/>
<circle cx="565.9" cy="718.2" r="2.8" fill="#3c8c6e" fill-opacity="0.45" stroke="#3c8c6e" stroke-opacity="0.45" stroke-width="0.7"/>
<circle cx="573.2" cy="708.2" r="2.8" fill="#3c8c6e" fill-opacity="0.45" stroke="#3c8c6e" stroke-opacity="0.45" stroke-width="0.7"/>
<circle cx="573.2" cy="712.3" r="2.8" fill="#3c8c6e" fill-opacity="0.45" stroke="#3c8c6e" stroke-opacity="0.45" stroke-width="0.7"/>
<circle cx="573.2" cy="716.4" r="2.8" fill="#3c8c6e" fill-opacity="0.45" stroke="#3c8c6e" stroke-opacity="0.45" stroke-width="0.7"/>
<circle cx="579.8" cy="716.7" r="2.8" fill="#3c8c6e" fill-opacity="0.45" stroke="#3c8c6e" stroke-opacity="0.45" stroke-width="0.7"/>
<circle cx="582.0" cy="712.0" r="2.8" fill="#3c8c6e" fill-opacity="0.45" stroke="#3c8c6e" stroke-opacity="0.45" stroke-width="0.7"/>
<circle cx="517.7" cy="721.8" r="2.8" fill="#3c8c6e" fill-opacity="0.45" stroke="#3c8c6e" stroke-opacity="0.45" stroke-width="0.7"/>
<circle cx="528.0" cy="721.1" r="2.8" fill="#3c8c6e" fill-opacity="0.45" stroke="#3c8c6e" stroke-opacity="0.45" stroke-width="0.7"/>
<circle cx="543.3" cy="721.4" r="2.8" fill="#3c8c6e" fill-opacity="0.45" stroke="#3c8c6e" stroke-opacity="0.45" stroke-width="0.7"/>
<circle cx="549.9" cy="721.8" r="2.8" fill="#3c8c6e" fill-opacity="0.45" stroke="#3c8c6e" stroke-opacity="0.45" stroke-width="0.7"/>
<circle cx="530.9" cy="725.2" r="2.8" fill="#3c8c6e" fill-opacity="0.45" stroke="#3c8c6e" stroke-opacity="0.45" stroke-width="0.7"/>
<circle cx="534.5" cy="725.2" r="2.8" fill="#3c8c6e" fill-opacity="0.45" stroke="#3c8c6e" stroke-opacity="0.45" stroke-width="0.7"/>
<circle cx="526.5" cy="728.4" r="2.8" fill="#3c8c6e" fill-opacity="0.45" stroke="#3c8c6e" stroke-opacity="0.45" stroke-width="0.7"/>
<circle cx="536.7" cy="728.4" r="2.8" fill="#3c8c6e" fill-opacity="0.45" stroke="#3c8c6e" stroke-opacity="0.45" stroke-width="0.7"/>
<circle cx="541.8" cy="730.6" r="2.8" fill="#3c8c6e" fill-opacity="0.45" stroke="#3c8c6e" stroke-opacity="0.45" stroke-width="0.7"/>
<circle cx="544.7" cy="728.4" r="2.8" fill="#3c8c6e" fill-opacity="0.45" stroke="#3c8c6e" stroke-opacity="0.45" stroke-width="0.7"/>
<circle cx="546.9" cy="735.4" r="2.8" fill="#3c8c6e" fill-opacity="0.45" stroke="#3c8c6e" stroke-opacity="0.45" stroke-width="0.7"/>
<circle cx="523.6" cy="740.1" r="2.8" fill="#3c8c6e" fill-opacity="0.45" stroke="#3c8c6e" stroke-opacity="0.45" stroke-width="0.7"/>
<circle cx="528.0" cy="737.4" r="2.8" fill="#3c8c6e" fill-opacity="0.45" stroke="#3c8c6e" stroke-opacity="0.45" stroke-width="0.7"/>
<circle cx="530.1" cy="742.3" r="2.8" fill="#3c8c6e" fill-opacity="0.45" stroke="#3c8c6e" stroke-opacity="0.45" stroke-width="0.7"/>
<circle cx="533.1" cy="741.5" r="2.8" fill="#3c8c6e" fill-opacity="0.45" stroke="#3c8c6e" stroke-opacity="0.45" stroke-width="0.7"/>
<circle cx="455.2" cy="714.2" r="2.8" fill="#3c8c6e" fill-opacity="0.45" stroke="#3c8c6e" stroke-opacity="0.45" stroke-width="0.7"/>
<circle cx="549.9" cy="705.0" r="5" fill="#3c8c6e" fill-opacity="0.45" stroke="#3c8c6e" stroke-opacity="0.45" stroke-width="0.7"/>
<circle cx="501.5" cy="716.2" r="4" fill="#3c8c6e" fill-opacity="0.45" stroke="#3c8c6e" stroke-opacity="0.45" stroke-width="0.7"/>
<circle cx="557.2" cy="714.5" r="4.5" fill="#3c8c6e" fill-opacity="0.45" stroke="#3c8c6e" stroke-opacity="0.45" stroke-width="0.7"/>
<circle cx="533.8" cy="713.5" r="1.9" fill="#3c8c6e" fill-opacity="0.45" stroke="#3c8c6e" stroke-opacity="0.45" stroke-width="0.7"/>
<circle cx="530.9" cy="733.1" r="1.9" fill="#3c8c6e" fill-opacity="0.45" stroke="#3c8c6e" stroke-opacity="0.45" stroke-width="0.7"/>
<circle cx="477.7" cy="715.5" r="1.9" fill="#3c8c6e" fill-opacity="0.45" stroke="#3c8c6e" stroke-opacity="0.45" stroke-width="0.7"/>
<line x1="156.00" y1="623.60" x2="164.60" y2="623.60" stroke="#000" stroke-width="2.2" />
<circle cx="160.1" cy="623.6" r="2.3" fill="#b87a10" stroke="#000" stroke-width="1.2"/>
<line x1="134.60" y1="714.00" x2="148.60" y2="714.00" stroke="#000" stroke-width="2.2" />
<circle cx="140.9" cy="714.0" r="2.3" fill="#3c8c6e" stroke="#000" stroke-width="1.2"/>
<line x1="527.40" y1="623.60" x2="545.50" y2="623.60" stroke="#000" stroke-width="2.2" />
<circle cx="536.5" cy="623.6" r="2.3" fill="#b87a10" stroke="#000" stroke-width="1.2"/>
<line x1="538.20" y1="714.10" x2="556.90" y2="714.10" stroke="#000" stroke-width="2.2" />
<circle cx="547.4" cy="714.1" r="2.3" fill="#3c8c6e" stroke="#000" stroke-width="1.2"/>
<line x1="126.80" y1="568.80" x2="126.80" y2="768.00" stroke="#777" stroke-width="1.1" stroke-dasharray="4,3"/>
<line x1="38.20" y1="568.80" x2="38.20" y2="768.50" stroke="#000" stroke-width="1.1" />
<line x1="37.70" y1="768.00" x2="328.90" y2="768.00" stroke="#000" stroke-width="1.1" />
<line x1="35.40" y1="623.60" x2="38.20" y2="623.60" stroke="#333" stroke-width="1" />
<line x1="35.40" y1="714.20" x2="38.20" y2="714.20" stroke="#333" stroke-width="1" />
<line x1="126.80" y1="768.00" x2="126.80" y2="770.80" stroke="#333" stroke-width="1" />
<text x="126.8" y="784.5" font-size="15" text-anchor="middle" fill="#000" >0</text>
<line x1="222.90" y1="768.00" x2="222.90" y2="770.80" stroke="#333" stroke-width="1" />
<text x="222.9" y="784.5" font-size="15" text-anchor="middle" fill="#000" >1</text>
<line x1="319.00" y1="768.00" x2="319.00" y2="770.80" stroke="#333" stroke-width="1" />
<text x="319.0" y="784.5" font-size="15" text-anchor="middle" fill="#000" >2</text>
<line x1="529.70" y1="568.80" x2="529.70" y2="768.00" stroke="#777" stroke-width="1.1" stroke-dasharray="4,3"/>
<line x1="392.20" y1="568.80" x2="392.20" y2="768.50" stroke="#000" stroke-width="1.1" />
<line x1="391.70" y1="768.00" x2="685.00" y2="768.00" stroke="#000" stroke-width="1.1" />
<line x1="389.40" y1="623.60" x2="392.20" y2="623.60" stroke="#333" stroke-width="1" />
<line x1="389.40" y1="714.20" x2="392.20" y2="714.20" stroke="#333" stroke-width="1" />
<line x1="458.70" y1="768.00" x2="458.70" y2="770.80" stroke="#333" stroke-width="1" />
<text x="458.7" y="784.5" font-size="15" text-anchor="middle" fill="#000" >-0.4</text>
<line x1="529.70" y1="768.00" x2="529.70" y2="770.80" stroke="#333" stroke-width="1" />
<text x="529.7" y="784.5" font-size="15" text-anchor="middle" fill="#000" >0.0</text>
<line x1="600.70" y1="768.00" x2="600.70" y2="770.80" stroke="#333" stroke-width="1" />
<text x="600.7" y="784.5" font-size="15" text-anchor="middle" fill="#000" >0.4</text>
<line x1="671.70" y1="768.00" x2="671.70" y2="770.80" stroke="#333" stroke-width="1" />
<text x="671.7" y="784.5" font-size="15" text-anchor="middle" fill="#000" >0.8</text>
<text x="184.2" y="802.6" font-size="16.7" text-anchor="middle" fill="#000" >RR of POC</text>
<text x="538.9" y="802.6" font-size="16.7" text-anchor="middle" fill="#000" >RR of MAOC</text>
<text x="2.5" y="575.3" font-size="27" text-anchor="start" fill="#000" >d</text>
<text x="340.6" y="575.6" font-size="27" text-anchor="start" fill="#000" >e</text>
<text font-size="15" text-anchor="middle" transform="translate(13.2 623.9) rotate(-90)"><tspan x="0" y="0">Before</tspan><tspan x="0" y="17.7">threshold</tspan></text>
<text font-size="15" text-anchor="middle" transform="translate(13.2 714.4) rotate(-90)"><tspan x="0" y="0">After</tspan><tspan x="0" y="17.7">threshold</tspan></text>
<text font-size="15" text-anchor="middle" transform="translate(366.4 623.9) rotate(-90)"><tspan x="0" y="0">Before</tspan><tspan x="0" y="17.7">threshold</tspan></text>
<text font-size="15" text-anchor="middle" transform="translate(366.4 714.4) rotate(-90)"><tspan x="0" y="0">After</tspan><tspan x="0" y="17.7">threshold</tspan></text>
<text x="251.5" y="744.1" font-size="13.7">Q<tspan font-size="8" dy="4.8" fill="#333">M</tspan><tspan dy="-4.8"> = 19.5</tspan></text>
<text x="251.5" y="760.5" font-size="13.7"><tspan font-style="italic">P</tspan> &lt; 0.001</text>
<text x="609.5" y="744.1" font-size="13.7">Q<tspan font-size="8" dy="4.8" fill="#333">M</tspan><tspan dy="-4.8"> = 9.24</tspan></text>
<text x="609.5" y="760.5" font-size="13.7"><tspan font-style="italic">P</tspan> &lt; 0.01</text>
</svg></body></html>
